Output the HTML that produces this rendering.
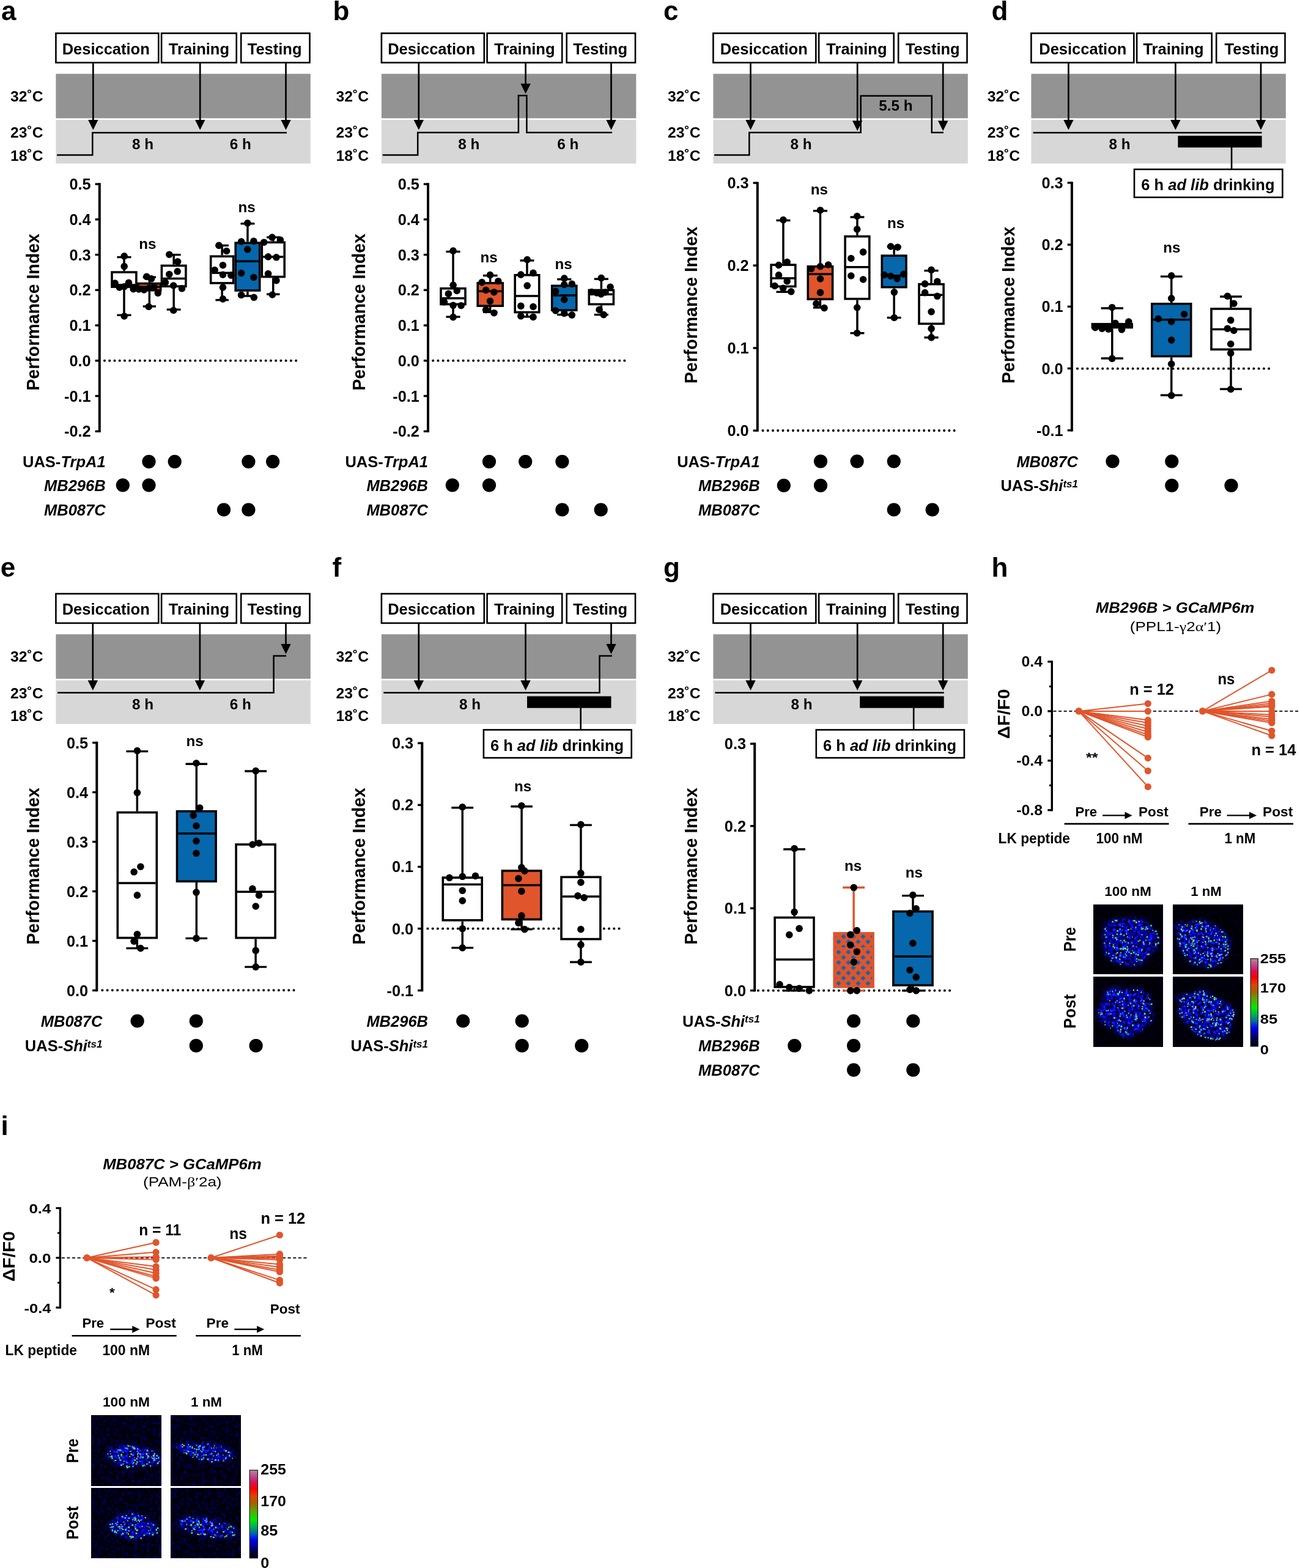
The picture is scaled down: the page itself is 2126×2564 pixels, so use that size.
<!DOCTYPE html>
<html><head><meta charset="utf-8"><title>Figure</title>
<style>
html,body{margin:0;padding:0;background:#fff;width:2126px;height:2564px;overflow:hidden;}
svg{display:block;}
</style></head>
<body>
<svg width="2126" height="2564" viewBox="0 0 2126 2564">
<defs>
<pattern id="hatch" patternUnits="userSpaceOnUse" x="1363.5" y="1527.25" width="16" height="17">
<rect width="16" height="17" fill="#e0552c"/>
<polygon points="0,0.15 4.1,4.25 0,8.35 -4.1,4.25" fill="#1463ad"/><polygon points="16,0.15 20.1,4.25 16,8.35 11.9,4.25" fill="#1463ad"/>
<polygon points="8,8.65 12.1,12.75 8,16.85 3.9,12.75" fill="#1463ad"/>
</pattern>
<linearGradient id="cbar" x1="0" y1="0" x2="0" y2="1">
<stop offset="0" stop-color="#b58aa3"/><stop offset="0.07" stop-color="#c04a86"/><stop offset="0.14" stop-color="#d4105c"/>
<stop offset="0.21" stop-color="#ff0000"/><stop offset="0.30" stop-color="#e04400"/><stop offset="0.38" stop-color="#a06400"/>
<stop offset="0.46" stop-color="#5ea400"/><stop offset="0.56" stop-color="#00ea00"/><stop offset="0.64" stop-color="#00b050"/>
<stop offset="0.71" stop-color="#0070a0"/><stop offset="0.79" stop-color="#0000ff"/><stop offset="0.89" stop-color="#000070"/>
<stop offset="1" stop-color="#000000"/>
</linearGradient>
<filter id="soft" x="-20%" y="-20%" width="140%" height="140%"><feGaussianBlur stdDeviation="2.2"/></filter>
<filter id="spk" x="-5%" y="-5%" width="110%" height="110%"><feGaussianBlur stdDeviation="0.45"/></filter>
<filter id="hm1" filterUnits="userSpaceOnUse" x="1788.2" y="1479.2" width="113.8" height="113.8" color-interpolation-filters="sRGB"><feGaussianBlur in="SourceAlpha" stdDeviation="3.4" result="a"/><feTurbulence type="fractalNoise" baseFrequency="0.2" numOctaves="2" seed="21" result="t"/><feColorMatrix in="t" type="matrix" values="0 0 0 0 0.03  1.5 0 0 0 -0.92  2.9 0 0 0 -0.88  0 0 0 0 1" result="c"/><feComposite in="c" in2="a" operator="in" result="blob"/><feColorMatrix in="t" type="matrix" values="0 0 0 0 0  0 0 0 0 0  0 0.4 0 0 -0.17  0 0 0 0 1" result="bg"/><feMerge result="m"><feMergeNode in="bg"/><feMergeNode in="blob"/></feMerge><feGaussianBlur in="m" stdDeviation="0.6"/></filter>
<filter id="hm2" filterUnits="userSpaceOnUse" x="1788.2" y="1597.2" width="113.8" height="114" color-interpolation-filters="sRGB"><feGaussianBlur in="SourceAlpha" stdDeviation="3.4" result="a"/><feTurbulence type="fractalNoise" baseFrequency="0.2" numOctaves="2" seed="22" result="t"/><feColorMatrix in="t" type="matrix" values="0 0 0 0 0.03  1.5 0 0 0 -0.92  2.9 0 0 0 -0.88  0 0 0 0 1" result="c"/><feComposite in="c" in2="a" operator="in" result="blob"/><feColorMatrix in="t" type="matrix" values="0 0 0 0 0  0 0 0 0 0  0 0.4 0 0 -0.17  0 0 0 0 1" result="bg"/><feMerge result="m"><feMergeNode in="bg"/><feMergeNode in="blob"/></feMerge><feGaussianBlur in="m" stdDeviation="0.6"/></filter>
<filter id="hm3" filterUnits="userSpaceOnUse" x="1918" y="1479.2" width="114.1" height="113.8" color-interpolation-filters="sRGB"><feGaussianBlur in="SourceAlpha" stdDeviation="3.4" result="a"/><feTurbulence type="fractalNoise" baseFrequency="0.2" numOctaves="2" seed="23" result="t"/><feColorMatrix in="t" type="matrix" values="0 0 0 0 0.03  1.5 0 0 0 -0.92  2.9 0 0 0 -0.88  0 0 0 0 1" result="c"/><feComposite in="c" in2="a" operator="in" result="blob"/><feColorMatrix in="t" type="matrix" values="0 0 0 0 0  0 0 0 0 0  0 0.4 0 0 -0.17  0 0 0 0 1" result="bg"/><feMerge result="m"><feMergeNode in="bg"/><feMergeNode in="blob"/></feMerge><feGaussianBlur in="m" stdDeviation="0.6"/></filter>
<filter id="hm4" filterUnits="userSpaceOnUse" x="1918" y="1597.2" width="114.1" height="114" color-interpolation-filters="sRGB"><feGaussianBlur in="SourceAlpha" stdDeviation="3.4" result="a"/><feTurbulence type="fractalNoise" baseFrequency="0.2" numOctaves="2" seed="24" result="t"/><feColorMatrix in="t" type="matrix" values="0 0 0 0 0.03  1.5 0 0 0 -0.92  2.9 0 0 0 -0.88  0 0 0 0 1" result="c"/><feComposite in="c" in2="a" operator="in" result="blob"/><feColorMatrix in="t" type="matrix" values="0 0 0 0 0  0 0 0 0 0  0 0.4 0 0 -0.17  0 0 0 0 1" result="bg"/><feMerge result="m"><feMergeNode in="bg"/><feMergeNode in="blob"/></feMerge><feGaussianBlur in="m" stdDeviation="0.6"/></filter>
<filter id="hm5" filterUnits="userSpaceOnUse" x="149.3" y="2314.9" width="114.3" height="114.3" color-interpolation-filters="sRGB"><feGaussianBlur in="SourceAlpha" stdDeviation="3.4" result="a"/><feTurbulence type="fractalNoise" baseFrequency="0.2" numOctaves="2" seed="51" result="t"/><feColorMatrix in="t" type="matrix" values="0 0 0 0 0.03  1.5 0 0 0 -0.92  3.2 0 0 0 -1  0 0 0 0 1" result="c"/><feComposite in="c" in2="a" operator="in" result="blob"/><feColorMatrix in="t" type="matrix" values="0 0 0 0 0  0 0 0 0 0  0 1.1 0 0 -0.47  0 0 0 0 1" result="bg"/><feMerge result="m"><feMergeNode in="bg"/><feMergeNode in="blob"/></feMerge><feGaussianBlur in="m" stdDeviation="0.6"/></filter>
<filter id="hm6" filterUnits="userSpaceOnUse" x="149.3" y="2433.3" width="114.3" height="114.4" color-interpolation-filters="sRGB"><feGaussianBlur in="SourceAlpha" stdDeviation="3.4" result="a"/><feTurbulence type="fractalNoise" baseFrequency="0.2" numOctaves="2" seed="52" result="t"/><feColorMatrix in="t" type="matrix" values="0 0 0 0 0.03  1.5 0 0 0 -0.92  3.2 0 0 0 -1  0 0 0 0 1" result="c"/><feComposite in="c" in2="a" operator="in" result="blob"/><feColorMatrix in="t" type="matrix" values="0 0 0 0 0  0 0 0 0 0  0 1.1 0 0 -0.47  0 0 0 0 1" result="bg"/><feMerge result="m"><feMergeNode in="bg"/><feMergeNode in="blob"/></feMerge><feGaussianBlur in="m" stdDeviation="0.6"/></filter>
<filter id="hm7" filterUnits="userSpaceOnUse" x="279.5" y="2314.9" width="114.2" height="114.3" color-interpolation-filters="sRGB"><feGaussianBlur in="SourceAlpha" stdDeviation="3.4" result="a"/><feTurbulence type="fractalNoise" baseFrequency="0.2" numOctaves="2" seed="53" result="t"/><feColorMatrix in="t" type="matrix" values="0 0 0 0 0.03  1.5 0 0 0 -0.92  3.1 0 0 0 -1  0 0 0 0 1" result="c"/><feComposite in="c" in2="a" operator="in" result="blob"/><feColorMatrix in="t" type="matrix" values="0 0 0 0 0  0 0 0 0 0  0 1.1 0 0 -0.47  0 0 0 0 1" result="bg"/><feMerge result="m"><feMergeNode in="bg"/><feMergeNode in="blob"/></feMerge><feGaussianBlur in="m" stdDeviation="0.6"/></filter>
<filter id="hm8" filterUnits="userSpaceOnUse" x="279.5" y="2433.3" width="114.2" height="114.4" color-interpolation-filters="sRGB"><feGaussianBlur in="SourceAlpha" stdDeviation="3.4" result="a"/><feTurbulence type="fractalNoise" baseFrequency="0.2" numOctaves="2" seed="54" result="t"/><feColorMatrix in="t" type="matrix" values="0 0 0 0 0.03  1.5 0 0 0 -0.92  3.1 0 0 0 -1  0 0 0 0 1" result="c"/><feComposite in="c" in2="a" operator="in" result="blob"/><feColorMatrix in="t" type="matrix" values="0 0 0 0 0  0 0 0 0 0  0 1.1 0 0 -0.47  0 0 0 0 1" result="bg"/><feMerge result="m"><feMergeNode in="bg"/><feMergeNode in="blob"/></feMerge><feGaussianBlur in="m" stdDeviation="0.6"/></filter>
</defs>
<rect width="2126" height="2564" fill="#fff"/>
<g font-family="'Liberation Sans', Arial, sans-serif" font-weight="bold" fill="#000">
<text x="2" y="32.6" font-size="44">a</text>
<text x="544.5" y="33" font-size="44">b</text>
<text x="1085" y="32.6" font-size="44">c</text>
<text x="1621.5" y="33" font-size="44">d</text>
<text x="0.8" y="942.6" font-size="44">e</text>
<text x="543.5" y="942.6" font-size="44">f</text>
<text x="1085" y="942.6" font-size="44">g</text>
<text x="1621.5" y="942.6" font-size="44">h</text>
<text x="1.5" y="1856" font-size="44">i</text>
<rect x="91.4" y="120.7" width="416.4" height="72.7" fill="#939393"/>
<rect x="91.4" y="196" width="416.4" height="71.4" fill="#d7d7d7"/>
<rect x="91.4" y="54.4" width="167.9" height="48" fill="#fff" stroke="#000" stroke-width="2.6"/>
<text x="173.2" y="88.8" font-size="25.5" text-anchor="middle">Desiccation</text>
<rect x="264.1" y="54.4" width="122.6" height="48" fill="#fff" stroke="#000" stroke-width="2.6"/>
<text x="325.4" y="88.8" font-size="25.5" text-anchor="middle">Training</text>
<rect x="394.2" y="54.4" width="112.3" height="48" fill="#fff" stroke="#000" stroke-width="2.6"/>
<text x="449.1" y="88.8" font-size="25.5" text-anchor="middle">Testing</text>
<text x="70.6" y="165.8" font-size="24.7" text-anchor="end">32˚C</text>
<text x="70.6" y="225.4" font-size="24.7" text-anchor="end">23˚C</text>
<text x="70.6" y="262.5" font-size="24.7" text-anchor="end">18˚C</text>
<line x1="152.3" y1="103.2" x2="152.3" y2="198.4" stroke="#000" stroke-width="2.7"/>
<polygon points="144.1,195.9 160.5,195.9 152.3,212.4" fill="#000"/>
<line x1="327.2" y1="103.2" x2="327.2" y2="198.4" stroke="#000" stroke-width="2.7"/>
<polygon points="319,195.9 335.4,195.9 327.2,212.4" fill="#000"/>
<line x1="467.5" y1="103.2" x2="467.5" y2="198.4" stroke="#000" stroke-width="2.7"/>
<polygon points="459.3,195.9 475.7,195.9 467.5,212.4" fill="#000"/>
<path d="M93.2 253.6 H151.3 V217 H469" stroke="#000" stroke-width="2.5" fill="none"/>
<text x="233.5" y="243.7" font-size="24.3" text-anchor="middle">8 h</text>
<text x="393.3" y="243.7" font-size="24.3" text-anchor="middle">6 h</text>
<rect x="623.9" y="120.7" width="416.4" height="72.7" fill="#939393"/>
<rect x="623.9" y="196" width="416.4" height="71.4" fill="#d7d7d7"/>
<rect x="623.9" y="54.4" width="167.9" height="48" fill="#fff" stroke="#000" stroke-width="2.6"/>
<text x="705.7" y="88.8" font-size="25.5" text-anchor="middle">Desiccation</text>
<rect x="796.6" y="54.4" width="122.6" height="48" fill="#fff" stroke="#000" stroke-width="2.6"/>
<text x="857.9" y="88.8" font-size="25.5" text-anchor="middle">Training</text>
<rect x="926.7" y="54.4" width="112.3" height="48" fill="#fff" stroke="#000" stroke-width="2.6"/>
<text x="981.6" y="88.8" font-size="25.5" text-anchor="middle">Testing</text>
<text x="603.1" y="165.8" font-size="24.7" text-anchor="end">32˚C</text>
<text x="603.1" y="225.4" font-size="24.7" text-anchor="end">23˚C</text>
<text x="603.1" y="262.5" font-size="24.7" text-anchor="end">18˚C</text>
<line x1="684.8" y1="103.2" x2="684.8" y2="198.4" stroke="#000" stroke-width="2.7"/>
<polygon points="676.6,195.9 693,195.9 684.8,212.4" fill="#000"/>
<line x1="859.6" y1="103.2" x2="859.6" y2="139.3" stroke="#000" stroke-width="2.7"/>
<polygon points="851.4,136.8 867.8,136.8 859.6,153.3" fill="#000"/>
<line x1="999.5" y1="103.2" x2="999.5" y2="198.4" stroke="#000" stroke-width="2.7"/>
<polygon points="991.3,195.9 1007.7,195.9 999.5,212.4" fill="#000"/>
<path d="M625.7 253.6 H683.2 V216.8 H847.9 V156.3 H861.4 V216.8 H1001" stroke="#000" stroke-width="2.5" fill="none"/>
<text x="766.8" y="243.7" font-size="24.3" text-anchor="middle">8 h</text>
<text x="928.8" y="243.7" font-size="24.3" text-anchor="middle">6 h</text>
<rect x="1166.4" y="120.7" width="416.4" height="72.7" fill="#939393"/>
<rect x="1166.4" y="196" width="416.4" height="71.4" fill="#d7d7d7"/>
<rect x="1166.4" y="54.4" width="167.9" height="48" fill="#fff" stroke="#000" stroke-width="2.6"/>
<text x="1249.2" y="88.8" font-size="25.5" text-anchor="middle">Desiccation</text>
<rect x="1339.1" y="54.4" width="122.6" height="48" fill="#fff" stroke="#000" stroke-width="2.6"/>
<text x="1400.9" y="88.8" font-size="25.5" text-anchor="middle">Training</text>
<rect x="1469.2" y="54.4" width="112.3" height="48" fill="#fff" stroke="#000" stroke-width="2.6"/>
<text x="1525.3" y="88.8" font-size="25.5" text-anchor="middle">Testing</text>
<text x="1145.6" y="165.8" font-size="24.7" text-anchor="end">32˚C</text>
<text x="1145.6" y="225.4" font-size="24.7" text-anchor="end">23˚C</text>
<text x="1145.6" y="262.5" font-size="24.7" text-anchor="end">18˚C</text>
<line x1="1227.5" y1="103.2" x2="1227.5" y2="198.4" stroke="#000" stroke-width="2.7"/>
<polygon points="1219.3,195.9 1235.7,195.9 1227.5,212.4" fill="#000"/>
<line x1="1402.2" y1="103.2" x2="1402.2" y2="199.9" stroke="#000" stroke-width="2.7"/>
<polygon points="1394,197.4 1410.4,197.4 1402.2,213.9" fill="#000"/>
<line x1="1542.2" y1="103.2" x2="1542.2" y2="199.9" stroke="#000" stroke-width="2.7"/>
<polygon points="1534,197.4 1550.4,197.4 1542.2,213.9" fill="#000"/>
<path d="M1168.2 253.6 H1225.3 V216.8 H1407.7 V156.7 H1523.8 V216.8 H1543" stroke="#000" stroke-width="2.5" fill="none"/>
<text x="1310" y="243.7" font-size="24.3" text-anchor="middle">8 h</text>
<text x="1465" y="180.9" font-size="24.3" text-anchor="middle">5.5 h</text>
<rect x="1686.4" y="120.7" width="416.4" height="72.7" fill="#939393"/>
<rect x="1686.4" y="196" width="416.4" height="71.4" fill="#d7d7d7"/>
<rect x="1686.4" y="54.4" width="167.9" height="48" fill="#fff" stroke="#000" stroke-width="2.6"/>
<text x="1770.8" y="88.8" font-size="25.5" text-anchor="middle">Desiccation</text>
<rect x="1859.1" y="54.4" width="122.6" height="48" fill="#fff" stroke="#000" stroke-width="2.6"/>
<text x="1919" y="88.8" font-size="25.5" text-anchor="middle">Training</text>
<rect x="1989.2" y="54.4" width="112.3" height="48" fill="#fff" stroke="#000" stroke-width="2.6"/>
<text x="2047" y="88.8" font-size="25.5" text-anchor="middle">Testing</text>
<text x="1668.2" y="165.8" font-size="24.7" text-anchor="end">32˚C</text>
<text x="1668.2" y="225.4" font-size="24.7" text-anchor="end">23˚C</text>
<text x="1668.2" y="262.5" font-size="24.7" text-anchor="end">18˚C</text>
<line x1="1747.4" y1="103.2" x2="1747.4" y2="198.4" stroke="#000" stroke-width="2.7"/>
<polygon points="1739.2,195.9 1755.6,195.9 1747.4,212.4" fill="#000"/>
<line x1="1922.4" y1="103.2" x2="1922.4" y2="198.4" stroke="#000" stroke-width="2.7"/>
<polygon points="1914.2,195.9 1930.6,195.9 1922.4,212.4" fill="#000"/>
<line x1="2062" y1="103.2" x2="2062" y2="198.4" stroke="#000" stroke-width="2.7"/>
<polygon points="2053.8,195.9 2070.2,195.9 2062,212.4" fill="#000"/>
<path d="M1689.6 216.9 H2063.6" stroke="#000" stroke-width="2.5" fill="none"/>
<rect x="1926.4" y="222" width="137.2" height="19.2" fill="#000"/>
<line x1="2014.1" y1="241" x2="2014.1" y2="276" stroke="#000" stroke-width="2.6"/>
<rect x="1855" y="276.9" width="242.4" height="45.8" fill="#fff" stroke="#000" stroke-width="2.6"/>
<text x="1975.4" y="311" font-size="25.5" text-anchor="middle">6 h <tspan font-style="italic">ad lib</tspan> drinking</text>
<text x="1831" y="243.7" font-size="24.3" text-anchor="middle">8 h</text>
<rect x="91.4" y="1037.2" width="416.4" height="72.7" fill="#939393"/>
<rect x="91.4" y="1112.5" width="416.4" height="71.4" fill="#d7d7d7"/>
<rect x="91.4" y="970.9" width="167.9" height="48" fill="#fff" stroke="#000" stroke-width="2.6"/>
<text x="173.2" y="1005.3" font-size="25.5" text-anchor="middle">Desiccation</text>
<rect x="264.1" y="970.9" width="122.6" height="48" fill="#fff" stroke="#000" stroke-width="2.6"/>
<text x="325.4" y="1005.3" font-size="25.5" text-anchor="middle">Training</text>
<rect x="394.2" y="970.9" width="112.3" height="48" fill="#fff" stroke="#000" stroke-width="2.6"/>
<text x="449.1" y="1005.3" font-size="25.5" text-anchor="middle">Testing</text>
<text x="70.6" y="1082.3" font-size="24.7" text-anchor="end">32˚C</text>
<text x="70.6" y="1141.9" font-size="24.7" text-anchor="end">23˚C</text>
<text x="70.6" y="1179" font-size="24.7" text-anchor="end">18˚C</text>
<line x1="151.8" y1="1019.7" x2="151.8" y2="1114.9" stroke="#000" stroke-width="2.7"/>
<polygon points="143.6,1112.4 160,1112.4 151.8,1128.9" fill="#000"/>
<line x1="326.9" y1="1019.7" x2="326.9" y2="1114.9" stroke="#000" stroke-width="2.7"/>
<polygon points="318.7,1112.4 335.1,1112.4 326.9,1128.9" fill="#000"/>
<line x1="467.5" y1="1019.7" x2="467.5" y2="1055.6" stroke="#000" stroke-width="2.7"/>
<polygon points="459.3,1053.1 475.7,1053.1 467.5,1069.6" fill="#000"/>
<path d="M94.1 1132.8 H447.6 V1072.6 H468" stroke="#000" stroke-width="2.5" fill="none"/>
<text x="233.5" y="1160.2" font-size="24.3" text-anchor="middle">8 h</text>
<text x="393.3" y="1160.2" font-size="24.3" text-anchor="middle">6 h</text>
<rect x="623.9" y="1037.2" width="416.4" height="72.7" fill="#939393"/>
<rect x="623.9" y="1112.5" width="416.4" height="71.4" fill="#d7d7d7"/>
<rect x="623.9" y="970.9" width="167.9" height="48" fill="#fff" stroke="#000" stroke-width="2.6"/>
<text x="705.7" y="1005.3" font-size="25.5" text-anchor="middle">Desiccation</text>
<rect x="796.6" y="970.9" width="122.6" height="48" fill="#fff" stroke="#000" stroke-width="2.6"/>
<text x="857.9" y="1005.3" font-size="25.5" text-anchor="middle">Training</text>
<rect x="926.7" y="970.9" width="112.3" height="48" fill="#fff" stroke="#000" stroke-width="2.6"/>
<text x="981.6" y="1005.3" font-size="25.5" text-anchor="middle">Testing</text>
<text x="603.1" y="1082.3" font-size="24.7" text-anchor="end">32˚C</text>
<text x="603.1" y="1141.9" font-size="24.7" text-anchor="end">23˚C</text>
<text x="603.1" y="1179" font-size="24.7" text-anchor="end">18˚C</text>
<line x1="684.8" y1="1019.7" x2="684.8" y2="1114.9" stroke="#000" stroke-width="2.7"/>
<polygon points="676.6,1112.4 693,1112.4 684.8,1128.9" fill="#000"/>
<line x1="859.5" y1="1019.7" x2="859.5" y2="1114.9" stroke="#000" stroke-width="2.7"/>
<polygon points="851.3,1112.4 867.7,1112.4 859.5,1128.9" fill="#000"/>
<line x1="999.5" y1="1019.7" x2="999.5" y2="1055.6" stroke="#000" stroke-width="2.7"/>
<polygon points="991.3,1053.1 1007.7,1053.1 999.5,1069.6" fill="#000"/>
<path d="M627.3 1132.8 H980.5 V1072.6 H1001" stroke="#000" stroke-width="2.5" fill="none"/>
<rect x="862" y="1138.5" width="137.5" height="19.2" fill="#000"/>
<line x1="949.7" y1="1157.5" x2="949.7" y2="1192.5" stroke="#000" stroke-width="2.6"/>
<rect x="790.9" y="1193.4" width="241.8" height="45.8" fill="#fff" stroke="#000" stroke-width="2.6"/>
<text x="911" y="1227.5" font-size="25.5" text-anchor="middle">6 h <tspan font-style="italic">ad lib</tspan> drinking</text>
<text x="768.5" y="1160.2" font-size="24.3" text-anchor="middle">8 h</text>
<rect x="1166.4" y="1037.2" width="416.4" height="72.7" fill="#939393"/>
<rect x="1166.4" y="1112.5" width="416.4" height="71.4" fill="#d7d7d7"/>
<rect x="1166.4" y="970.9" width="167.9" height="48" fill="#fff" stroke="#000" stroke-width="2.6"/>
<text x="1249.2" y="1005.3" font-size="25.5" text-anchor="middle">Desiccation</text>
<rect x="1339.1" y="970.9" width="122.6" height="48" fill="#fff" stroke="#000" stroke-width="2.6"/>
<text x="1400.9" y="1005.3" font-size="25.5" text-anchor="middle">Training</text>
<rect x="1469.2" y="970.9" width="112.3" height="48" fill="#fff" stroke="#000" stroke-width="2.6"/>
<text x="1525.3" y="1005.3" font-size="25.5" text-anchor="middle">Testing</text>
<text x="1145.6" y="1082.3" font-size="24.7" text-anchor="end">32˚C</text>
<text x="1145.6" y="1141.9" font-size="24.7" text-anchor="end">23˚C</text>
<text x="1145.6" y="1179" font-size="24.7" text-anchor="end">18˚C</text>
<line x1="1227.5" y1="1019.7" x2="1227.5" y2="1114.9" stroke="#000" stroke-width="2.7"/>
<polygon points="1219.3,1112.4 1235.7,1112.4 1227.5,1128.9" fill="#000"/>
<line x1="1402.2" y1="1019.7" x2="1402.2" y2="1114.9" stroke="#000" stroke-width="2.7"/>
<polygon points="1394,1112.4 1410.4,1112.4 1402.2,1128.9" fill="#000"/>
<line x1="1542.2" y1="1019.7" x2="1542.2" y2="1114.9" stroke="#000" stroke-width="2.7"/>
<polygon points="1534,1112.4 1550.4,1112.4 1542.2,1128.9" fill="#000"/>
<path d="M1169.4 1132.8 H1543.7" stroke="#000" stroke-width="2.5" fill="none"/>
<rect x="1406.2" y="1138.5" width="137.5" height="19.2" fill="#000"/>
<line x1="1494.2" y1="1157.5" x2="1494.2" y2="1192.5" stroke="#000" stroke-width="2.6"/>
<rect x="1334.8" y="1193.4" width="242.1" height="45.8" fill="#fff" stroke="#000" stroke-width="2.6"/>
<text x="1455.05" y="1227.5" font-size="25.5" text-anchor="middle">6 h <tspan font-style="italic">ad lib</tspan> drinking</text>
<text x="1311" y="1160.2" font-size="24.3" text-anchor="middle">8 h</text>
<line x1="162.8" y1="299.35" x2="162.8" y2="707" stroke="#000" stroke-width="4"/>
<line x1="155.6" y1="301.05" x2="162.8" y2="301.05" stroke="#000" stroke-width="3.4"/>
<text x="148.6" y="310.05" font-size="25.3" text-anchor="end">0.5</text>
<line x1="155.6" y1="358.8" x2="162.8" y2="358.8" stroke="#000" stroke-width="3.4"/>
<text x="148.6" y="367.8" font-size="25.3" text-anchor="end">0.4</text>
<line x1="155.6" y1="416.55" x2="162.8" y2="416.55" stroke="#000" stroke-width="3.4"/>
<text x="148.6" y="425.55" font-size="25.3" text-anchor="end">0.3</text>
<line x1="155.6" y1="474.3" x2="162.8" y2="474.3" stroke="#000" stroke-width="3.4"/>
<text x="148.6" y="483.3" font-size="25.3" text-anchor="end">0.2</text>
<line x1="155.6" y1="532.05" x2="162.8" y2="532.05" stroke="#000" stroke-width="3.4"/>
<text x="148.6" y="541.05" font-size="25.3" text-anchor="end">0.1</text>
<line x1="155.6" y1="589.8" x2="162.8" y2="589.8" stroke="#000" stroke-width="3.4"/>
<text x="148.6" y="598.8" font-size="25.3" text-anchor="end">0.0</text>
<line x1="155.6" y1="647.55" x2="162.8" y2="647.55" stroke="#000" stroke-width="3.4"/>
<text x="148.6" y="656.55" font-size="25.3" text-anchor="end">-0.1</text>
<line x1="155.6" y1="705.3" x2="162.8" y2="705.3" stroke="#000" stroke-width="3.4"/>
<text x="148.6" y="714.3" font-size="25.3" text-anchor="end">-0.2</text>
<text transform="translate(64.3,510.4) rotate(-90)" x="0" y="0" font-size="29.5" text-anchor="middle" textLength="256.5" lengthAdjust="spacingAndGlyphs">Performance Index</text>
<line x1="171" y1="589.8" x2="486" y2="589.8" stroke="#000" stroke-width="4.1" stroke-linecap="round" stroke-dasharray="0 8.24"/>
<line x1="202.95" y1="420.5" x2="202.95" y2="443.3" stroke="#000" stroke-width="3.5"/>
<line x1="202.95" y1="470.9" x2="202.95" y2="515.3" stroke="#000" stroke-width="3.5"/>
<line x1="191.42" y1="420.5" x2="214.48" y2="420.5" stroke="#000" stroke-width="3.4"/>
<line x1="191.42" y1="515.3" x2="214.48" y2="515.3" stroke="#000" stroke-width="3.4"/>
<rect x="183" y="445.1" width="39.9" height="24" fill="#fff" stroke="#000" stroke-width="3.6"/>
<line x1="184.8" y1="466" x2="221.1" y2="466" stroke="#000" stroke-width="3.5"/>
<circle cx="203.2" cy="418.8" r="5.8" fill="#000"/>
<circle cx="203.2" cy="435.6" r="5.8" fill="#000"/>
<circle cx="188.1" cy="463.1" r="5.8" fill="#000"/>
<circle cx="210.5" cy="462.3" r="5.8" fill="#000"/>
<circle cx="195.4" cy="470" r="5.8" fill="#000"/>
<circle cx="203.2" cy="468.7" r="5.8" fill="#000"/>
<circle cx="218.2" cy="472.6" r="5.8" fill="#000"/>
<circle cx="203.2" cy="517" r="5.8" fill="#000"/>
<line x1="244.35" y1="453.2" x2="244.35" y2="461.8" stroke="#000" stroke-width="3.5"/>
<line x1="244.35" y1="476.5" x2="244.35" y2="501" stroke="#000" stroke-width="3.5"/>
<line x1="233.67" y1="453.2" x2="255.03" y2="453.2" stroke="#000" stroke-width="3.4"/>
<line x1="233.67" y1="501" x2="255.03" y2="501" stroke="#000" stroke-width="3.4"/>
<rect x="226" y="463.6" width="36.7" height="11.1" fill="#e0552c" stroke="#000" stroke-width="3.6"/>
<line x1="227.8" y1="469" x2="260.9" y2="469" stroke="#000" stroke-width="3.5"/>
<circle cx="239.8" cy="452.4" r="5.8" fill="#000"/>
<circle cx="247.5" cy="455.8" r="5.8" fill="#000"/>
<circle cx="226.9" cy="473" r="5.8" fill="#000"/>
<circle cx="235.5" cy="473.9" r="5.8" fill="#000"/>
<circle cx="244" cy="471" r="5.8" fill="#000"/>
<circle cx="252" cy="469" r="5.8" fill="#000"/>
<circle cx="258.3" cy="479.1" r="5.8" fill="#000"/>
<circle cx="243.2" cy="501.5" r="5.8" fill="#000"/>
<line x1="284.15" y1="416.6" x2="284.15" y2="432.6" stroke="#000" stroke-width="3.5"/>
<line x1="284.15" y1="470" x2="284.15" y2="506.2" stroke="#000" stroke-width="3.5"/>
<line x1="272.73" y1="416.6" x2="295.57" y2="416.6" stroke="#000" stroke-width="3.4"/>
<line x1="272.73" y1="506.2" x2="295.57" y2="506.2" stroke="#000" stroke-width="3.4"/>
<rect x="264.4" y="434.4" width="39.5" height="33.8" fill="#fff" stroke="#000" stroke-width="3.6"/>
<line x1="266.2" y1="455.4" x2="302.1" y2="455.4" stroke="#000" stroke-width="3.5"/>
<circle cx="276.8" cy="416.2" r="5.8" fill="#000"/>
<circle cx="290.6" cy="427.8" r="5.8" fill="#000"/>
<circle cx="290.2" cy="443.8" r="5.8" fill="#000"/>
<circle cx="276.8" cy="448.5" r="5.8" fill="#000"/>
<circle cx="270.4" cy="461.8" r="5.8" fill="#000"/>
<circle cx="283.7" cy="467" r="5.8" fill="#000"/>
<circle cx="297.5" cy="471.8" r="5.8" fill="#000"/>
<circle cx="283.7" cy="507.5" r="5.8" fill="#000"/>
<line x1="363.15" y1="401.4" x2="363.15" y2="417.4" stroke="#000" stroke-width="3.5"/>
<line x1="363.15" y1="464.7" x2="363.15" y2="490.6" stroke="#000" stroke-width="3.5"/>
<line x1="352.42" y1="401.4" x2="373.88" y2="401.4" stroke="#000" stroke-width="3.4"/>
<line x1="352.42" y1="490.6" x2="373.88" y2="490.6" stroke="#000" stroke-width="3.4"/>
<rect x="344.7" y="419.2" width="36.9" height="43.7" fill="#fff" stroke="#000" stroke-width="3.6"/>
<line x1="346.5" y1="446.2" x2="379.8" y2="446.2" stroke="#000" stroke-width="3.5"/>
<circle cx="358" cy="401.4" r="5.8" fill="#000"/>
<circle cx="370.5" cy="410.5" r="5.8" fill="#000"/>
<circle cx="364.5" cy="433.7" r="5.8" fill="#000"/>
<circle cx="351.1" cy="441.5" r="5.8" fill="#000"/>
<circle cx="364.5" cy="449.2" r="5.8" fill="#000"/>
<circle cx="377.8" cy="450.1" r="5.8" fill="#000"/>
<circle cx="364.5" cy="469.9" r="5.8" fill="#000"/>
<circle cx="364.5" cy="488.9" r="5.8" fill="#000"/>
<line x1="404.95" y1="365.7" x2="404.95" y2="395.4" stroke="#000" stroke-width="3.5"/>
<line x1="404.95" y1="476.8" x2="404.95" y2="484" stroke="#000" stroke-width="3.5"/>
<line x1="393.53" y1="365.7" x2="416.37" y2="365.7" stroke="#000" stroke-width="3.4"/>
<line x1="393.53" y1="484" x2="416.37" y2="484" stroke="#000" stroke-width="3.4"/>
<rect x="385.2" y="397.2" width="39.5" height="77.8" fill="#0667ac" stroke="#000" stroke-width="3.6"/>
<line x1="387" y1="427.3" x2="422.9" y2="427.3" stroke="#000" stroke-width="3.5"/>
<circle cx="404.8" cy="364.8" r="5.8" fill="#000"/>
<circle cx="394.6" cy="395" r="5.8" fill="#000"/>
<circle cx="414.9" cy="394.3" r="5.8" fill="#000"/>
<circle cx="404.8" cy="407.9" r="5.8" fill="#000"/>
<circle cx="394.6" cy="446.6" r="5.8" fill="#000"/>
<circle cx="414.9" cy="453.5" r="5.8" fill="#000"/>
<circle cx="394.6" cy="482.4" r="5.8" fill="#000"/>
<circle cx="415.3" cy="486.3" r="5.8" fill="#000"/>
<line x1="446.75" y1="388" x2="446.75" y2="394.5" stroke="#000" stroke-width="3.5"/>
<line x1="446.75" y1="454.4" x2="446.75" y2="481.1" stroke="#000" stroke-width="3.5"/>
<line x1="436.02" y1="388" x2="457.48" y2="388" stroke="#000" stroke-width="3.4"/>
<line x1="436.02" y1="481.1" x2="457.48" y2="481.1" stroke="#000" stroke-width="3.4"/>
<rect x="428.3" y="396.3" width="36.9" height="56.3" fill="#fff" stroke="#000" stroke-width="3.6"/>
<line x1="430.1" y1="419.9" x2="463.4" y2="419.9" stroke="#000" stroke-width="3.5"/>
<circle cx="431.7" cy="396.2" r="5.8" fill="#000"/>
<circle cx="445" cy="388.1" r="5.8" fill="#000"/>
<circle cx="458.4" cy="392.4" r="5.8" fill="#000"/>
<circle cx="438.6" cy="419.9" r="5.8" fill="#000"/>
<circle cx="451.9" cy="420.8" r="5.8" fill="#000"/>
<circle cx="438.6" cy="447.5" r="5.8" fill="#000"/>
<circle cx="451.9" cy="458.7" r="5.8" fill="#000"/>
<circle cx="445.4" cy="482" r="5.8" fill="#000"/>
<text x="241.4" y="406.9" font-size="24.8" text-anchor="middle" textLength="28.2" lengthAdjust="spacingAndGlyphs">ns</text>
<text x="403.5" y="346.8" font-size="24.8" text-anchor="middle" textLength="28.2" lengthAdjust="spacingAndGlyphs">ns</text>
<text x="172.6" y="764.1" font-size="25.5" text-anchor="end">UAS-<tspan font-style="italic">TrpA1</tspan></text>
<circle cx="243.5" cy="754.8" r="11.1" fill="#000"/>
<circle cx="285.7" cy="754.8" r="11.1" fill="#000"/>
<circle cx="406.4" cy="754.8" r="11.1" fill="#000"/>
<circle cx="446.1" cy="754.8" r="11.1" fill="#000"/>
<text x="172.6" y="802.6" font-size="25.5" text-anchor="end"><tspan font-style="italic">MB296B</tspan></text>
<circle cx="200.8" cy="793.3" r="11.1" fill="#000"/>
<circle cx="243.5" cy="793.3" r="11.1" fill="#000"/>
<text x="172.6" y="842.8" font-size="25.5" text-anchor="end"><tspan font-style="italic">MB087C</tspan></text>
<circle cx="366" cy="833.5" r="11.1" fill="#000"/>
<circle cx="406.4" cy="833.5" r="11.1" fill="#000"/>
<line x1="700" y1="299.35" x2="700" y2="707" stroke="#000" stroke-width="4"/>
<line x1="692.8" y1="301.05" x2="700" y2="301.05" stroke="#000" stroke-width="3.4"/>
<text x="685.8" y="310.05" font-size="25.3" text-anchor="end">0.5</text>
<line x1="692.8" y1="358.8" x2="700" y2="358.8" stroke="#000" stroke-width="3.4"/>
<text x="685.8" y="367.8" font-size="25.3" text-anchor="end">0.4</text>
<line x1="692.8" y1="416.55" x2="700" y2="416.55" stroke="#000" stroke-width="3.4"/>
<text x="685.8" y="425.55" font-size="25.3" text-anchor="end">0.3</text>
<line x1="692.8" y1="474.3" x2="700" y2="474.3" stroke="#000" stroke-width="3.4"/>
<text x="685.8" y="483.3" font-size="25.3" text-anchor="end">0.2</text>
<line x1="692.8" y1="532.05" x2="700" y2="532.05" stroke="#000" stroke-width="3.4"/>
<text x="685.8" y="541.05" font-size="25.3" text-anchor="end">0.1</text>
<line x1="692.8" y1="589.8" x2="700" y2="589.8" stroke="#000" stroke-width="3.4"/>
<text x="685.8" y="598.8" font-size="25.3" text-anchor="end">0.0</text>
<line x1="692.8" y1="647.55" x2="700" y2="647.55" stroke="#000" stroke-width="3.4"/>
<text x="685.8" y="656.55" font-size="25.3" text-anchor="end">-0.1</text>
<line x1="692.8" y1="705.3" x2="700" y2="705.3" stroke="#000" stroke-width="3.4"/>
<text x="685.8" y="714.3" font-size="25.3" text-anchor="end">-0.2</text>
<text transform="translate(596.9,510.4) rotate(-90)" x="0" y="0" font-size="29.5" text-anchor="middle" textLength="256.5" lengthAdjust="spacingAndGlyphs">Performance Index</text>
<line x1="708.2" y1="589.8" x2="1023.5" y2="589.8" stroke="#000" stroke-width="4.1" stroke-linecap="round" stroke-dasharray="0 8.24"/>
<line x1="741" y1="411.5" x2="741" y2="469.9" stroke="#000" stroke-width="3.5"/>
<line x1="741" y1="499.3" x2="741" y2="518.1" stroke="#000" stroke-width="3.5"/>
<line x1="729.45" y1="411.5" x2="752.55" y2="411.5" stroke="#000" stroke-width="3.4"/>
<line x1="729.45" y1="518.1" x2="752.55" y2="518.1" stroke="#000" stroke-width="3.4"/>
<rect x="721" y="471.7" width="40" height="25.8" fill="#fff" stroke="#000" stroke-width="3.6"/>
<line x1="722.8" y1="487.8" x2="759.2" y2="487.8" stroke="#000" stroke-width="3.5"/>
<circle cx="741.1" cy="410.1" r="5.8" fill="#000"/>
<circle cx="741.1" cy="466.2" r="5.8" fill="#000"/>
<circle cx="747.2" cy="475.4" r="5.8" fill="#000"/>
<circle cx="733.4" cy="480.4" r="5.8" fill="#000"/>
<circle cx="726.5" cy="493.8" r="5.8" fill="#000"/>
<circle cx="741.1" cy="499.3" r="5.8" fill="#000"/>
<circle cx="754.1" cy="499.7" r="5.8" fill="#000"/>
<circle cx="741.1" cy="518.6" r="5.8" fill="#000"/>
<line x1="801.7" y1="450.6" x2="801.7" y2="461.1" stroke="#000" stroke-width="3.5"/>
<line x1="801.7" y1="502" x2="801.7" y2="510.3" stroke="#000" stroke-width="3.5"/>
<line x1="789.88" y1="450.6" x2="813.52" y2="450.6" stroke="#000" stroke-width="3.4"/>
<line x1="789.88" y1="510.3" x2="813.52" y2="510.3" stroke="#000" stroke-width="3.4"/>
<rect x="781.2" y="462.9" width="41" height="37.3" fill="#e0552c" stroke="#000" stroke-width="3.6"/>
<line x1="783" y1="476.3" x2="820.4" y2="476.3" stroke="#000" stroke-width="3.5"/>
<circle cx="801.5" cy="449.6" r="5.8" fill="#000"/>
<circle cx="788.1" cy="461.6" r="5.8" fill="#000"/>
<circle cx="814.8" cy="459.7" r="5.8" fill="#000"/>
<circle cx="794.6" cy="474.4" r="5.8" fill="#000"/>
<circle cx="807.9" cy="477.7" r="5.8" fill="#000"/>
<circle cx="801.5" cy="492.4" r="5.8" fill="#000"/>
<circle cx="794.6" cy="506.6" r="5.8" fill="#000"/>
<circle cx="807.9" cy="511.7" r="5.8" fill="#000"/>
<line x1="861.95" y1="426" x2="861.95" y2="448" stroke="#000" stroke-width="3.5"/>
<line x1="861.95" y1="512.4" x2="861.95" y2="517.9" stroke="#000" stroke-width="3.5"/>
<line x1="850.53" y1="426" x2="873.37" y2="426" stroke="#000" stroke-width="3.4"/>
<line x1="850.53" y1="517.9" x2="873.37" y2="517.9" stroke="#000" stroke-width="3.4"/>
<rect x="842.2" y="449.8" width="39.5" height="60.8" fill="#fff" stroke="#000" stroke-width="3.6"/>
<line x1="844" y1="484" x2="879.9" y2="484" stroke="#000" stroke-width="3.5"/>
<circle cx="862.2" cy="424.6" r="5.8" fill="#000"/>
<circle cx="851.8" cy="449.1" r="5.8" fill="#000"/>
<circle cx="872" cy="446.4" r="5.8" fill="#000"/>
<circle cx="862.2" cy="467.1" r="5.8" fill="#000"/>
<circle cx="851.8" cy="500.4" r="5.8" fill="#000"/>
<circle cx="872" cy="501.5" r="5.8" fill="#000"/>
<circle cx="851.8" cy="516.8" r="5.8" fill="#000"/>
<circle cx="872" cy="518.4" r="5.8" fill="#000"/>
<line x1="922.75" y1="456.7" x2="922.75" y2="465.5" stroke="#000" stroke-width="3.5"/>
<line x1="922.75" y1="509.1" x2="922.75" y2="514.6" stroke="#000" stroke-width="3.5"/>
<line x1="911.17" y1="456.7" x2="934.33" y2="456.7" stroke="#000" stroke-width="3.4"/>
<line x1="911.17" y1="514.6" x2="934.33" y2="514.6" stroke="#000" stroke-width="3.4"/>
<rect x="902.7" y="467.3" width="40.1" height="40" fill="#0667ac" stroke="#000" stroke-width="3.6"/>
<line x1="904.5" y1="482.9" x2="941" y2="482.9" stroke="#000" stroke-width="3.5"/>
<circle cx="922.8" cy="455.1" r="5.8" fill="#000"/>
<circle cx="935.3" cy="464.4" r="5.8" fill="#000"/>
<circle cx="922.8" cy="465.5" r="5.8" fill="#000"/>
<circle cx="908.6" cy="476.4" r="5.8" fill="#000"/>
<circle cx="922.8" cy="490" r="5.8" fill="#000"/>
<circle cx="908.6" cy="508" r="5.8" fill="#000"/>
<circle cx="922.8" cy="512.4" r="5.8" fill="#000"/>
<circle cx="935.3" cy="515.1" r="5.8" fill="#000"/>
<line x1="983.35" y1="456.2" x2="983.35" y2="472.6" stroke="#000" stroke-width="3.5"/>
<line x1="983.35" y1="499.3" x2="983.35" y2="514.6" stroke="#000" stroke-width="3.5"/>
<line x1="971.77" y1="456.2" x2="994.93" y2="456.2" stroke="#000" stroke-width="3.4"/>
<line x1="971.77" y1="514.6" x2="994.93" y2="514.6" stroke="#000" stroke-width="3.4"/>
<rect x="963.3" y="474.4" width="40.1" height="23.1" fill="#fff" stroke="#000" stroke-width="3.6"/>
<line x1="965.1" y1="481.3" x2="1001.6" y2="481.3" stroke="#000" stroke-width="3.5"/>
<circle cx="983.3" cy="454.6" r="5.8" fill="#000"/>
<circle cx="998.1" cy="469.3" r="5.8" fill="#000"/>
<circle cx="967.5" cy="477.5" r="5.8" fill="#000"/>
<circle cx="976" cy="479" r="5.8" fill="#000"/>
<circle cx="990" cy="478" r="5.8" fill="#000"/>
<circle cx="983" cy="481" r="5.8" fill="#000"/>
<circle cx="980.1" cy="506.4" r="5.8" fill="#000"/>
<circle cx="987.2" cy="514.6" r="5.8" fill="#000"/>
<text x="799.6" y="428.7" font-size="24.8" text-anchor="middle" textLength="28.2" lengthAdjust="spacingAndGlyphs">ns</text>
<text x="921.7" y="440.4" font-size="24.8" text-anchor="middle" textLength="28.2" lengthAdjust="spacingAndGlyphs">ns</text>
<text x="700" y="764.1" font-size="25.5" text-anchor="end">UAS-<tspan font-style="italic">TrpA1</tspan></text>
<circle cx="800" cy="754.8" r="11.1" fill="#000"/>
<circle cx="859.2" cy="754.8" r="11.1" fill="#000"/>
<circle cx="919.4" cy="754.8" r="11.1" fill="#000"/>
<text x="700" y="802.6" font-size="25.5" text-anchor="end"><tspan font-style="italic">MB296B</tspan></text>
<circle cx="739.8" cy="793.3" r="11.1" fill="#000"/>
<circle cx="800" cy="793.3" r="11.1" fill="#000"/>
<text x="700" y="842.8" font-size="25.5" text-anchor="end"><tspan font-style="italic">MB087C</tspan></text>
<circle cx="919.4" cy="833.5" r="11.1" fill="#000"/>
<circle cx="982.7" cy="833.5" r="11.1" fill="#000"/>
<line x1="1238.8" y1="297.4" x2="1238.8" y2="705.8" stroke="#000" stroke-width="4"/>
<line x1="1231.6" y1="299.1" x2="1238.8" y2="299.1" stroke="#000" stroke-width="3.4"/>
<text x="1224.6" y="308.1" font-size="25.3" text-anchor="end">0.3</text>
<line x1="1231.6" y1="434.1" x2="1238.8" y2="434.1" stroke="#000" stroke-width="3.4"/>
<text x="1224.6" y="443.1" font-size="25.3" text-anchor="end">0.2</text>
<line x1="1231.6" y1="569.1" x2="1238.8" y2="569.1" stroke="#000" stroke-width="3.4"/>
<text x="1224.6" y="578.1" font-size="25.3" text-anchor="end">0.1</text>
<line x1="1231.6" y1="704.1" x2="1238.8" y2="704.1" stroke="#000" stroke-width="3.4"/>
<text x="1224.6" y="713.1" font-size="25.3" text-anchor="end">0.0</text>
<text transform="translate(1140,498.9) rotate(-90)" x="0" y="0" font-size="29.5" text-anchor="middle" textLength="256.5" lengthAdjust="spacingAndGlyphs">Performance Index</text>
<line x1="1247.5" y1="704.1" x2="1563.5" y2="704.1" stroke="#000" stroke-width="4.1" stroke-linecap="round" stroke-dasharray="0 8.24"/>
<line x1="1280.95" y1="360.4" x2="1280.95" y2="431.3" stroke="#000" stroke-width="3.5"/>
<line x1="1280.95" y1="470.2" x2="1280.95" y2="477.3" stroke="#000" stroke-width="3.5"/>
<line x1="1269.48" y1="360.4" x2="1292.42" y2="360.4" stroke="#000" stroke-width="3.4"/>
<line x1="1269.48" y1="477.3" x2="1292.42" y2="477.3" stroke="#000" stroke-width="3.4"/>
<rect x="1261.1" y="433.1" width="39.7" height="35.3" fill="#fff" stroke="#000" stroke-width="3.6"/>
<line x1="1262.9" y1="454.9" x2="1299" y2="454.9" stroke="#000" stroke-width="3.5"/>
<circle cx="1281" cy="359.6" r="5.8" fill="#000"/>
<circle cx="1287.2" cy="428.6" r="5.8" fill="#000"/>
<circle cx="1273.5" cy="433.5" r="5.8" fill="#000"/>
<circle cx="1273.5" cy="449.9" r="5.8" fill="#000"/>
<circle cx="1287.2" cy="459.8" r="5.8" fill="#000"/>
<circle cx="1267" cy="467.5" r="5.8" fill="#000"/>
<circle cx="1280.7" cy="471.3" r="5.8" fill="#000"/>
<circle cx="1293.8" cy="476.8" r="5.8" fill="#000"/>
<line x1="1341.45" y1="344.8" x2="1341.45" y2="434" stroke="#000" stroke-width="3.5"/>
<line x1="1341.45" y1="491" x2="1341.45" y2="503" stroke="#000" stroke-width="3.5"/>
<line x1="1329.82" y1="344.8" x2="1353.08" y2="344.8" stroke="#000" stroke-width="3.4"/>
<line x1="1329.82" y1="503" x2="1353.08" y2="503" stroke="#000" stroke-width="3.4"/>
<rect x="1321.3" y="435.8" width="40.3" height="53.4" fill="#e0552c" stroke="#000" stroke-width="3.6"/>
<line x1="1323.1" y1="448.3" x2="1359.8" y2="448.3" stroke="#000" stroke-width="3.5"/>
<circle cx="1341.5" cy="343.7" r="5.8" fill="#000"/>
<circle cx="1341.5" cy="435.7" r="5.8" fill="#000"/>
<circle cx="1354.6" cy="433" r="5.8" fill="#000"/>
<circle cx="1326.7" cy="439.5" r="5.8" fill="#000"/>
<circle cx="1341.5" cy="456" r="5.8" fill="#000"/>
<circle cx="1341.5" cy="478.4" r="5.8" fill="#000"/>
<circle cx="1334.9" cy="496.5" r="5.8" fill="#000"/>
<circle cx="1348" cy="503.6" r="5.8" fill="#000"/>
<line x1="1401.95" y1="355" x2="1401.95" y2="384.8" stroke="#000" stroke-width="3.5"/>
<line x1="1401.95" y1="490.5" x2="1401.95" y2="544.7" stroke="#000" stroke-width="3.5"/>
<line x1="1390.48" y1="355" x2="1413.42" y2="355" stroke="#000" stroke-width="3.4"/>
<line x1="1390.48" y1="544.7" x2="1413.42" y2="544.7" stroke="#000" stroke-width="3.4"/>
<rect x="1382.1" y="386.6" width="39.7" height="102.1" fill="#fff" stroke="#000" stroke-width="3.6"/>
<line x1="1383.9" y1="436.8" x2="1420" y2="436.8" stroke="#000" stroke-width="3.5"/>
<circle cx="1401.7" cy="353.5" r="5.8" fill="#000"/>
<circle cx="1401.7" cy="374.9" r="5.8" fill="#000"/>
<circle cx="1411.6" cy="412.1" r="5.8" fill="#000"/>
<circle cx="1391.8" cy="422.5" r="5.8" fill="#000"/>
<circle cx="1391.8" cy="451" r="5.8" fill="#000"/>
<circle cx="1411.6" cy="457" r="5.8" fill="#000"/>
<circle cx="1401.7" cy="503" r="5.8" fill="#000"/>
<circle cx="1401.7" cy="544.7" r="5.8" fill="#000"/>
<line x1="1462.15" y1="403.4" x2="1462.15" y2="416.3" stroke="#000" stroke-width="3.5"/>
<line x1="1462.15" y1="471.4" x2="1462.15" y2="519.5" stroke="#000" stroke-width="3.5"/>
<line x1="1450.68" y1="403.4" x2="1473.62" y2="403.4" stroke="#000" stroke-width="3.4"/>
<line x1="1450.68" y1="519.5" x2="1473.62" y2="519.5" stroke="#000" stroke-width="3.4"/>
<rect x="1442.3" y="418.1" width="39.7" height="51.5" fill="#0667ac" stroke="#000" stroke-width="3.6"/>
<line x1="1444.1" y1="450.7" x2="1480.2" y2="450.7" stroke="#000" stroke-width="3.5"/>
<circle cx="1456.7" cy="403" r="5.8" fill="#000"/>
<circle cx="1468" cy="404.2" r="5.8" fill="#000"/>
<circle cx="1446.2" cy="449.5" r="5.8" fill="#000"/>
<circle cx="1456.7" cy="451.5" r="5.8" fill="#000"/>
<circle cx="1467.2" cy="455.6" r="5.8" fill="#000"/>
<circle cx="1477.8" cy="448.3" r="5.8" fill="#000"/>
<circle cx="1462.4" cy="477.8" r="5.8" fill="#000"/>
<circle cx="1462.4" cy="519.5" r="5.8" fill="#000"/>
<line x1="1523.05" y1="442.6" x2="1523.05" y2="462.9" stroke="#000" stroke-width="3.5"/>
<line x1="1523.05" y1="531.2" x2="1523.05" y2="551.9" stroke="#000" stroke-width="3.5"/>
<line x1="1511.47" y1="442.6" x2="1534.63" y2="442.6" stroke="#000" stroke-width="3.4"/>
<line x1="1511.47" y1="551.9" x2="1534.63" y2="551.9" stroke="#000" stroke-width="3.4"/>
<rect x="1503" y="464.7" width="40.1" height="64.7" fill="#fff" stroke="#000" stroke-width="3.6"/>
<line x1="1504.8" y1="482.3" x2="1541.3" y2="482.3" stroke="#000" stroke-width="3.5"/>
<circle cx="1523.1" cy="441.4" r="5.8" fill="#000"/>
<circle cx="1512.6" cy="464.1" r="5.8" fill="#000"/>
<circle cx="1532.8" cy="460.4" r="5.8" fill="#000"/>
<circle cx="1512.6" cy="478.6" r="5.8" fill="#000"/>
<circle cx="1532.8" cy="484.3" r="5.8" fill="#000"/>
<circle cx="1523.1" cy="509.8" r="5.8" fill="#000"/>
<circle cx="1523.1" cy="537.3" r="5.8" fill="#000"/>
<circle cx="1523.1" cy="551.9" r="5.8" fill="#000"/>
<text x="1339.8" y="318.2" font-size="24.8" text-anchor="middle" textLength="28.2" lengthAdjust="spacingAndGlyphs">ns</text>
<text x="1465.1" y="373.2" font-size="24.8" text-anchor="middle" textLength="28.2" lengthAdjust="spacingAndGlyphs">ns</text>
<text x="1242.7" y="763.6" font-size="25.5" text-anchor="end">UAS-<tspan font-style="italic">TrpA1</tspan></text>
<circle cx="1342" cy="754.3" r="11.1" fill="#000"/>
<circle cx="1401.6" cy="754.3" r="11.1" fill="#000"/>
<circle cx="1461.8" cy="754.3" r="11.1" fill="#000"/>
<text x="1242.7" y="803.1" font-size="25.5" text-anchor="end"><tspan font-style="italic">MB296B</tspan></text>
<circle cx="1281.8" cy="793.8" r="11.1" fill="#000"/>
<circle cx="1342" cy="793.8" r="11.1" fill="#000"/>
<text x="1242.7" y="842.8" font-size="25.5" text-anchor="end"><tspan font-style="italic">MB087C</tspan></text>
<circle cx="1461.8" cy="833.5" r="11.1" fill="#000"/>
<circle cx="1524.7" cy="833.5" r="11.1" fill="#000"/>
<line x1="1752.9" y1="297.2" x2="1752.9" y2="705.4" stroke="#000" stroke-width="4"/>
<line x1="1745.7" y1="298.9" x2="1752.9" y2="298.9" stroke="#000" stroke-width="3.4"/>
<text x="1738.7" y="307.9" font-size="25.3" text-anchor="end">0.3</text>
<line x1="1745.7" y1="400.1" x2="1752.9" y2="400.1" stroke="#000" stroke-width="3.4"/>
<text x="1738.7" y="409.1" font-size="25.3" text-anchor="end">0.2</text>
<line x1="1745.7" y1="501.3" x2="1752.9" y2="501.3" stroke="#000" stroke-width="3.4"/>
<text x="1738.7" y="510.3" font-size="25.3" text-anchor="end">0.1</text>
<line x1="1745.7" y1="602.5" x2="1752.9" y2="602.5" stroke="#000" stroke-width="3.4"/>
<text x="1738.7" y="611.5" font-size="25.3" text-anchor="end">0.0</text>
<line x1="1745.7" y1="703.7" x2="1752.9" y2="703.7" stroke="#000" stroke-width="3.4"/>
<text x="1738.7" y="712.7" font-size="25.3" text-anchor="end">-0.1</text>
<text transform="translate(1658.6,498.9) rotate(-90)" x="0" y="0" font-size="29.5" text-anchor="middle" textLength="256.5" lengthAdjust="spacingAndGlyphs">Performance Index</text>
<line x1="1762" y1="602.8" x2="2078" y2="602.8" stroke="#000" stroke-width="4.1" stroke-linecap="round" stroke-dasharray="0 8.24"/>
<line x1="1818.8" y1="504" x2="1818.8" y2="528.1" stroke="#000" stroke-width="3.5"/>
<line x1="1818.8" y1="537.3" x2="1818.8" y2="586" stroke="#000" stroke-width="3.5"/>
<line x1="1800.67" y1="504" x2="1836.93" y2="504" stroke="#000" stroke-width="3.4"/>
<line x1="1800.67" y1="586" x2="1836.93" y2="586" stroke="#000" stroke-width="3.4"/>
<rect x="1786.4" y="529.9" width="64.8" height="5.6" fill="#fff" stroke="#000" stroke-width="3.6"/>
<line x1="1788.2" y1="532.5" x2="1849.4" y2="532.5" stroke="#000" stroke-width="3.5"/>
<circle cx="1818.7" cy="502.7" r="5.8" fill="#000"/>
<circle cx="1791.1" cy="535.7" r="5.8" fill="#000"/>
<circle cx="1802.3" cy="537.3" r="5.8" fill="#000"/>
<circle cx="1812.8" cy="538.1" r="5.8" fill="#000"/>
<circle cx="1824" cy="528.5" r="5.8" fill="#000"/>
<circle cx="1834.5" cy="538.9" r="5.8" fill="#000"/>
<circle cx="1845.8" cy="526" r="5.8" fill="#000"/>
<circle cx="1818.7" cy="586.4" r="5.8" fill="#000"/>
<line x1="1915.75" y1="452.1" x2="1915.75" y2="495" stroke="#000" stroke-width="3.5"/>
<line x1="1915.75" y1="584.4" x2="1915.75" y2="646.2" stroke="#000" stroke-width="3.5"/>
<line x1="1897.86" y1="452.1" x2="1933.64" y2="452.1" stroke="#000" stroke-width="3.4"/>
<line x1="1897.86" y1="646.2" x2="1933.64" y2="646.2" stroke="#000" stroke-width="3.4"/>
<rect x="1883.8" y="496.8" width="63.9" height="85.8" fill="#0667ac" stroke="#000" stroke-width="3.6"/>
<line x1="1885.6" y1="522.8" x2="1945.9" y2="522.8" stroke="#000" stroke-width="3.5"/>
<circle cx="1915.7" cy="450.9" r="5.8" fill="#000"/>
<circle cx="1915.7" cy="487.9" r="5.8" fill="#000"/>
<circle cx="1936.6" cy="513.7" r="5.8" fill="#000"/>
<circle cx="1894.3" cy="521.2" r="5.8" fill="#000"/>
<circle cx="1915.7" cy="526" r="5.8" fill="#000"/>
<circle cx="1915.7" cy="556.1" r="5.8" fill="#000"/>
<circle cx="1915.7" cy="595.2" r="5.8" fill="#000"/>
<circle cx="1915.7" cy="646.7" r="5.8" fill="#000"/>
<line x1="2013" y1="485" x2="2013" y2="503.2" stroke="#000" stroke-width="3.5"/>
<line x1="2013" y1="573.2" x2="2013" y2="636.2" stroke="#000" stroke-width="3.5"/>
<line x1="1995.09" y1="485" x2="2030.91" y2="485" stroke="#000" stroke-width="3.4"/>
<line x1="1995.09" y1="636.2" x2="2030.91" y2="636.2" stroke="#000" stroke-width="3.4"/>
<rect x="1981" y="505" width="64" height="66.4" fill="#fff" stroke="#000" stroke-width="3.6"/>
<line x1="1982.8" y1="538.4" x2="2043.2" y2="538.4" stroke="#000" stroke-width="3.5"/>
<circle cx="2007.4" cy="484.2" r="5.8" fill="#000"/>
<circle cx="2017.8" cy="496.3" r="5.8" fill="#000"/>
<circle cx="2012.7" cy="523.6" r="5.8" fill="#000"/>
<circle cx="2007.4" cy="537.3" r="5.8" fill="#000"/>
<circle cx="2017.8" cy="540.5" r="5.8" fill="#000"/>
<circle cx="2012.7" cy="562.5" r="5.8" fill="#000"/>
<circle cx="2012.7" cy="577.5" r="5.8" fill="#000"/>
<circle cx="2012.7" cy="636.5" r="5.8" fill="#000"/>
<text x="1916.4" y="413" font-size="24.8" text-anchor="middle" textLength="28.2" lengthAdjust="spacingAndGlyphs">ns</text>
<text x="1763" y="763.6" font-size="25.5" text-anchor="end"><tspan font-style="italic">MB087C</tspan></text>
<circle cx="1819.5" cy="754.3" r="11.1" fill="#000"/>
<circle cx="1916.3" cy="754.3" r="11.1" fill="#000"/>
<text x="1763" y="803.1" font-size="25.5" text-anchor="end">UAS-<tspan font-style="italic">Shi<tspan font-size="17" dy="-6.5">ts1</tspan></tspan></text>
<circle cx="1916.3" cy="793.8" r="11.1" fill="#000"/>
<circle cx="2013.5" cy="793.8" r="11.1" fill="#000"/>
<line x1="158.3" y1="1212.8" x2="158.3" y2="1621.2" stroke="#000" stroke-width="4"/>
<line x1="151.1" y1="1214.5" x2="158.3" y2="1214.5" stroke="#000" stroke-width="3.4"/>
<text x="144.1" y="1223.5" font-size="25.3" text-anchor="end">0.5</text>
<line x1="151.1" y1="1295.5" x2="158.3" y2="1295.5" stroke="#000" stroke-width="3.4"/>
<text x="144.1" y="1304.5" font-size="25.3" text-anchor="end">0.4</text>
<line x1="151.1" y1="1376.5" x2="158.3" y2="1376.5" stroke="#000" stroke-width="3.4"/>
<text x="144.1" y="1385.5" font-size="25.3" text-anchor="end">0.3</text>
<line x1="151.1" y1="1457.5" x2="158.3" y2="1457.5" stroke="#000" stroke-width="3.4"/>
<text x="144.1" y="1466.5" font-size="25.3" text-anchor="end">0.2</text>
<line x1="151.1" y1="1538.5" x2="158.3" y2="1538.5" stroke="#000" stroke-width="3.4"/>
<text x="144.1" y="1547.5" font-size="25.3" text-anchor="end">0.1</text>
<line x1="151.1" y1="1619.5" x2="158.3" y2="1619.5" stroke="#000" stroke-width="3.4"/>
<text x="144.1" y="1628.5" font-size="25.3" text-anchor="end">0.0</text>
<text transform="translate(64.3,1416.4) rotate(-90)" x="0" y="0" font-size="29.5" text-anchor="middle" textLength="256.5" lengthAdjust="spacingAndGlyphs">Performance Index</text>
<line x1="167.4" y1="1619.3" x2="483" y2="1619.3" stroke="#000" stroke-width="4.1" stroke-linecap="round" stroke-dasharray="0 8.24"/>
<line x1="224.3" y1="1228.6" x2="224.3" y2="1326.7" stroke="#000" stroke-width="3.5"/>
<line x1="224.3" y1="1535.4" x2="224.3" y2="1550.6" stroke="#000" stroke-width="3.5"/>
<line x1="206.39" y1="1228.6" x2="242.21" y2="1228.6" stroke="#000" stroke-width="3.4"/>
<line x1="206.39" y1="1550.6" x2="242.21" y2="1550.6" stroke="#000" stroke-width="3.4"/>
<rect x="192.3" y="1328.5" width="64" height="205.1" fill="#fff" stroke="#000" stroke-width="3.6"/>
<line x1="194.1" y1="1443.9" x2="254.5" y2="1443.9" stroke="#000" stroke-width="3.5"/>
<circle cx="224.4" cy="1227.6" r="5.8" fill="#000"/>
<circle cx="224.4" cy="1296.2" r="5.8" fill="#000"/>
<circle cx="229.9" cy="1417.2" r="5.8" fill="#000"/>
<circle cx="219.1" cy="1425.8" r="5.8" fill="#000"/>
<circle cx="224.4" cy="1463.9" r="5.8" fill="#000"/>
<circle cx="224.4" cy="1527.7" r="5.8" fill="#000"/>
<circle cx="219.1" cy="1539.2" r="5.8" fill="#000"/>
<circle cx="229.9" cy="1550.6" r="5.8" fill="#000"/>
<line x1="321.3" y1="1249.2" x2="321.3" y2="1324.8" stroke="#000" stroke-width="3.5"/>
<line x1="321.3" y1="1443" x2="321.3" y2="1534.4" stroke="#000" stroke-width="3.5"/>
<line x1="303.49" y1="1249.2" x2="339.11" y2="1249.2" stroke="#000" stroke-width="3.4"/>
<line x1="303.49" y1="1534.4" x2="339.11" y2="1534.4" stroke="#000" stroke-width="3.4"/>
<rect x="289.5" y="1326.6" width="63.6" height="114.6" fill="#0667ac" stroke="#000" stroke-width="3.6"/>
<line x1="291.3" y1="1362.9" x2="351.3" y2="1362.9" stroke="#000" stroke-width="3.5"/>
<circle cx="321" cy="1248" r="5.8" fill="#000"/>
<circle cx="326.7" cy="1321" r="5.8" fill="#000"/>
<circle cx="316.2" cy="1333.4" r="5.8" fill="#000"/>
<circle cx="321" cy="1350.5" r="5.8" fill="#000"/>
<circle cx="321" cy="1375.3" r="5.8" fill="#000"/>
<circle cx="321" cy="1395.3" r="5.8" fill="#000"/>
<circle cx="321" cy="1459.1" r="5.8" fill="#000"/>
<circle cx="321" cy="1534.4" r="5.8" fill="#000"/>
<line x1="418.1" y1="1261" x2="418.1" y2="1379.1" stroke="#000" stroke-width="3.5"/>
<line x1="418.1" y1="1535.4" x2="418.1" y2="1581.1" stroke="#000" stroke-width="3.5"/>
<line x1="400.19" y1="1261" x2="436.01" y2="1261" stroke="#000" stroke-width="3.4"/>
<line x1="400.19" y1="1581.1" x2="436.01" y2="1581.1" stroke="#000" stroke-width="3.4"/>
<rect x="386.1" y="1380.9" width="64" height="152.7" fill="#fff" stroke="#000" stroke-width="3.6"/>
<line x1="387.9" y1="1458.2" x2="448.3" y2="1458.2" stroke="#000" stroke-width="3.5"/>
<circle cx="418.2" cy="1260.6" r="5.8" fill="#000"/>
<circle cx="412.9" cy="1381" r="5.8" fill="#000"/>
<circle cx="423.5" cy="1378.7" r="5.8" fill="#000"/>
<circle cx="412.9" cy="1453.4" r="5.8" fill="#000"/>
<circle cx="423.5" cy="1463.9" r="5.8" fill="#000"/>
<circle cx="418.2" cy="1482" r="5.8" fill="#000"/>
<circle cx="418.2" cy="1554.4" r="5.8" fill="#000"/>
<circle cx="418.2" cy="1581.1" r="5.8" fill="#000"/>
<text x="318.6" y="1220.2" font-size="24.8" text-anchor="middle" textLength="28.2" lengthAdjust="spacingAndGlyphs">ns</text>
<text x="167.4" y="1678.8" font-size="25.5" text-anchor="end"><tspan font-style="italic">MB087C</tspan></text>
<circle cx="224.6" cy="1669.5" r="11.1" fill="#000"/>
<circle cx="320.8" cy="1669.5" r="11.1" fill="#000"/>
<text x="167.4" y="1719.2" font-size="25.5" text-anchor="end">UAS-<tspan font-style="italic">Shi<tspan font-size="17" dy="-6.5">ts1</tspan></tspan></text>
<circle cx="320.8" cy="1709.9" r="11.1" fill="#000"/>
<circle cx="418.6" cy="1709.9" r="11.1" fill="#000"/>
<line x1="690.3" y1="1213.5" x2="690.3" y2="1621.3" stroke="#000" stroke-width="4"/>
<line x1="683.1" y1="1215.2" x2="690.3" y2="1215.2" stroke="#000" stroke-width="3.4"/>
<text x="676.1" y="1224.2" font-size="25.3" text-anchor="end">0.3</text>
<line x1="683.1" y1="1316.3" x2="690.3" y2="1316.3" stroke="#000" stroke-width="3.4"/>
<text x="676.1" y="1325.3" font-size="25.3" text-anchor="end">0.2</text>
<line x1="683.1" y1="1417.4" x2="690.3" y2="1417.4" stroke="#000" stroke-width="3.4"/>
<text x="676.1" y="1426.4" font-size="25.3" text-anchor="end">0.1</text>
<line x1="683.1" y1="1518.5" x2="690.3" y2="1518.5" stroke="#000" stroke-width="3.4"/>
<text x="676.1" y="1527.5" font-size="25.3" text-anchor="end">0.0</text>
<line x1="683.1" y1="1619.6" x2="690.3" y2="1619.6" stroke="#000" stroke-width="3.4"/>
<text x="676.1" y="1628.6" font-size="25.3" text-anchor="end">-0.1</text>
<text transform="translate(597,1416.4) rotate(-90)" x="0" y="0" font-size="29.5" text-anchor="middle" textLength="256.5" lengthAdjust="spacingAndGlyphs">Performance Index</text>
<line x1="699.4" y1="1518.5" x2="1015" y2="1518.5" stroke="#000" stroke-width="4.1" stroke-linecap="round" stroke-dasharray="0 8.24"/>
<line x1="756.25" y1="1320.8" x2="756.25" y2="1433.3" stroke="#000" stroke-width="3.5"/>
<line x1="756.25" y1="1506.6" x2="756.25" y2="1549.9" stroke="#000" stroke-width="3.5"/>
<line x1="738.36" y1="1320.8" x2="774.14" y2="1320.8" stroke="#000" stroke-width="3.4"/>
<line x1="738.36" y1="1549.9" x2="774.14" y2="1549.9" stroke="#000" stroke-width="3.4"/>
<rect x="724.3" y="1435.1" width="63.9" height="69.7" fill="#fff" stroke="#000" stroke-width="3.6"/>
<line x1="726.1" y1="1446.3" x2="786.4" y2="1446.3" stroke="#000" stroke-width="3.5"/>
<circle cx="756.3" cy="1319.7" r="5.8" fill="#000"/>
<circle cx="735" cy="1435.3" r="5.8" fill="#000"/>
<circle cx="756.3" cy="1433.3" r="5.8" fill="#000"/>
<circle cx="777.5" cy="1432.4" r="5.8" fill="#000"/>
<circle cx="756.3" cy="1456.3" r="5.8" fill="#000"/>
<circle cx="756.3" cy="1472.9" r="5.8" fill="#000"/>
<circle cx="756.3" cy="1518.6" r="5.8" fill="#000"/>
<circle cx="756.3" cy="1549.9" r="5.8" fill="#000"/>
<line x1="853.1" y1="1318.7" x2="853.1" y2="1422.1" stroke="#000" stroke-width="3.5"/>
<line x1="853.1" y1="1505.2" x2="853.1" y2="1519.6" stroke="#000" stroke-width="3.5"/>
<line x1="835.35" y1="1318.7" x2="870.86" y2="1318.7" stroke="#000" stroke-width="3.4"/>
<line x1="835.35" y1="1519.6" x2="870.86" y2="1519.6" stroke="#000" stroke-width="3.4"/>
<rect x="821.4" y="1423.9" width="63.4" height="79.5" fill="#e0552c" stroke="#000" stroke-width="3.6"/>
<line x1="823.2" y1="1447.4" x2="883" y2="1447.4" stroke="#000" stroke-width="3.5"/>
<circle cx="852.9" cy="1317.5" r="5.8" fill="#000"/>
<circle cx="852.9" cy="1418.6" r="5.8" fill="#000"/>
<circle cx="857.9" cy="1424.1" r="5.8" fill="#000"/>
<circle cx="847.9" cy="1436.6" r="5.8" fill="#000"/>
<circle cx="852.9" cy="1457.4" r="5.8" fill="#000"/>
<circle cx="852.9" cy="1497.4" r="5.8" fill="#000"/>
<circle cx="847.9" cy="1509.1" r="5.8" fill="#000"/>
<circle cx="857.9" cy="1519.6" r="5.8" fill="#000"/>
<line x1="949.95" y1="1349.1" x2="949.95" y2="1432.4" stroke="#000" stroke-width="3.5"/>
<line x1="949.95" y1="1537.4" x2="949.95" y2="1573.2" stroke="#000" stroke-width="3.5"/>
<line x1="932.06" y1="1349.1" x2="967.84" y2="1349.1" stroke="#000" stroke-width="3.4"/>
<line x1="932.06" y1="1573.2" x2="967.84" y2="1573.2" stroke="#000" stroke-width="3.4"/>
<rect x="918" y="1434.2" width="63.9" height="101.4" fill="#fff" stroke="#000" stroke-width="3.6"/>
<line x1="919.8" y1="1466.1" x2="980.1" y2="1466.1" stroke="#000" stroke-width="3.5"/>
<circle cx="949.9" cy="1348.3" r="5.8" fill="#000"/>
<circle cx="949.9" cy="1427.9" r="5.8" fill="#000"/>
<circle cx="949.9" cy="1442.9" r="5.8" fill="#000"/>
<circle cx="944.9" cy="1464.9" r="5.8" fill="#000"/>
<circle cx="955.2" cy="1467.9" r="5.8" fill="#000"/>
<circle cx="949.9" cy="1519.6" r="5.8" fill="#000"/>
<circle cx="949.9" cy="1544.9" r="5.8" fill="#000"/>
<circle cx="949.9" cy="1573.2" r="5.8" fill="#000"/>
<text x="855.1" y="1294.1" font-size="24.8" text-anchor="middle" textLength="28.2" lengthAdjust="spacingAndGlyphs">ns</text>
<text x="700" y="1678.8" font-size="25.5" text-anchor="end"><tspan font-style="italic">MB296B</tspan></text>
<circle cx="757.2" cy="1669.5" r="11.1" fill="#000"/>
<circle cx="853.7" cy="1669.5" r="11.1" fill="#000"/>
<text x="700" y="1719.2" font-size="25.5" text-anchor="end">UAS-<tspan font-style="italic">Shi<tspan font-size="17" dy="-6.5">ts1</tspan></tspan></text>
<circle cx="853.7" cy="1709.9" r="11.1" fill="#000"/>
<circle cx="951.2" cy="1709.9" r="11.1" fill="#000"/>
<line x1="1234.2" y1="1214.5" x2="1234.2" y2="1621.4" stroke="#000" stroke-width="4"/>
<line x1="1227" y1="1216.2" x2="1234.2" y2="1216.2" stroke="#000" stroke-width="3.4"/>
<text x="1220" y="1225.2" font-size="25.3" text-anchor="end">0.3</text>
<line x1="1227" y1="1350.7" x2="1234.2" y2="1350.7" stroke="#000" stroke-width="3.4"/>
<text x="1220" y="1359.7" font-size="25.3" text-anchor="end">0.2</text>
<line x1="1227" y1="1485.2" x2="1234.2" y2="1485.2" stroke="#000" stroke-width="3.4"/>
<text x="1220" y="1494.2" font-size="25.3" text-anchor="end">0.1</text>
<line x1="1227" y1="1619.7" x2="1234.2" y2="1619.7" stroke="#000" stroke-width="3.4"/>
<text x="1220" y="1628.7" font-size="25.3" text-anchor="end">0.0</text>
<text transform="translate(1140,1416.4) rotate(-90)" x="0" y="0" font-size="29.5" text-anchor="middle" textLength="256.5" lengthAdjust="spacingAndGlyphs">Performance Index</text>
<line x1="1240" y1="1619.7" x2="1557" y2="1619.7" stroke="#000" stroke-width="4.1" stroke-linecap="round" stroke-dasharray="0 8.24"/>
<line x1="1299.05" y1="1388.7" x2="1299.05" y2="1498.6" stroke="#000" stroke-width="3.5"/>
<line x1="1299.05" y1="1615.7" x2="1299.05" y2="1619.9" stroke="#000" stroke-width="3.5"/>
<line x1="1281.16" y1="1388.7" x2="1316.94" y2="1388.7" stroke="#000" stroke-width="3.4"/>
<line x1="1281.16" y1="1619.9" x2="1316.94" y2="1619.9" stroke="#000" stroke-width="3.4"/>
<rect x="1267.1" y="1500.4" width="63.9" height="113.5" fill="#fff" stroke="#000" stroke-width="3.6"/>
<line x1="1268.9" y1="1569.1" x2="1329.2" y2="1569.1" stroke="#000" stroke-width="3.5"/>
<circle cx="1299.1" cy="1387.5" r="5.8" fill="#000"/>
<circle cx="1299.1" cy="1491.3" r="5.8" fill="#000"/>
<circle cx="1307.1" cy="1518.3" r="5.8" fill="#000"/>
<circle cx="1290.8" cy="1528.6" r="5.8" fill="#000"/>
<circle cx="1275" cy="1609.9" r="5.8" fill="#000"/>
<circle cx="1290.8" cy="1614.5" r="5.8" fill="#000"/>
<circle cx="1307.1" cy="1616.2" r="5.8" fill="#000"/>
<circle cx="1323.3" cy="1619.9" r="5.8" fill="#000"/>
<line x1="1396.15" y1="1451.3" x2="1396.15" y2="1524.1" stroke="#e0552c" stroke-width="3.5"/>
<line x1="1396.15" y1="1615.7" x2="1396.15" y2="1619.9" stroke="#e0552c" stroke-width="3.5"/>
<line x1="1378.26" y1="1451.3" x2="1414.04" y2="1451.3" stroke="#e0552c" stroke-width="3.4"/>
<line x1="1378.26" y1="1619.9" x2="1414.04" y2="1619.9" stroke="#e0552c" stroke-width="3.4"/>
<rect x="1364.2" y="1525.9" width="63.9" height="88" fill="url(#hatch)" stroke="#e0552c" stroke-width="3.6"/>
<line x1="1366" y1="1549.9" x2="1426.3" y2="1549.9" stroke="#e0552c" stroke-width="2"/>
<circle cx="1396.3" cy="1451.3" r="5.8" fill="#000"/>
<circle cx="1401.3" cy="1521.6" r="5.8" fill="#000"/>
<circle cx="1390.8" cy="1528.3" r="5.8" fill="#000"/>
<circle cx="1390.8" cy="1545.2" r="5.8" fill="#000"/>
<circle cx="1401.3" cy="1556.2" r="5.8" fill="#000"/>
<circle cx="1396.3" cy="1573.2" r="5.8" fill="#000"/>
<circle cx="1390.8" cy="1619.9" r="5.8" fill="#000"/>
<circle cx="1401.3" cy="1619.9" r="5.8" fill="#000"/>
<line x1="1493" y1="1464.6" x2="1493" y2="1488.6" stroke="#000" stroke-width="3.5"/>
<line x1="1493" y1="1612.9" x2="1493" y2="1619.9" stroke="#000" stroke-width="3.5"/>
<line x1="1475.03" y1="1464.6" x2="1510.97" y2="1464.6" stroke="#000" stroke-width="3.4"/>
<line x1="1475.03" y1="1619.9" x2="1510.97" y2="1619.9" stroke="#000" stroke-width="3.4"/>
<rect x="1460.9" y="1490.4" width="64.2" height="120.7" fill="#0667ac" stroke="#000" stroke-width="3.6"/>
<line x1="1462.7" y1="1564.1" x2="1523.3" y2="1564.1" stroke="#000" stroke-width="3.5"/>
<circle cx="1492.9" cy="1463.6" r="5.8" fill="#000"/>
<circle cx="1498.2" cy="1485.8" r="5.8" fill="#000"/>
<circle cx="1487.9" cy="1493.3" r="5.8" fill="#000"/>
<circle cx="1492.9" cy="1542.4" r="5.8" fill="#000"/>
<circle cx="1487.9" cy="1586.2" r="5.8" fill="#000"/>
<circle cx="1498.2" cy="1597.9" r="5.8" fill="#000"/>
<circle cx="1487.9" cy="1618.2" r="5.8" fill="#000"/>
<circle cx="1498.2" cy="1619.9" r="5.8" fill="#000"/>
<text x="1395.1" y="1424.4" font-size="24.8" text-anchor="middle" textLength="28.2" lengthAdjust="spacingAndGlyphs">ns</text>
<text x="1494.8" y="1435.1" font-size="24.8" text-anchor="middle" textLength="28.2" lengthAdjust="spacingAndGlyphs">ns</text>
<text x="1242.7" y="1678.8" font-size="25.5" text-anchor="end">UAS-<tspan font-style="italic">Shi<tspan font-size="17" dy="-6.5">ts1</tspan></tspan></text>
<circle cx="1396.1" cy="1669.5" r="11.1" fill="#000"/>
<circle cx="1493.3" cy="1669.5" r="11.1" fill="#000"/>
<text x="1242.7" y="1719.2" font-size="25.5" text-anchor="end"><tspan font-style="italic">MB296B</tspan></text>
<circle cx="1299.3" cy="1709.9" r="11.1" fill="#000"/>
<circle cx="1396.1" cy="1709.9" r="11.1" fill="#000"/>
<text x="1242.7" y="1758.9" font-size="25.5" text-anchor="end"><tspan font-style="italic">MB087C</tspan></text>
<circle cx="1396.1" cy="1749.6" r="11.1" fill="#000"/>
<circle cx="1493.3" cy="1749.6" r="11.1" fill="#000"/>
<text x="1921.6" y="1001.7" font-size="23" text-anchor="middle" font-style="italic" textLength="259.5" lengthAdjust="spacingAndGlyphs">MB296B &gt; GCaMP6m</text>
<text x="1922.5" y="1031.6" font-size="21.5" text-anchor="middle" font-weight="normal" textLength="149.5" lengthAdjust="spacingAndGlyphs">(PPL1-<tspan font-family="Liberation Serif, serif">γ</tspan>2<tspan font-family="Liberation Serif, serif">α′</tspan>1)</text>
<line x1="1720.3" y1="1080.38" x2="1720.3" y2="1326.34" stroke="#000" stroke-width="3.4"/>
<line x1="1713.3" y1="1081.98" x2="1720.3" y2="1081.98" stroke="#000" stroke-width="3.2"/>
<text x="1705" y="1089.88" font-size="23.6" text-anchor="end" textLength="34.5" lengthAdjust="spacingAndGlyphs">0.4</text>
<line x1="1713.3" y1="1162.9" x2="1720.3" y2="1162.9" stroke="#000" stroke-width="3.2"/>
<text x="1705" y="1170.8" font-size="23.6" text-anchor="end" textLength="34.5" lengthAdjust="spacingAndGlyphs">0.0</text>
<line x1="1713.3" y1="1243.82" x2="1720.3" y2="1243.82" stroke="#000" stroke-width="3.2"/>
<text x="1705" y="1251.72" font-size="23.6" text-anchor="end" textLength="42.8" lengthAdjust="spacingAndGlyphs">-0.4</text>
<line x1="1713.3" y1="1324.74" x2="1720.3" y2="1324.74" stroke="#000" stroke-width="3.2"/>
<text x="1705" y="1332.64" font-size="23.6" text-anchor="end" textLength="42.8" lengthAdjust="spacingAndGlyphs">-0.8</text>
<line x1="1716" y1="1122.44" x2="1720.3" y2="1122.44" stroke="#000" stroke-width="3"/>
<line x1="1716" y1="1203.36" x2="1720.3" y2="1203.36" stroke="#000" stroke-width="3"/>
<line x1="1716" y1="1284.28" x2="1720.3" y2="1284.28" stroke="#000" stroke-width="3"/>
<line x1="1722.5" y1="1162.9" x2="2126" y2="1162.9" stroke="#000" stroke-width="1.8" stroke-dasharray="5 3.6"/>
<line x1="1764.3" y1="1162.9" x2="1877.3" y2="1150.5" stroke="#e0552c" stroke-width="2"/>
<line x1="1764.3" y1="1162.9" x2="1877.3" y2="1163.1" stroke="#e0552c" stroke-width="2"/>
<line x1="1764.3" y1="1162.9" x2="1877.3" y2="1177.6" stroke="#e0552c" stroke-width="2"/>
<line x1="1764.3" y1="1162.9" x2="1877.3" y2="1182" stroke="#e0552c" stroke-width="2"/>
<line x1="1764.3" y1="1162.9" x2="1877.3" y2="1187" stroke="#e0552c" stroke-width="2"/>
<line x1="1764.3" y1="1162.9" x2="1877.3" y2="1192" stroke="#e0552c" stroke-width="2"/>
<line x1="1764.3" y1="1162.9" x2="1877.3" y2="1197" stroke="#e0552c" stroke-width="2"/>
<line x1="1764.3" y1="1162.9" x2="1877.3" y2="1201.5" stroke="#e0552c" stroke-width="2"/>
<line x1="1764.3" y1="1162.9" x2="1877.3" y2="1205.3" stroke="#e0552c" stroke-width="2"/>
<line x1="1764.3" y1="1162.9" x2="1877.3" y2="1239.6" stroke="#e0552c" stroke-width="2"/>
<line x1="1764.3" y1="1162.9" x2="1877.3" y2="1260.5" stroke="#e0552c" stroke-width="2"/>
<line x1="1764.3" y1="1162.9" x2="1877.3" y2="1286.5" stroke="#e0552c" stroke-width="2"/>
<circle cx="1877.3" cy="1150.5" r="5.6" fill="#e0552c"/>
<circle cx="1877.3" cy="1163.1" r="5.6" fill="#e0552c"/>
<circle cx="1877.3" cy="1177.6" r="5.6" fill="#e0552c"/>
<circle cx="1877.3" cy="1182" r="5.6" fill="#e0552c"/>
<circle cx="1877.3" cy="1187" r="5.6" fill="#e0552c"/>
<circle cx="1877.3" cy="1192" r="5.6" fill="#e0552c"/>
<circle cx="1877.3" cy="1197" r="5.6" fill="#e0552c"/>
<circle cx="1877.3" cy="1201.5" r="5.6" fill="#e0552c"/>
<circle cx="1877.3" cy="1205.3" r="5.6" fill="#e0552c"/>
<circle cx="1877.3" cy="1239.6" r="5.6" fill="#e0552c"/>
<circle cx="1877.3" cy="1260.5" r="5.6" fill="#e0552c"/>
<circle cx="1877.3" cy="1286.5" r="5.6" fill="#e0552c"/>
<circle cx="1764.3" cy="1162.9" r="5.9" fill="#e0552c"/>
<line x1="1966.7" y1="1162.9" x2="2079.8" y2="1096" stroke="#e0552c" stroke-width="2"/>
<line x1="1966.7" y1="1162.9" x2="2079.8" y2="1135.4" stroke="#e0552c" stroke-width="2"/>
<line x1="1966.7" y1="1162.9" x2="2079.8" y2="1146.5" stroke="#e0552c" stroke-width="2"/>
<line x1="1966.7" y1="1162.9" x2="2079.8" y2="1150" stroke="#e0552c" stroke-width="2"/>
<line x1="1966.7" y1="1162.9" x2="2079.8" y2="1153" stroke="#e0552c" stroke-width="2"/>
<line x1="1966.7" y1="1162.9" x2="2079.8" y2="1155.4" stroke="#e0552c" stroke-width="2"/>
<line x1="1966.7" y1="1162.9" x2="2079.8" y2="1163.1" stroke="#e0552c" stroke-width="2"/>
<line x1="1966.7" y1="1162.9" x2="2079.8" y2="1168.7" stroke="#e0552c" stroke-width="2"/>
<line x1="1966.7" y1="1162.9" x2="2079.8" y2="1172" stroke="#e0552c" stroke-width="2"/>
<line x1="1966.7" y1="1162.9" x2="2079.8" y2="1176" stroke="#e0552c" stroke-width="2"/>
<line x1="1966.7" y1="1162.9" x2="2079.8" y2="1179" stroke="#e0552c" stroke-width="2"/>
<line x1="1966.7" y1="1162.9" x2="2079.8" y2="1182" stroke="#e0552c" stroke-width="2"/>
<line x1="1966.7" y1="1162.9" x2="2079.8" y2="1195.3" stroke="#e0552c" stroke-width="2"/>
<line x1="1966.7" y1="1162.9" x2="2079.8" y2="1203" stroke="#e0552c" stroke-width="2"/>
<circle cx="2079.8" cy="1096" r="5.6" fill="#e0552c"/>
<circle cx="2079.8" cy="1135.4" r="5.6" fill="#e0552c"/>
<circle cx="2079.8" cy="1146.5" r="5.6" fill="#e0552c"/>
<circle cx="2079.8" cy="1150" r="5.6" fill="#e0552c"/>
<circle cx="2079.8" cy="1153" r="5.6" fill="#e0552c"/>
<circle cx="2079.8" cy="1155.4" r="5.6" fill="#e0552c"/>
<circle cx="2079.8" cy="1163.1" r="5.6" fill="#e0552c"/>
<circle cx="2079.8" cy="1168.7" r="5.6" fill="#e0552c"/>
<circle cx="2079.8" cy="1172" r="5.6" fill="#e0552c"/>
<circle cx="2079.8" cy="1176" r="5.6" fill="#e0552c"/>
<circle cx="2079.8" cy="1179" r="5.6" fill="#e0552c"/>
<circle cx="2079.8" cy="1182" r="5.6" fill="#e0552c"/>
<circle cx="2079.8" cy="1195.3" r="5.6" fill="#e0552c"/>
<circle cx="2079.8" cy="1203" r="5.6" fill="#e0552c"/>
<circle cx="1966.7" cy="1162.9" r="5.9" fill="#e0552c"/>
<text transform="translate(1650.7,1167.4) rotate(-90)" x="0" y="0" font-size="28.5" text-anchor="middle" textLength="81.5" lengthAdjust="spacingAndGlyphs">ΔF/F0</text>
<text x="1847.2" y="1135.6" font-size="25.5" textLength="72.8" lengthAdjust="spacingAndGlyphs">n = 12</text>
<text x="1991.4" y="1119.4" font-size="25" textLength="27.9" lengthAdjust="spacingAndGlyphs">ns</text>
<text x="2046.4" y="1234.6" font-size="25.5" textLength="73.1" lengthAdjust="spacingAndGlyphs">n = 14</text>
<text x="1776.1" y="1246.4" font-size="22" textLength="19.5" lengthAdjust="spacingAndGlyphs">**</text>
<text x="1758.4" y="1334.9" font-size="22.2" textLength="35.7" lengthAdjust="spacingAndGlyphs">Pre</text>
<text x="1862.1" y="1334.9" font-size="22.2" textLength="48.6" lengthAdjust="spacingAndGlyphs">Post</text>
<text x="1961.8" y="1334.9" font-size="22.2" textLength="36.1" lengthAdjust="spacingAndGlyphs">Pre</text>
<text x="2065" y="1334.9" font-size="22.2" textLength="49.2" lengthAdjust="spacingAndGlyphs">Post</text>
<line x1="1803.1" y1="1333.4" x2="1841.7" y2="1333.4" stroke="#000" stroke-width="2.4"/>
<polygon points="1839.5,1327.6 1851.7,1333.4 1839.5,1339.2" fill="#000"/>
<line x1="2006.6" y1="1333.4" x2="2045.2" y2="1333.4" stroke="#000" stroke-width="2.4"/>
<polygon points="2043,1327.6 2055.2,1333.4 2043,1339.2" fill="#000"/>
<line x1="1740.6" y1="1347.1" x2="1911.6" y2="1347.1" stroke="#000" stroke-width="2.6"/>
<line x1="1943.5" y1="1347.1" x2="2115" y2="1347.1" stroke="#000" stroke-width="2.6"/>
<text x="1632.5" y="1379.1" font-size="23" textLength="117.5" lengthAdjust="spacingAndGlyphs">LK peptide</text>
<text x="1792.4" y="1379.1" font-size="23" textLength="76.2" lengthAdjust="spacingAndGlyphs">100 nM</text>
<text x="2002.5" y="1379.1" font-size="23" textLength="50.7" lengthAdjust="spacingAndGlyphs">1 nM</text>
<text x="1806.2" y="1465.1" font-size="22.5" textLength="76.7" lengthAdjust="spacingAndGlyphs">100 nM</text>
<text x="1947.3" y="1465.1" font-size="22.5" textLength="50.4" lengthAdjust="spacingAndGlyphs">1 nM</text>
<text transform="translate(1758.6,1535.9) rotate(-90)" x="0" y="0" font-size="27" text-anchor="middle" textLength="40.5" lengthAdjust="spacingAndGlyphs">Pre</text>
<text transform="translate(1758.6,1654) rotate(-90)" x="0" y="0" font-size="27" text-anchor="middle" textLength="56" lengthAdjust="spacingAndGlyphs">Post</text>
<rect x="1788.2" y="1479.2" width="113.8" height="113.8" fill="#000"/>
<g filter="url(#hm1)">
<rect x="1788.2" y="1479.2" width="113.8" height="113.8" fill="#000" fill-opacity="0.004"/>
<path d="M1889.86,1552.26 L1885.31,1557.19 L1880.87,1561.57 L1876.85,1565.96 L1872.86,1570.58 L1868.2,1575.03 L1862.47,1578.5 L1855.8,1580.33 L1848.76,1580.42 L1841.82,1579.28 L1835.07,1577.58 L1828.32,1575.58 L1821.54,1573.02 L1815.15,1569.33 L1809.95,1564.22 L1806.59,1557.97 L1805.08,1551.27 L1804.7,1544.73 L1804.48,1538.48 L1803.92,1532.19 L1803.43,1525.52 L1804.05,1518.6 L1806.78,1512.2 L1811.88,1507.27 L1818.65,1504.37 L1825.94,1503.21 L1832.86,1502.88 L1839.21,1502.45 L1845.41,1501.59 L1851.92,1500.74 L1858.84,1500.72 L1865.81,1502.17 L1872.31,1505.18 L1878.13,1509.36 L1883.34,1514.26 L1888.08,1519.72 L1892.11,1525.8 L1894.78,1532.53 L1895.35,1539.59 L1893.54,1546.35Z" fill="#fff"/>
</g>
<g filter="url(#spk)">
<rect x="1866.83" y="1551.33" width="1.75" height="2.67" fill="#45e08a"/>
<rect x="1850.53" y="1540.97" width="1.41" height="1.99" fill="#4fb0ff"/>
<rect x="1824.82" y="1504.09" width="2.58" height="2.8" fill="#8aa8ff"/>
<rect x="1806.56" y="1526.93" width="1.59" height="2.92" fill="#45e08a"/>
<rect x="1817.66" y="1565.87" width="2.88" height="2.13" fill="#4fb0ff"/>
<rect x="1834.95" y="1539.35" width="1.46" height="2.79" fill="#4fb0ff"/>
<rect x="1875.15" y="1517.34" width="2.83" height="2.61" fill="#8aa8ff"/>
<rect x="1856.81" y="1558.88" width="2.16" height="2.72" fill="#4fb0ff"/>
<rect x="1837" y="1536.69" width="2.99" height="2.02" fill="#45d0d0"/>
<rect x="1812" y="1557.95" width="2.19" height="2.19" fill="#8aa8ff"/>
<rect x="1872.2" y="1518.41" width="2.29" height="2.4" fill="#45e08a"/>
<rect x="1819.06" y="1528.47" width="1.95" height="2.36" fill="#d0c870"/>
<rect x="1874.85" y="1530.59" width="2.48" height="2.84" fill="#4cf04c"/>
<rect x="1857.71" y="1571.1" width="2" height="1.8" fill="#45e08a"/>
<rect x="1818.35" y="1506.24" width="2.64" height="2.17" fill="#4cf04c"/>
<rect x="1808.22" y="1521.28" width="2.07" height="1.67" fill="#45d0d0"/>
<rect x="1834.5" y="1572.38" width="2.59" height="2.17" fill="#8aa8ff"/>
<rect x="1891.57" y="1542.61" width="1.45" height="1.74" fill="#4cf04c"/>
<rect x="1842.59" y="1547.03" width="1.89" height="2.25" fill="#a0e070"/>
<rect x="1862.61" y="1568.59" width="1.81" height="2.05" fill="#45e08a"/>
<rect x="1816.37" y="1569.84" width="1.6" height="2.26" fill="#4cf04c"/>
<rect x="1848.82" y="1518.22" width="1.69" height="2" fill="#4fb0ff"/>
<rect x="1853.99" y="1504.4" width="2.8" height="2.64" fill="#4cf04c"/>
<rect x="1873.65" y="1514.69" width="1.8" height="2.51" fill="#4cf04c"/>
<rect x="1807.28" y="1531.71" width="2.84" height="1.87" fill="#45d0d0"/>
<rect x="1853.92" y="1576.29" width="2.36" height="2.21" fill="#5a8cff"/>
<rect x="1851.76" y="1545.4" width="2.7" height="2.96" fill="#5a8cff"/>
<rect x="1873.28" y="1536.43" width="1.43" height="2.43" fill="#4cf04c"/>
<rect x="1850.99" y="1531.75" width="1.76" height="1.48" fill="#45d0d0"/>
<rect x="1826.14" y="1556.84" width="2.56" height="2.13" fill="#a0e070"/>
<rect x="1838.85" y="1539.51" width="2.94" height="1.54" fill="#4cf04c"/>
<rect x="1848.64" y="1557.87" width="2.65" height="2.4" fill="#a0e070"/>
<rect x="1864.83" y="1569.17" width="2.49" height="1.79" fill="#4cf04c"/>
<rect x="1838.9" y="1549.71" width="2.94" height="2.98" fill="#a0e070"/>
<rect x="1832.16" y="1525.56" width="1.63" height="2.29" fill="#45d0d0"/>
<rect x="1831.24" y="1575.91" width="2.14" height="1.57" fill="#4cf04c"/>
<rect x="1868.13" y="1517.12" width="2.43" height="2.49" fill="#45d0d0"/>
<rect x="1890.86" y="1526.39" width="2.75" height="1.65" fill="#45d0d0"/>
<rect x="1821.8" y="1548.37" width="2.01" height="2.91" fill="#45d0d0"/>
<rect x="1843.59" y="1549.9" width="1.68" height="2.02" fill="#45d0d0"/>
<rect x="1805.17" y="1540.66" width="2.37" height="2.52" fill="#5a8cff"/>
<rect x="1831.83" y="1536.91" width="1.99" height="1.62" fill="#a0e070"/>
<rect x="1879.02" y="1542.91" width="1.7" height="2.04" fill="#5a8cff"/>
<rect x="1824.12" y="1564.66" width="2.88" height="2.81" fill="#a0e070"/>
<rect x="1856.93" y="1507.13" width="2.6" height="2.61" fill="#d0c870"/>
<rect x="1860.44" y="1538.26" width="1.94" height="1.83" fill="#4cf04c"/>
<rect x="1830.82" y="1550.7" width="1.51" height="1.51" fill="#a0e070"/>
<rect x="1865.75" y="1515.84" width="1.49" height="1.46" fill="#45d0d0"/>
<rect x="1866" y="1552.77" width="1.57" height="2.89" fill="#4fb0ff"/>
<rect x="1840.97" y="1555.78" width="2.24" height="1.53" fill="#4cf04c"/>
<rect x="1823.07" y="1503.94" width="2.25" height="2.41" fill="#45d0d0"/>
<rect x="1868.66" y="1540.07" width="2.76" height="2.69" fill="#4fb0ff"/>
<rect x="1865.88" y="1518.04" width="2.84" height="2.25" fill="#4cf04c"/>
<rect x="1892.61" y="1531.81" width="2.9" height="2.67" fill="#8aa8ff"/>
<rect x="1835.78" y="1549.62" width="2.61" height="2.43" fill="#45e08a"/>
<rect x="1888.99" y="1543.45" width="1.73" height="3" fill="#a0e070"/>
<rect x="1874.72" y="1559.69" width="1.98" height="1.53" fill="#a0e070"/>
<rect x="1819.81" y="1543.74" width="1.98" height="1.61" fill="#4cf04c"/>
<rect x="1842.3" y="1546.98" width="2.46" height="1.74" fill="#5a8cff"/>
<rect x="1888.7" y="1542.4" width="2.22" height="1.6" fill="#a0e070"/>
<rect x="1842.42" y="1551.79" width="2.6" height="2.44" fill="#4cf04c"/>
<rect x="1842.96" y="1530.85" width="1.82" height="2.26" fill="#45e08a"/>
<rect x="1877.22" y="1559.42" width="2.99" height="2" fill="#4cf04c"/>
<rect x="1824.32" y="1559.23" width="2.17" height="1.49" fill="#4cf04c"/>
<rect x="1879.39" y="1540.55" width="2.02" height="2.41" fill="#45e08a"/>
<rect x="1867.13" y="1569.68" width="2" height="1.8" fill="#4cf04c"/>
<rect x="1831.74" y="1551.22" width="2.73" height="1.82" fill="#4fb0ff"/>
<rect x="1830.62" y="1518.11" width="2.2" height="2.54" fill="#4fb0ff"/>
<rect x="1866.52" y="1527.42" width="1.99" height="1.71" fill="#4cf04c"/>
<rect x="1808.74" y="1556.21" width="1.6" height="2.81" fill="#45e08a"/>
<rect x="1844.22" y="1540.62" width="2" height="2.42" fill="#8aa8ff"/>
<rect x="1837.04" y="1528.32" width="2.42" height="2.13" fill="#4cf04c"/>
<rect x="1823.97" y="1563.63" width="2.43" height="2.13" fill="#5a8cff"/>
<rect x="1857.37" y="1547.18" width="2.18" height="1.66" fill="#5a8cff"/>
<rect x="1833.48" y="1526.89" width="1.48" height="1.7" fill="#4fb0ff"/>
<rect x="1860.8" y="1568.25" width="1.58" height="2.26" fill="#4fb0ff"/>
<rect x="1840.68" y="1561.36" width="2.52" height="2.26" fill="#4fb0ff"/>
<rect x="1825.72" y="1548.49" width="1.73" height="2.32" fill="#5a8cff"/>
<rect x="1851.26" y="1553.6" width="1.88" height="1.91" fill="#5a8cff"/>
<rect x="1836.29" y="1563.26" width="2.2" height="2.83" fill="#5a8cff"/>
<rect x="1856.71" y="1515.23" width="1.53" height="2.94" fill="#d0c870"/>
<rect x="1869.58" y="1543.01" width="1.95" height="2.46" fill="#4fb0ff"/>
<rect x="1839.21" y="1564.57" width="1.86" height="1.54" fill="#5a8cff"/>
<rect x="1876.31" y="1560.77" width="1.89" height="1.58" fill="#4fb0ff"/>
<rect x="1844.11" y="1519.17" width="2.78" height="2.08" fill="#45d0d0"/>
<rect x="1861.13" y="1538.46" width="1.98" height="1.72" fill="#45e08a"/>
<rect x="1831.42" y="1527.02" width="2.86" height="2.08" fill="#4fb0ff"/>
<rect x="1806.34" y="1517.79" width="1.94" height="2.47" fill="#a0e070"/>
<rect x="1863.23" y="1536.6" width="2.25" height="2" fill="#4cf04c"/>
<rect x="1858.05" y="1567.02" width="2.17" height="1.93" fill="#4cf04c"/>
<rect x="1881.21" y="1512.34" width="2.64" height="2.48" fill="#4cf04c"/>
<rect x="1884.22" y="1520.33" width="1.92" height="2.01" fill="#8aa8ff"/>
<rect x="1818.8" y="1532.23" width="1.84" height="1.83" fill="#4cf04c"/>
<rect x="1859.73" y="1560" width="2.8" height="2.83" fill="#4cf04c"/>
<rect x="1893.37" y="1540.51" width="2.22" height="2.95" fill="#4cf04c"/>
<rect x="1843.01" y="1553.64" width="1.61" height="2.02" fill="#45d0d0"/>
<rect x="1813.66" y="1541.39" width="2.11" height="2.54" fill="#45d0d0"/>
<rect x="1839.44" y="1558.78" width="1.96" height="2.52" fill="#5a8cff"/>
<rect x="1832.16" y="1556.65" width="1.62" height="1.95" fill="#a0e070"/>
<rect x="1835.82" y="1551.1" width="1.85" height="2.65" fill="#a0e070"/>
<rect x="1834.72" y="1514.02" width="1.74" height="1.44" fill="#45d0d0"/>
<rect x="1819.38" y="1546.4" width="2.76" height="2.76" fill="#45e08a"/>
<rect x="1818.95" y="1561.35" width="2.89" height="1.89" fill="#5a8cff"/>
<rect x="1823.34" y="1532.29" width="2.77" height="2.59" fill="#4cf04c"/>
<rect x="1825.86" y="1526.32" width="2.09" height="2.8" fill="#45d0d0"/>
<rect x="1845.79" y="1555.93" width="1.7" height="2.39" fill="#4cf04c"/>
<rect x="1869.12" y="1539.49" width="1.67" height="2.28" fill="#d0c870"/>
<rect x="1877.36" y="1558.3" width="1.9" height="1.63" fill="#5a8cff"/>
<rect x="1861.33" y="1505.71" width="2.94" height="2.11" fill="#8aa8ff"/>
<rect x="1836.84" y="1549.03" width="2.11" height="2.6" fill="#45d0d0"/>
<rect x="1830.85" y="1561.58" width="1.51" height="2.86" fill="#4fb0ff"/>
<rect x="1841.21" y="1525.7" width="1.96" height="2.26" fill="#45d0d0"/>
<rect x="1852.44" y="1504.79" width="1.72" height="1.78" fill="#5a8cff"/>
<rect x="1830.2" y="1567.41" width="2.16" height="2.63" fill="#4cf04c"/>
<rect x="1832.42" y="1549.8" width="2.25" height="2.6" fill="#4cf04c"/>
<rect x="1888.72" y="1521.77" width="2.96" height="2.24" fill="#4cf04c"/>
<rect x="1812.13" y="1558.38" width="2.6" height="2.08" fill="#45d0d0"/>
<rect x="1826.27" y="1521.2" width="2.43" height="2.41" fill="#a0e070"/>
<rect x="1852.86" y="1556.23" width="2.29" height="2.95" fill="#45e08a"/>
<rect x="1825.21" y="1535" width="2.49" height="2.48" fill="#45e08a"/>
</g>
<rect x="1788.2" y="1597.2" width="113.8" height="114" fill="#000"/>
<g filter="url(#hm2)">
<rect x="1788.2" y="1597.2" width="113.8" height="114" fill="#000" fill-opacity="0.004"/>
<path d="M1885.4,1662 L1883.85,1668.15 L1880.32,1673.53 L1875.52,1677.92 L1870.44,1681.75 L1865.54,1685.67 L1860.48,1689.94 L1854.59,1693.94 L1847.58,1696.43 L1839.97,1696.38 L1832.75,1693.69 L1826.63,1689.37 L1821.45,1684.86 L1816.35,1681.07 L1810.58,1677.88 L1804.29,1674.35 L1798.64,1669.6 L1795.13,1663.51 L1794.51,1656.78 L1796.23,1650.3 L1798.85,1644.46 L1801.08,1638.88 L1802.66,1632.99 L1804.52,1626.67 L1807.92,1620.71 L1813.48,1616.35 L1820.67,1614.45 L1828.3,1614.75 L1835.39,1616.02 L1841.85,1616.88 L1848.34,1616.78 L1855.48,1616.35 L1863.14,1616.92 L1870.34,1619.58 L1875.91,1624.45 L1879.35,1630.7 L1881.17,1637.26 L1882.41,1643.51 L1883.77,1649.52 L1885.08,1655.65Z" fill="#fff"/>
</g>
<g filter="url(#spk)">
<rect x="1811.26" y="1624.33" width="1.95" height="2.82" fill="#4cf04c"/>
<rect x="1881.72" y="1640.64" width="2.89" height="2.5" fill="#45e08a"/>
<rect x="1858.87" y="1618.42" width="2.34" height="1.9" fill="#a0e070"/>
<rect x="1871.75" y="1662.23" width="2.64" height="2.94" fill="#d0c870"/>
<rect x="1857.99" y="1664.65" width="2.93" height="1.9" fill="#45d0d0"/>
<rect x="1881.28" y="1667.81" width="2.72" height="2.47" fill="#4fb0ff"/>
<rect x="1798.97" y="1658.05" width="2.88" height="2.21" fill="#5a8cff"/>
<rect x="1831.72" y="1668.64" width="1.89" height="2" fill="#d0c870"/>
<rect x="1821.53" y="1663.28" width="2.09" height="2.48" fill="#45e08a"/>
<rect x="1833.75" y="1647.47" width="2.92" height="2.22" fill="#d0c870"/>
<rect x="1844.19" y="1643.07" width="1.97" height="1.71" fill="#45d0d0"/>
<rect x="1843.18" y="1679.7" width="1.72" height="2.51" fill="#4cf04c"/>
<rect x="1831.84" y="1682.34" width="2.14" height="2.75" fill="#d0c870"/>
<rect x="1842.13" y="1662.37" width="2.59" height="2.16" fill="#8aa8ff"/>
<rect x="1852.98" y="1643.45" width="2.71" height="2.37" fill="#4cf04c"/>
<rect x="1796.16" y="1655.44" width="1.94" height="1.67" fill="#4cf04c"/>
<rect x="1833.99" y="1636.5" width="2.95" height="1.96" fill="#5a8cff"/>
<rect x="1814.17" y="1635.35" width="1.69" height="1.84" fill="#a0e070"/>
<rect x="1837.22" y="1631.48" width="2.58" height="2.88" fill="#45d0d0"/>
<rect x="1829.27" y="1675.96" width="2.14" height="1.8" fill="#4cf04c"/>
<rect x="1818.71" y="1619.79" width="1.65" height="2.82" fill="#4cf04c"/>
<rect x="1799.67" y="1655.34" width="1.47" height="2.18" fill="#45e08a"/>
<rect x="1843.09" y="1625.91" width="2.78" height="2.71" fill="#45d0d0"/>
<rect x="1829.04" y="1666.94" width="2.68" height="2.83" fill="#4fb0ff"/>
<rect x="1827.42" y="1684.01" width="1.7" height="1.84" fill="#45e08a"/>
<rect x="1870.74" y="1656.25" width="2.71" height="2.96" fill="#4cf04c"/>
<rect x="1831.39" y="1686.12" width="2.02" height="2.45" fill="#4cf04c"/>
<rect x="1815.95" y="1656.89" width="1.64" height="2.29" fill="#8aa8ff"/>
<rect x="1848.9" y="1657.67" width="1.43" height="2.92" fill="#4cf04c"/>
<rect x="1867.83" y="1682.1" width="1.51" height="1.69" fill="#5a8cff"/>
<rect x="1851.08" y="1675.1" width="2.95" height="2.91" fill="#45d0d0"/>
<rect x="1823.72" y="1637.52" width="1.49" height="2.88" fill="#4fb0ff"/>
<rect x="1834.97" y="1641.69" width="2.16" height="2.06" fill="#4fb0ff"/>
<rect x="1868.43" y="1639.6" width="2.8" height="2.93" fill="#45e08a"/>
<rect x="1814.29" y="1624.96" width="1.9" height="1.62" fill="#4fb0ff"/>
<rect x="1838.2" y="1680.15" width="1.51" height="1.94" fill="#45e08a"/>
<rect x="1877.63" y="1662.24" width="2.41" height="1.48" fill="#45e08a"/>
<rect x="1867.95" y="1669.44" width="1.86" height="1.42" fill="#45d0d0"/>
<rect x="1808.56" y="1651.61" width="1.75" height="2.16" fill="#4cf04c"/>
<rect x="1847.71" y="1639.31" width="2.5" height="2.89" fill="#4fb0ff"/>
<rect x="1830.69" y="1660.12" width="2.05" height="2.87" fill="#4fb0ff"/>
<rect x="1869.32" y="1635.92" width="2.65" height="1.76" fill="#a0e070"/>
<rect x="1856.49" y="1661.41" width="1.78" height="2.29" fill="#45e08a"/>
<rect x="1867.04" y="1645" width="2.33" height="1.76" fill="#8aa8ff"/>
<rect x="1806.15" y="1674.82" width="2.37" height="1.89" fill="#5a8cff"/>
<rect x="1806.03" y="1670.23" width="1.77" height="1.61" fill="#4cf04c"/>
<rect x="1853.5" y="1635.84" width="2.11" height="2.69" fill="#5a8cff"/>
<rect x="1880.01" y="1656.12" width="1.56" height="1.99" fill="#4fb0ff"/>
<rect x="1810.48" y="1621.34" width="1.81" height="2.11" fill="#45e08a"/>
<rect x="1857.89" y="1661.8" width="1.69" height="2.77" fill="#4fb0ff"/>
<rect x="1843.68" y="1690.18" width="1.94" height="2.09" fill="#4cf04c"/>
<rect x="1815.52" y="1680.29" width="1.47" height="1.95" fill="#45d0d0"/>
<rect x="1840.98" y="1688.61" width="2.26" height="1.65" fill="#4cf04c"/>
<rect x="1878.09" y="1651.5" width="1.52" height="2.39" fill="#45d0d0"/>
<rect x="1829.85" y="1638.12" width="2.67" height="1.67" fill="#4cf04c"/>
<rect x="1852.89" y="1617.84" width="1.9" height="2.73" fill="#a0e070"/>
<rect x="1818.17" y="1676.56" width="2.41" height="1.89" fill="#4cf04c"/>
<rect x="1861.09" y="1644.57" width="2.15" height="1.76" fill="#5a8cff"/>
<rect x="1830.01" y="1620.57" width="1.85" height="2.84" fill="#a0e070"/>
<rect x="1842.26" y="1686.95" width="1.44" height="1.64" fill="#45e08a"/>
<rect x="1826.31" y="1623.59" width="1.96" height="2.06" fill="#4fb0ff"/>
<rect x="1854.28" y="1634.3" width="2.17" height="2.09" fill="#a0e070"/>
<rect x="1825.86" y="1635.5" width="1.87" height="1.78" fill="#4fb0ff"/>
<rect x="1826.77" y="1672.4" width="1.51" height="1.89" fill="#45d0d0"/>
<rect x="1877.23" y="1630.79" width="1.65" height="1.81" fill="#4fb0ff"/>
<rect x="1879.21" y="1633.11" width="2.18" height="2.34" fill="#5a8cff"/>
<rect x="1832.51" y="1677.47" width="2.55" height="2.5" fill="#5a8cff"/>
<rect x="1838.76" y="1652.49" width="1.62" height="2.22" fill="#45e08a"/>
<rect x="1823.68" y="1618.12" width="1.49" height="2.27" fill="#4fb0ff"/>
<rect x="1845.01" y="1655.73" width="1.6" height="2.35" fill="#4fb0ff"/>
<rect x="1857.26" y="1656.07" width="1.44" height="1.89" fill="#45e08a"/>
<rect x="1828.79" y="1622.98" width="2.73" height="1.56" fill="#45e08a"/>
<rect x="1839.8" y="1685.98" width="1.8" height="2.63" fill="#45d0d0"/>
<rect x="1821.36" y="1663.51" width="2.78" height="1.92" fill="#a0e070"/>
<rect x="1827.54" y="1624.41" width="2.63" height="2.97" fill="#45d0d0"/>
<rect x="1866.69" y="1648.28" width="2.62" height="2.59" fill="#4cf04c"/>
<rect x="1833.66" y="1621.76" width="2.71" height="2.18" fill="#45d0d0"/>
<rect x="1865.32" y="1621.6" width="2.17" height="2.19" fill="#45d0d0"/>
<rect x="1856.67" y="1658.6" width="2.35" height="2.35" fill="#8aa8ff"/>
<rect x="1832.62" y="1677.09" width="2.85" height="2.56" fill="#45d0d0"/>
<rect x="1858.74" y="1661.18" width="1.43" height="2.46" fill="#45d0d0"/>
<rect x="1860.24" y="1676.68" width="2.49" height="1.85" fill="#5a8cff"/>
<rect x="1873.45" y="1647.65" width="1.48" height="1.69" fill="#45e08a"/>
<rect x="1814.06" y="1657.29" width="1.54" height="1.54" fill="#5a8cff"/>
<rect x="1801.49" y="1656.38" width="1.9" height="2.78" fill="#a0e070"/>
<rect x="1841.41" y="1659.11" width="1.77" height="2.32" fill="#4cf04c"/>
<rect x="1811.25" y="1651.31" width="2.29" height="1.97" fill="#4cf04c"/>
<rect x="1827.13" y="1647.16" width="1.9" height="1.76" fill="#45d0d0"/>
<rect x="1855.71" y="1665.7" width="2.88" height="2.47" fill="#4cf04c"/>
<rect x="1831.2" y="1657.43" width="2.25" height="1.55" fill="#4cf04c"/>
</g>
<rect x="1918" y="1479.2" width="114.1" height="113.8" fill="#000"/>
<g filter="url(#hm3)">
<rect x="1918" y="1479.2" width="114.1" height="113.8" fill="#000" fill-opacity="0.004"/>
<path d="M2005.55,1563.51 L2002.69,1568.42 L1999.19,1573.04 L1994.74,1577.03 L1989.28,1579.97 L1983.05,1581.62 L1976.42,1582.03 L1969.72,1581.45 L1963.1,1580.1 L1956.62,1578.05 L1950.4,1575.22 L1944.65,1571.52 L1939.6,1567.02 L1935.39,1561.93 L1931.94,1556.5 L1929.08,1550.86 L1926.75,1545 L1925.13,1538.91 L1924.6,1532.69 L1925.53,1526.65 L1928.01,1521.15 L1931.8,1516.47 L1936.47,1512.63 L1941.68,1509.5 L1947.25,1506.96 L1953.24,1505.12 L1959.63,1504.22 L1966.28,1504.55 L1972.87,1506.15 L1979.12,1508.75 L1984.97,1511.94 L1990.57,1515.44 L1996.09,1519.24 L2001.45,1523.58 L2006.19,1528.7 L2009.7,1534.58 L2011.49,1540.89 L2011.51,1547.15 L2010.17,1553.02 L2008.05,1558.42Z" fill="#fff"/>
<path d="M1939.26,1516 L1939.07,1516.91 L1939.02,1517.86 L1938.94,1518.9 L1938.62,1519.99 L1937.91,1521.03 L1936.76,1521.92 L1935.24,1522.54 L1933.51,1522.88 L1931.74,1523.01 L1930,1523.01 L1928.27,1522.97 L1926.5,1522.86 L1924.71,1522.6 L1923.05,1522.09 L1921.69,1521.29 L1920.8,1520.25 L1920.36,1519.13 L1920.19,1518.03 L1920.02,1517.01 L1919.7,1516 L1919.3,1514.92 L1919.09,1513.74 L1919.4,1512.56 L1920.39,1511.56 L1921.98,1510.9 L1923.85,1510.61 L1925.66,1510.58 L1927.21,1510.54 L1928.58,1510.3 L1930,1509.79 L1931.7,1509.15 L1933.75,1508.66 L1935.95,1508.57 L1937.96,1509.03 L1939.46,1509.98 L1940.25,1511.26 L1940.39,1512.63 L1940.09,1513.91 L1939.64,1515.03Z" fill="#fff"/>
</g>
<g filter="url(#spk)">
<rect x="1976.06" y="1537.2" width="1.61" height="1.71" fill="#45e08a"/>
<rect x="1943.81" y="1539.63" width="1.54" height="2.54" fill="#5a8cff"/>
<rect x="1969.16" y="1561.35" width="1.49" height="2.65" fill="#45d0d0"/>
<rect x="1981.78" y="1552.54" width="1.98" height="2.62" fill="#8aa8ff"/>
<rect x="1974.32" y="1555.62" width="1.54" height="2.16" fill="#45d0d0"/>
<rect x="1975.93" y="1539.04" width="1.69" height="1.69" fill="#4cf04c"/>
<rect x="1995.51" y="1519.44" width="1.56" height="1.46" fill="#5a8cff"/>
<rect x="1974.39" y="1568.08" width="1.99" height="1.86" fill="#45d0d0"/>
<rect x="1992.18" y="1546.94" width="1.57" height="2.65" fill="#45d0d0"/>
<rect x="1996.61" y="1522.74" width="2.87" height="2.35" fill="#45e08a"/>
<rect x="1960.78" y="1506.04" width="2.5" height="2.96" fill="#4cf04c"/>
<rect x="2007.06" y="1546.13" width="2.6" height="1.95" fill="#8aa8ff"/>
<rect x="1927.12" y="1511.36" width="2.15" height="1.71" fill="#5a8cff"/>
<rect x="1970.58" y="1517.43" width="2.7" height="1.8" fill="#45e08a"/>
<rect x="2002.9" y="1538.83" width="2.83" height="2.7" fill="#45d0d0"/>
<rect x="1984.37" y="1536.33" width="2.73" height="2.42" fill="#4cf04c"/>
<rect x="1950.26" y="1536.1" width="2.29" height="2.28" fill="#4cf04c"/>
<rect x="1934.03" y="1553.34" width="2.29" height="2.74" fill="#45d0d0"/>
<rect x="1971.69" y="1522.52" width="2.15" height="2.12" fill="#45e08a"/>
<rect x="1924.95" y="1533.57" width="1.63" height="2.79" fill="#4cf04c"/>
<rect x="1983.8" y="1517.7" width="2.08" height="1.53" fill="#45e08a"/>
<rect x="1966.33" y="1557.84" width="2.29" height="2.24" fill="#45e08a"/>
<rect x="1999.64" y="1542.96" width="2.48" height="2.37" fill="#4cf04c"/>
<rect x="1952.38" y="1531.41" width="2.94" height="1.95" fill="#45d0d0"/>
<rect x="1961.07" y="1567.76" width="2.29" height="1.81" fill="#45e08a"/>
<rect x="1932.35" y="1521.13" width="2.76" height="2.2" fill="#45d0d0"/>
<rect x="1964.82" y="1513.63" width="2.11" height="2.77" fill="#45e08a"/>
<rect x="1998.55" y="1523.49" width="2.41" height="1.47" fill="#8aa8ff"/>
<rect x="1948.56" y="1532.41" width="2.74" height="1.54" fill="#4fb0ff"/>
<rect x="1959" y="1557.09" width="1.53" height="2.86" fill="#45d0d0"/>
<rect x="1936.7" y="1561.17" width="2.53" height="2.31" fill="#45e08a"/>
<rect x="1996.01" y="1551.14" width="1.92" height="1.61" fill="#45e08a"/>
<rect x="1952.13" y="1552.44" width="2.77" height="2.1" fill="#45e08a"/>
<rect x="1981.2" y="1562.18" width="1.9" height="2.82" fill="#d0c870"/>
<rect x="1991.87" y="1568.89" width="2.03" height="2.56" fill="#5a8cff"/>
<rect x="1971.11" y="1520.61" width="1.49" height="1.91" fill="#45d0d0"/>
<rect x="1996.12" y="1550.08" width="1.79" height="1.9" fill="#45e08a"/>
<rect x="1963.32" y="1517.69" width="2.32" height="2.95" fill="#a0e070"/>
<rect x="1978.75" y="1537.5" width="2.87" height="2.97" fill="#45e08a"/>
<rect x="1962" y="1509.1" width="2.03" height="2.01" fill="#a0e070"/>
<rect x="1927.57" y="1534.61" width="2.58" height="2.53" fill="#8aa8ff"/>
<rect x="1948.32" y="1517.35" width="1.5" height="2.34" fill="#45e08a"/>
<rect x="1971.75" y="1513.66" width="2.16" height="1.63" fill="#5a8cff"/>
<rect x="1951.51" y="1552.52" width="2.37" height="2.25" fill="#4cf04c"/>
<rect x="1949.31" y="1542.61" width="2.67" height="1.87" fill="#45e08a"/>
<rect x="2006.92" y="1556.13" width="2.87" height="2.95" fill="#5a8cff"/>
<rect x="1993.73" y="1560.24" width="2.41" height="2.22" fill="#8aa8ff"/>
<rect x="1974.39" y="1581.45" width="2.8" height="1.72" fill="#4cf04c"/>
<rect x="1939.91" y="1521.14" width="2.46" height="1.63" fill="#5a8cff"/>
<rect x="1974.08" y="1548.73" width="2.42" height="1.62" fill="#4cf04c"/>
<rect x="1955.36" y="1549.65" width="2.85" height="2.06" fill="#45e08a"/>
<rect x="1931.71" y="1529.6" width="2.38" height="2.73" fill="#4cf04c"/>
<rect x="1994.49" y="1566.13" width="1.62" height="2.33" fill="#4fb0ff"/>
<rect x="1932.16" y="1514.75" width="2.7" height="2.24" fill="#45e08a"/>
<rect x="1976.16" y="1576.75" width="2.74" height="1.83" fill="#4cf04c"/>
<rect x="1996.14" y="1560.1" width="2.86" height="1.6" fill="#8aa8ff"/>
<rect x="1955.7" y="1520.19" width="2.97" height="2.63" fill="#45e08a"/>
<rect x="1946.13" y="1532.99" width="2.14" height="1.66" fill="#a0e070"/>
<rect x="1937.87" y="1547.93" width="2.61" height="2.11" fill="#4cf04c"/>
<rect x="1964.95" y="1564.85" width="1.55" height="2.08" fill="#45d0d0"/>
<rect x="1993.48" y="1535.64" width="2" height="2.57" fill="#4cf04c"/>
<rect x="1999.2" y="1564.77" width="1.57" height="2.57" fill="#4cf04c"/>
<rect x="1979.03" y="1579.21" width="2.41" height="2.88" fill="#8aa8ff"/>
<rect x="1950.53" y="1545.45" width="2.92" height="2.42" fill="#45e08a"/>
<rect x="1978.6" y="1577.8" width="2.58" height="2.36" fill="#45d0d0"/>
<rect x="1954.07" y="1516.18" width="1.94" height="1.88" fill="#5a8cff"/>
<rect x="1966.8" y="1531.53" width="2.65" height="2.46" fill="#d0c870"/>
<rect x="1948.48" y="1513.27" width="1.76" height="2.98" fill="#45e08a"/>
<rect x="1979.09" y="1558.14" width="2.88" height="2.96" fill="#45d0d0"/>
<rect x="1988.08" y="1562.27" width="1.94" height="2.27" fill="#4cf04c"/>
<rect x="1951.97" y="1565.82" width="1.5" height="1.58" fill="#5a8cff"/>
<rect x="1962.43" y="1571.58" width="1.56" height="2.47" fill="#45d0d0"/>
<rect x="1974.24" y="1562.4" width="2.57" height="2.39" fill="#45e08a"/>
<rect x="1990.86" y="1574.35" width="1.85" height="2.21" fill="#4cf04c"/>
<rect x="1992.8" y="1561.05" width="2.72" height="2.27" fill="#a0e070"/>
<rect x="1928.41" y="1541.37" width="2.86" height="2.76" fill="#4cf04c"/>
<rect x="1974.72" y="1512.74" width="2.34" height="2.61" fill="#8aa8ff"/>
<rect x="1946.84" y="1544.87" width="2.38" height="2.1" fill="#4fb0ff"/>
<rect x="1934.67" y="1520.22" width="1.4" height="2.05" fill="#45d0d0"/>
<rect x="1937.53" y="1511.17" width="1.76" height="1.78" fill="#a0e070"/>
<rect x="1950.16" y="1519.88" width="1.68" height="1.71" fill="#5a8cff"/>
<rect x="1928.25" y="1546.25" width="2.55" height="1.4" fill="#4fb0ff"/>
<rect x="1952.93" y="1541.9" width="1.53" height="2.79" fill="#4cf04c"/>
<rect x="1941.44" y="1510.75" width="1.62" height="1.54" fill="#45d0d0"/>
<rect x="1970.53" y="1542.86" width="2.7" height="1.47" fill="#45e08a"/>
<rect x="1978.91" y="1570.32" width="2.04" height="1.9" fill="#5a8cff"/>
<rect x="1930.78" y="1518.19" width="2.75" height="2.71" fill="#a0e070"/>
<rect x="1985.52" y="1528.71" width="2.4" height="1.9" fill="#8aa8ff"/>
<rect x="1944.08" y="1522.95" width="1.49" height="2.79" fill="#d0c870"/>
<rect x="1974.32" y="1557.99" width="1.75" height="1.55" fill="#d0c870"/>
<rect x="1944.08" y="1537.23" width="1.54" height="2.31" fill="#5a8cff"/>
<rect x="1947.77" y="1534.43" width="2.69" height="2.84" fill="#5a8cff"/>
<rect x="1947.12" y="1517.07" width="2.78" height="2.65" fill="#45d0d0"/>
<rect x="2002.98" y="1561.74" width="2.96" height="1.65" fill="#8aa8ff"/>
<rect x="1944.87" y="1521.21" width="2.14" height="2.87" fill="#45d0d0"/>
<rect x="1972.93" y="1560.19" width="2.69" height="2.62" fill="#4fb0ff"/>
<rect x="1963.73" y="1546.38" width="2.13" height="2.43" fill="#5a8cff"/>
<rect x="2002.48" y="1530.62" width="2.77" height="2.94" fill="#4cf04c"/>
<rect x="1953.25" y="1572.2" width="2.31" height="2.13" fill="#5a8cff"/>
<rect x="1978.59" y="1519.83" width="1.46" height="2.6" fill="#4fb0ff"/>
<rect x="1957.05" y="1521.63" width="1.71" height="2.24" fill="#45e08a"/>
<rect x="1952.34" y="1558" width="1.93" height="2.3" fill="#45d0d0"/>
<rect x="1937.65" y="1528.07" width="1.9" height="2.18" fill="#45d0d0"/>
<rect x="1940.36" y="1560.15" width="2.32" height="2.2" fill="#45e08a"/>
<rect x="1940.2" y="1552.16" width="2.65" height="2.35" fill="#45d0d0"/>
<rect x="1935.31" y="1557.9" width="2.58" height="1.54" fill="#5a8cff"/>
<rect x="2003.55" y="1548.51" width="1.95" height="2.01" fill="#4cf04c"/>
<rect x="1990.73" y="1558.12" width="2.07" height="1.91" fill="#4fb0ff"/>
<rect x="1955.35" y="1505.68" width="2.4" height="1.52" fill="#4cf04c"/>
<rect x="1975.98" y="1532.4" width="1.77" height="1.85" fill="#4cf04c"/>
<rect x="1945.05" y="1570.42" width="2.58" height="2.79" fill="#45e08a"/>
<rect x="1960.51" y="1573.09" width="1.97" height="2.72" fill="#4cf04c"/>
<rect x="1987.47" y="1524.96" width="2.45" height="2.74" fill="#4cf04c"/>
<rect x="2005.37" y="1560.26" width="2.33" height="1.71" fill="#4fb0ff"/>
<rect x="1993.24" y="1569.27" width="2.34" height="1.77" fill="#45d0d0"/>
<rect x="1962.77" y="1559.59" width="1.66" height="2.44" fill="#45e08a"/>
<rect x="1970.24" y="1538.89" width="2.45" height="2.46" fill="#a0e070"/>
<rect x="1959.52" y="1537.45" width="2.1" height="1.51" fill="#4cf04c"/>
<rect x="1957.44" y="1539.74" width="1.77" height="2.12" fill="#4fb0ff"/>
<rect x="1947.28" y="1542.48" width="1.5" height="1.42" fill="#4cf04c"/>
<rect x="2002.32" y="1553.4" width="2.96" height="2.49" fill="#45d0d0"/>
<rect x="1993.34" y="1534.66" width="1.51" height="2.9" fill="#d0c870"/>
<rect x="1960.36" y="1568.78" width="2.14" height="1.69" fill="#45e08a"/>
<rect x="1937.31" y="1527.58" width="1.43" height="1.88" fill="#5a8cff"/>
<rect x="1965.38" y="1531.22" width="2.14" height="1.86" fill="#5a8cff"/>
<rect x="1971.63" y="1530.1" width="2.89" height="2.95" fill="#5a8cff"/>
<rect x="1981.9" y="1549.75" width="2.26" height="1.82" fill="#45d0d0"/>
<rect x="1964.01" y="1507.73" width="2.97" height="2.63" fill="#4fb0ff"/>
<rect x="1952.63" y="1573.8" width="2.79" height="1.62" fill="#45e08a"/>
<rect x="1954.55" y="1565.05" width="1.62" height="2.06" fill="#a0e070"/>
<rect x="1950.83" y="1537.74" width="2.44" height="2.62" fill="#d0c870"/>
<rect x="1952.56" y="1536.28" width="1.43" height="1.84" fill="#4fb0ff"/>
<rect x="1929.04" y="1543.44" width="2.62" height="1.46" fill="#4fb0ff"/>
<rect x="1987.61" y="1540.2" width="2.82" height="1.43" fill="#4fb0ff"/>
<rect x="1995.71" y="1573" width="1.99" height="2.4" fill="#a0e070"/>
<rect x="1975.44" y="1533.78" width="1.89" height="2.3" fill="#a0e070"/>
<rect x="1938.11" y="1546.47" width="2.37" height="1.84" fill="#45e08a"/>
<rect x="2006.7" y="1550.6" width="2.51" height="2.6" fill="#45e08a"/>
<rect x="1992.64" y="1541.79" width="1.91" height="2.99" fill="#4fb0ff"/>
<rect x="2003.11" y="1543.17" width="2.03" height="2.58" fill="#4cf04c"/>
<rect x="1948.93" y="1539.48" width="2.12" height="2.1" fill="#4fb0ff"/>
<rect x="1981.28" y="1557.56" width="1.78" height="1.59" fill="#5a8cff"/>
<rect x="1964.31" y="1570.5" width="2.7" height="1.65" fill="#5a8cff"/>
<rect x="1929.42" y="1526.59" width="2.48" height="2.95" fill="#45e08a"/>
<rect x="1942.61" y="1549.63" width="2.27" height="1.96" fill="#45e08a"/>
<rect x="1950.11" y="1532.31" width="1.86" height="1.61" fill="#4fb0ff"/>
<rect x="1998.65" y="1530.65" width="2.7" height="2.44" fill="#4cf04c"/>
<rect x="1990.12" y="1529.09" width="1.81" height="1.77" fill="#45d0d0"/>
<rect x="1971.47" y="1519.07" width="1.44" height="1.74" fill="#5a8cff"/>
<rect x="1978.58" y="1567.38" width="2.43" height="2.07" fill="#45e08a"/>
<rect x="1989.54" y="1563.81" width="1.9" height="2.49" fill="#4fb0ff"/>
<rect x="1938.85" y="1534.34" width="2.27" height="2.71" fill="#45d0d0"/>
<rect x="1957.28" y="1576.02" width="1.68" height="2.66" fill="#4fb0ff"/>
<rect x="1965.97" y="1539.9" width="2.43" height="1.82" fill="#5a8cff"/>
<rect x="2005.32" y="1542.81" width="1.96" height="1.86" fill="#45d0d0"/>
<rect x="1986.86" y="1513.2" width="2.03" height="1.66" fill="#5a8cff"/>
<rect x="1938.59" y="1543.46" width="2.96" height="1.91" fill="#45e08a"/>
<rect x="1953.94" y="1555.52" width="1.79" height="2.54" fill="#4fb0ff"/>
<rect x="1950.36" y="1546.72" width="2.63" height="1.64" fill="#45e08a"/>
<rect x="1940.17" y="1513.27" width="2.64" height="1.57" fill="#4cf04c"/>
</g>
<rect x="1918" y="1597.2" width="114.1" height="114" fill="#000"/>
<g filter="url(#hm4)">
<rect x="1918" y="1597.2" width="114.1" height="114" fill="#000" fill-opacity="0.004"/>
<path d="M2012.38,1678.54 L2010.93,1683.84 L2008.77,1689.23 L2005.09,1693.96 L1999.73,1697.31 L1993.19,1699.05 L1986.13,1699.45 L1978.97,1698.91 L1971.87,1697.63 L1964.93,1695.46 L1958.44,1692.21 L1952.75,1687.96 L1947.99,1683.15 L1943.81,1678.25 L1939.61,1673.44 L1935.07,1668.46 L1930.62,1662.91 L1927.38,1656.7 L1926.49,1650.32 L1928.39,1644.55 L1932.39,1639.9 L1937.13,1636.19 L1941.48,1632.66 L1945.25,1628.6 L1949.22,1624.08 L1954.4,1620.11 L1961.12,1618.1 L1968.75,1618.96 L1976.13,1622.37 L1982.43,1627.01 L1987.84,1631.36 L1993.28,1634.63 L1999.61,1637.21 L2006.76,1640.2 L2013.53,1644.55 L2018.29,1650.37 L2020.04,1656.91 L2019.04,1663.18 L2016.59,1668.68 L2014.14,1673.6Z" fill="#fff"/>
<path d="M1942.61,1632 L1942.89,1632.99 L1943.12,1634.07 L1942.93,1635.19 L1942.16,1636.15 L1940.91,1636.84 L1939.46,1637.26 L1938.06,1637.58 L1936.77,1637.96 L1935.46,1638.47 L1934,1639.01 L1932.33,1639.4 L1930.55,1639.44 L1928.85,1639.07 L1927.41,1638.35 L1926.3,1637.39 L1925.5,1636.32 L1924.97,1635.22 L1924.64,1634.13 L1924.5,1633.05 L1924.51,1632 L1924.62,1630.96 L1924.83,1629.92 L1925.21,1628.86 L1925.86,1627.86 L1926.88,1627.01 L1928.23,1626.44 L1929.77,1626.18 L1931.28,1626.15 L1932.67,1626.12 L1934,1625.9 L1935.48,1625.45 L1937.28,1624.94 L1939.33,1624.68 L1941.31,1624.96 L1942.79,1625.85 L1943.48,1627.18 L1943.42,1628.64 L1942.98,1629.96 L1942.62,1631.04Z" fill="#fff"/>
</g>
<g filter="url(#spk)">
<rect x="1928.19" y="1634.58" width="2.61" height="1.64" fill="#5a8cff"/>
<rect x="1994.27" y="1680.41" width="2.79" height="2.98" fill="#45e08a"/>
<rect x="1974.85" y="1696.04" width="2.11" height="1.89" fill="#4cf04c"/>
<rect x="1941.25" y="1644.69" width="2.27" height="1.99" fill="#45d0d0"/>
<rect x="2001.25" y="1684.74" width="2.78" height="1.83" fill="#8aa8ff"/>
<rect x="1989.21" y="1697.31" width="2.21" height="3" fill="#4fb0ff"/>
<rect x="1976.27" y="1637.84" width="1.82" height="2.43" fill="#4cf04c"/>
<rect x="1963.1" y="1682.75" width="2.15" height="2.73" fill="#45d0d0"/>
<rect x="1943.85" y="1664.82" width="2.8" height="1.8" fill="#45e08a"/>
<rect x="1931.9" y="1654.78" width="2.12" height="2.62" fill="#45d0d0"/>
<rect x="1976.9" y="1664.99" width="2.03" height="1.75" fill="#45e08a"/>
<rect x="1953.98" y="1645.45" width="2.68" height="2.43" fill="#d0c870"/>
<rect x="1951.03" y="1662.29" width="2.07" height="2.41" fill="#4cf04c"/>
<rect x="1951.52" y="1649.18" width="1.91" height="2.55" fill="#4cf04c"/>
<rect x="1928.31" y="1655.73" width="2.66" height="2.75" fill="#5a8cff"/>
<rect x="1939.67" y="1659.11" width="2.68" height="2.19" fill="#5a8cff"/>
<rect x="1950.31" y="1671.31" width="2.44" height="2.06" fill="#45e08a"/>
<rect x="1944.37" y="1630.58" width="2.95" height="1.85" fill="#4fb0ff"/>
<rect x="1948.22" y="1668.51" width="1.89" height="2.6" fill="#45d0d0"/>
<rect x="1935.2" y="1631.7" width="2.62" height="2.5" fill="#45d0d0"/>
<rect x="1995.06" y="1636.52" width="1.89" height="2.49" fill="#4fb0ff"/>
<rect x="1948.79" y="1644.86" width="2.91" height="2.28" fill="#4fb0ff"/>
<rect x="1949.15" y="1669.56" width="2.89" height="1.98" fill="#45e08a"/>
<rect x="1957.62" y="1625.04" width="2.88" height="1.97" fill="#45e08a"/>
<rect x="1979.29" y="1637.45" width="2.23" height="2.95" fill="#5a8cff"/>
<rect x="1954.75" y="1681.9" width="2.33" height="1.98" fill="#a0e070"/>
<rect x="1992.32" y="1673.94" width="1.63" height="1.58" fill="#4fb0ff"/>
<rect x="2009.33" y="1660.15" width="2.53" height="1.65" fill="#45e08a"/>
<rect x="1968.42" y="1688.83" width="2.76" height="1.63" fill="#4fb0ff"/>
<rect x="2016.28" y="1657.64" width="2.57" height="2.75" fill="#d0c870"/>
<rect x="1985.08" y="1632.69" width="2.63" height="2.94" fill="#45e08a"/>
<rect x="1942.85" y="1652.34" width="1.81" height="2.16" fill="#8aa8ff"/>
<rect x="1932.29" y="1661.98" width="2.15" height="2.58" fill="#45d0d0"/>
<rect x="1949.4" y="1670.78" width="2.62" height="1.41" fill="#45e08a"/>
<rect x="1989.45" y="1663.44" width="2.25" height="2.39" fill="#45e08a"/>
<rect x="2004.59" y="1681.42" width="2.32" height="1.67" fill="#d0c870"/>
<rect x="2007.12" y="1680.91" width="1.6" height="1.66" fill="#4cf04c"/>
<rect x="1965.99" y="1633.38" width="1.77" height="2.88" fill="#8aa8ff"/>
<rect x="1973.6" y="1678.9" width="2.55" height="2.23" fill="#45e08a"/>
<rect x="1953.62" y="1629.25" width="1.52" height="2.75" fill="#45d0d0"/>
<rect x="1973.04" y="1627.43" width="2.39" height="2.94" fill="#5a8cff"/>
<rect x="1932.43" y="1632.38" width="1.85" height="2.57" fill="#a0e070"/>
<rect x="1967.08" y="1649.8" width="1.63" height="1.88" fill="#4fb0ff"/>
<rect x="1940.04" y="1624.81" width="1.63" height="2.32" fill="#4cf04c"/>
<rect x="1989.09" y="1666.56" width="1.67" height="2.82" fill="#d0c870"/>
<rect x="1981.95" y="1627.95" width="2.22" height="2.61" fill="#45d0d0"/>
<rect x="1986.48" y="1675.9" width="1.94" height="2.96" fill="#45d0d0"/>
<rect x="1978.87" y="1696.68" width="2.55" height="2.97" fill="#a0e070"/>
<rect x="2013.07" y="1665.02" width="2.04" height="1.48" fill="#45e08a"/>
<rect x="1938.71" y="1655.65" width="2.41" height="1.65" fill="#8aa8ff"/>
<rect x="1986.78" y="1673.03" width="2.81" height="2.62" fill="#5a8cff"/>
<rect x="1948.09" y="1636.63" width="2.88" height="2.31" fill="#4cf04c"/>
<rect x="1967.79" y="1637.68" width="2.93" height="2.49" fill="#45e08a"/>
<rect x="1941.87" y="1641.18" width="1.96" height="2.16" fill="#8aa8ff"/>
<rect x="1969.12" y="1653.18" width="2.73" height="2.8" fill="#4cf04c"/>
<rect x="1978.7" y="1629.73" width="2.02" height="2.03" fill="#45d0d0"/>
<rect x="1966.23" y="1631.12" width="1.82" height="2.85" fill="#45e08a"/>
<rect x="1994.16" y="1696.45" width="2.41" height="2.08" fill="#a0e070"/>
<rect x="1953" y="1630.84" width="1.63" height="2.42" fill="#45e08a"/>
<rect x="1961.34" y="1620.79" width="1.9" height="2.82" fill="#4fb0ff"/>
<rect x="1983.19" y="1650.38" width="2.74" height="1.44" fill="#5a8cff"/>
<rect x="1995.07" y="1674.47" width="2.98" height="2.45" fill="#4fb0ff"/>
<rect x="1948.32" y="1682.88" width="2.36" height="1.43" fill="#5a8cff"/>
<rect x="1981.69" y="1664.35" width="2.65" height="1.45" fill="#45d0d0"/>
<rect x="1960.53" y="1685.66" width="2.75" height="2.98" fill="#45d0d0"/>
<rect x="1981.96" y="1697.91" width="2.55" height="1.63" fill="#4cf04c"/>
<rect x="1967.02" y="1681.27" width="2.96" height="2.02" fill="#4fb0ff"/>
<rect x="2007.19" y="1672.28" width="2.12" height="2.58" fill="#45d0d0"/>
<rect x="1975.88" y="1658.56" width="1.96" height="1.81" fill="#45d0d0"/>
<rect x="1988.05" y="1632.2" width="2.03" height="2.35" fill="#4fb0ff"/>
<rect x="1987" y="1675.13" width="1.51" height="2.45" fill="#45d0d0"/>
<rect x="1957.91" y="1690.21" width="1.59" height="2.41" fill="#4fb0ff"/>
<rect x="1984" y="1653.4" width="1.53" height="1.9" fill="#4fb0ff"/>
<rect x="2015.76" y="1660.32" width="2.38" height="2.88" fill="#4fb0ff"/>
<rect x="1959.47" y="1667.64" width="1.66" height="1.47" fill="#8aa8ff"/>
<rect x="1986.91" y="1673.66" width="2.55" height="2.17" fill="#45e08a"/>
<rect x="1942.42" y="1639.15" width="1.88" height="1.68" fill="#4cf04c"/>
<rect x="1988.07" y="1671.56" width="2.85" height="2.43" fill="#45d0d0"/>
<rect x="1980.57" y="1665.16" width="1.55" height="2.61" fill="#45e08a"/>
<rect x="1931.34" y="1636.92" width="1.58" height="2.35" fill="#4fb0ff"/>
<rect x="1979.39" y="1637" width="2.86" height="2.53" fill="#4fb0ff"/>
<rect x="1929.52" y="1635.89" width="1.6" height="2.04" fill="#4fb0ff"/>
<rect x="1997.97" y="1652.82" width="2.82" height="2.78" fill="#45d0d0"/>
<rect x="2008.55" y="1658.68" width="1.75" height="2.82" fill="#5a8cff"/>
<rect x="2006.67" y="1646.99" width="1.49" height="2.18" fill="#4cf04c"/>
<rect x="2015.78" y="1654.04" width="2.63" height="2.34" fill="#4fb0ff"/>
<rect x="1972.68" y="1668.18" width="2.4" height="1.9" fill="#4cf04c"/>
<rect x="1962.87" y="1692.65" width="2.72" height="2.49" fill="#45e08a"/>
<rect x="2005.35" y="1687.97" width="2.19" height="2.76" fill="#4cf04c"/>
<rect x="1950.73" y="1628.26" width="1.58" height="1.7" fill="#4fb0ff"/>
<rect x="1992.31" y="1698.33" width="2.53" height="2.26" fill="#4cf04c"/>
<rect x="1994.48" y="1665.76" width="2.75" height="2.92" fill="#45e08a"/>
<rect x="1928.19" y="1648.6" width="2.2" height="1.87" fill="#45e08a"/>
<rect x="1968.01" y="1625.4" width="2.83" height="2.81" fill="#45e08a"/>
<rect x="1943.51" y="1650.07" width="1.72" height="1.46" fill="#5a8cff"/>
<rect x="1994.14" y="1640" width="2.19" height="1.81" fill="#4cf04c"/>
<rect x="1972.37" y="1633.81" width="2.2" height="1.78" fill="#45d0d0"/>
<rect x="2004.55" y="1680.07" width="2.84" height="1.87" fill="#45d0d0"/>
<rect x="2006.25" y="1683.5" width="1.94" height="2.57" fill="#8aa8ff"/>
<rect x="1993.02" y="1645.98" width="2.69" height="1.47" fill="#d0c870"/>
<rect x="1946.8" y="1678.11" width="3" height="2.74" fill="#45e08a"/>
<rect x="1952.29" y="1648.27" width="2.56" height="2.7" fill="#5a8cff"/>
<rect x="1972.83" y="1665.93" width="2.62" height="1.71" fill="#8aa8ff"/>
<rect x="1969.91" y="1695.33" width="2.72" height="1.97" fill="#4cf04c"/>
<rect x="2011.72" y="1655.93" width="1.83" height="1.95" fill="#45d0d0"/>
<rect x="1970.26" y="1645.04" width="2.66" height="1.49" fill="#8aa8ff"/>
<rect x="2014.49" y="1650.38" width="2.31" height="2.58" fill="#5a8cff"/>
<rect x="1987.14" y="1651.74" width="1.58" height="2.89" fill="#45e08a"/>
<rect x="1960.81" y="1679.38" width="1.81" height="2.13" fill="#45d0d0"/>
<rect x="1979.7" y="1659.06" width="2.11" height="2.44" fill="#45e08a"/>
<rect x="1987.28" y="1699.3" width="1.87" height="2.28" fill="#5a8cff"/>
<rect x="1967.8" y="1634.47" width="2.98" height="1.42" fill="#45e08a"/>
<rect x="1984.66" y="1631.85" width="1.44" height="2.54" fill="#d0c870"/>
<rect x="1982.31" y="1672.29" width="1.96" height="2.93" fill="#45e08a"/>
<rect x="1946.91" y="1662.01" width="1.58" height="2.17" fill="#4fb0ff"/>
<rect x="1988.05" y="1674.62" width="2.09" height="2.9" fill="#a0e070"/>
<rect x="1967.97" y="1622.53" width="2.38" height="2.61" fill="#45e08a"/>
<rect x="1992.05" y="1653.53" width="1.77" height="2.19" fill="#8aa8ff"/>
<rect x="2006.74" y="1649.11" width="2.57" height="2.47" fill="#5a8cff"/>
<rect x="2009.16" y="1687.12" width="1.87" height="1.49" fill="#45e08a"/>
<rect x="1970.15" y="1682.27" width="1.54" height="1.9" fill="#4fb0ff"/>
<rect x="1953.8" y="1648" width="2.74" height="2.09" fill="#8aa8ff"/>
<rect x="1963.2" y="1667.14" width="1.84" height="1.49" fill="#4cf04c"/>
<rect x="1992.66" y="1689.22" width="2.22" height="2.22" fill="#5a8cff"/>
<rect x="1966.63" y="1666.4" width="1.57" height="1.67" fill="#d0c870"/>
<rect x="1934.15" y="1631.14" width="2.94" height="1.97" fill="#a0e070"/>
<rect x="1935.37" y="1631.05" width="2.26" height="2.51" fill="#4cf04c"/>
<rect x="1983.81" y="1667.41" width="1.71" height="1.88" fill="#45e08a"/>
<rect x="1966.74" y="1625.35" width="2.21" height="2.32" fill="#45d0d0"/>
<rect x="1935.69" y="1637.71" width="1.62" height="1.45" fill="#a0e070"/>
<rect x="1965.87" y="1670.37" width="1.42" height="2.11" fill="#8aa8ff"/>
<rect x="1960.88" y="1676.63" width="2.76" height="2.43" fill="#45d0d0"/>
<rect x="1983.17" y="1643.45" width="2.89" height="1.63" fill="#4fb0ff"/>
<rect x="1961.02" y="1663.76" width="2.04" height="2.51" fill="#45e08a"/>
<rect x="1980.29" y="1665.96" width="1.54" height="2.59" fill="#45d0d0"/>
<rect x="1955.58" y="1666.38" width="1.85" height="1.8" fill="#4cf04c"/>
<rect x="1973.85" y="1664.68" width="2.9" height="2.83" fill="#5a8cff"/>
<rect x="1953.58" y="1621.41" width="1.43" height="1.71" fill="#5a8cff"/>
<rect x="2013.99" y="1659.93" width="2.75" height="1.62" fill="#4fb0ff"/>
<rect x="1965.89" y="1654.69" width="1.59" height="2.44" fill="#4fb0ff"/>
<rect x="1968.92" y="1646.12" width="2.1" height="2.78" fill="#4cf04c"/>
<rect x="2004.17" y="1662.82" width="2.85" height="1.96" fill="#45e08a"/>
<rect x="1975.51" y="1666.89" width="2.92" height="1.7" fill="#d0c870"/>
<rect x="2013.64" y="1665.36" width="2.09" height="2.6" fill="#45d0d0"/>
<rect x="1968.07" y="1622.99" width="1.76" height="1.89" fill="#4fb0ff"/>
<rect x="1966.62" y="1651.46" width="2.18" height="1.42" fill="#45d0d0"/>
<rect x="1998.51" y="1686.03" width="2.24" height="2.45" fill="#5a8cff"/>
<rect x="1965.65" y="1665.79" width="1.8" height="1.44" fill="#4fb0ff"/>
<rect x="1976.65" y="1636.71" width="2.06" height="1.54" fill="#45e08a"/>
<rect x="2008.7" y="1671.33" width="2.43" height="1.62" fill="#d0c870"/>
<rect x="1949.86" y="1637.1" width="2.31" height="2.06" fill="#4fb0ff"/>
<rect x="1979.74" y="1666.03" width="1.68" height="2.49" fill="#d0c870"/>
<rect x="1959.25" y="1627.42" width="1.5" height="1.73" fill="#5a8cff"/>
<rect x="1985.25" y="1630.21" width="2.57" height="2.31" fill="#4cf04c"/>
<rect x="2009.9" y="1664.16" width="2.93" height="2.65" fill="#45d0d0"/>
<rect x="1952.39" y="1623.79" width="2.73" height="2.02" fill="#4cf04c"/>
<rect x="1967.31" y="1619.33" width="1.53" height="2.93" fill="#a0e070"/>
<rect x="1978.94" y="1656.95" width="3" height="2.59" fill="#45e08a"/>
<rect x="1950.87" y="1639.3" width="2.11" height="1.54" fill="#a0e070"/>
<rect x="1950.74" y="1654.99" width="2.21" height="2.24" fill="#45e08a"/>
</g>
<rect x="2045.2" y="1567.6" width="12.2" height="143.4" fill="url(#cbar)" stroke="#1a1a1a" stroke-width="1.2"/>
<text x="2060.8" y="1575" font-size="22.8" textLength="42.5" lengthAdjust="spacingAndGlyphs">255</text>
<text x="2060.8" y="1622.9" font-size="22.8" textLength="42.5" lengthAdjust="spacingAndGlyphs">170</text>
<text x="2060.8" y="1673.6" font-size="22.8" textLength="28.5" lengthAdjust="spacingAndGlyphs">85</text>
<text x="2060.8" y="1723.6" font-size="22.8" textLength="14.2" lengthAdjust="spacingAndGlyphs">0</text>
<text x="297.9" y="1912" font-size="23" text-anchor="middle" font-style="italic" textLength="259.5" lengthAdjust="spacingAndGlyphs">MB087C &gt; GCaMP6m</text>
<text x="298.3" y="1939.7" font-size="21.5" text-anchor="middle" font-weight="normal" textLength="128.5" lengthAdjust="spacingAndGlyphs">(PAM-<tspan font-family="Liberation Serif, serif">β′</tspan>2a)</text>
<line x1="98.4" y1="1973.88" x2="98.4" y2="2139.72" stroke="#000" stroke-width="3.4"/>
<line x1="91.4" y1="1975.48" x2="98.4" y2="1975.48" stroke="#000" stroke-width="3.2"/>
<text x="83.5" y="1983.88" font-size="21.8" text-anchor="end" textLength="36.1" lengthAdjust="spacingAndGlyphs">0.4</text>
<line x1="91.4" y1="2056.8" x2="98.4" y2="2056.8" stroke="#000" stroke-width="3.2"/>
<text x="83.5" y="2065.2" font-size="21.8" text-anchor="end" textLength="36.1" lengthAdjust="spacingAndGlyphs">0.0</text>
<line x1="91.4" y1="2138.12" x2="98.4" y2="2138.12" stroke="#000" stroke-width="3.2"/>
<text x="83.5" y="2146.52" font-size="21.8" text-anchor="end" textLength="44" lengthAdjust="spacingAndGlyphs">-0.4</text>
<line x1="94.1" y1="2016.14" x2="98.4" y2="2016.14" stroke="#000" stroke-width="3"/>
<line x1="94.1" y1="2097.46" x2="98.4" y2="2097.46" stroke="#000" stroke-width="3"/>
<line x1="100.8" y1="2056.8" x2="503" y2="2056.8" stroke="#000" stroke-width="1.8" stroke-dasharray="5 3.6"/>
<line x1="142.1" y1="2056.8" x2="255.1" y2="2031.7" stroke="#e0552c" stroke-width="2"/>
<line x1="142.1" y1="2056.8" x2="255.1" y2="2047.6" stroke="#e0552c" stroke-width="2"/>
<line x1="142.1" y1="2056.8" x2="255.1" y2="2055.3" stroke="#e0552c" stroke-width="2"/>
<line x1="142.1" y1="2056.8" x2="255.1" y2="2059.8" stroke="#e0552c" stroke-width="2"/>
<line x1="142.1" y1="2056.8" x2="255.1" y2="2071.1" stroke="#e0552c" stroke-width="2"/>
<line x1="142.1" y1="2056.8" x2="255.1" y2="2076.6" stroke="#e0552c" stroke-width="2"/>
<line x1="142.1" y1="2056.8" x2="255.1" y2="2082.1" stroke="#e0552c" stroke-width="2"/>
<line x1="142.1" y1="2056.8" x2="255.1" y2="2087.3" stroke="#e0552c" stroke-width="2"/>
<line x1="142.1" y1="2056.8" x2="255.1" y2="2090.4" stroke="#e0552c" stroke-width="2"/>
<line x1="142.1" y1="2056.8" x2="255.1" y2="2108.7" stroke="#e0552c" stroke-width="2"/>
<line x1="142.1" y1="2056.8" x2="255.1" y2="2117.9" stroke="#e0552c" stroke-width="2"/>
<circle cx="255.1" cy="2031.7" r="5.6" fill="#e0552c"/>
<circle cx="255.1" cy="2047.6" r="5.6" fill="#e0552c"/>
<circle cx="255.1" cy="2055.3" r="5.6" fill="#e0552c"/>
<circle cx="255.1" cy="2059.8" r="5.6" fill="#e0552c"/>
<circle cx="255.1" cy="2071.1" r="5.6" fill="#e0552c"/>
<circle cx="255.1" cy="2076.6" r="5.6" fill="#e0552c"/>
<circle cx="255.1" cy="2082.1" r="5.6" fill="#e0552c"/>
<circle cx="255.1" cy="2087.3" r="5.6" fill="#e0552c"/>
<circle cx="255.1" cy="2090.4" r="5.6" fill="#e0552c"/>
<circle cx="255.1" cy="2108.7" r="5.6" fill="#e0552c"/>
<circle cx="255.1" cy="2117.9" r="5.6" fill="#e0552c"/>
<circle cx="142.1" cy="2056.8" r="5.9" fill="#e0552c"/>
<line x1="345.2" y1="2056.8" x2="457.4" y2="2019.5" stroke="#e0552c" stroke-width="2"/>
<line x1="345.2" y1="2056.8" x2="457.4" y2="2050.7" stroke="#e0552c" stroke-width="2"/>
<line x1="345.2" y1="2056.8" x2="457.4" y2="2053.7" stroke="#e0552c" stroke-width="2"/>
<line x1="345.2" y1="2056.8" x2="457.4" y2="2055" stroke="#e0552c" stroke-width="2"/>
<line x1="345.2" y1="2056.8" x2="457.4" y2="2057.5" stroke="#e0552c" stroke-width="2"/>
<line x1="345.2" y1="2056.8" x2="457.4" y2="2060" stroke="#e0552c" stroke-width="2"/>
<line x1="345.2" y1="2056.8" x2="457.4" y2="2067.5" stroke="#e0552c" stroke-width="2"/>
<line x1="345.2" y1="2056.8" x2="457.4" y2="2072.1" stroke="#e0552c" stroke-width="2"/>
<line x1="345.2" y1="2056.8" x2="457.4" y2="2076.6" stroke="#e0552c" stroke-width="2"/>
<line x1="345.2" y1="2056.8" x2="457.4" y2="2079.7" stroke="#e0552c" stroke-width="2"/>
<line x1="345.2" y1="2056.8" x2="457.4" y2="2093.4" stroke="#e0552c" stroke-width="2"/>
<line x1="345.2" y1="2056.8" x2="457.4" y2="2098" stroke="#e0552c" stroke-width="2"/>
<circle cx="457.4" cy="2019.5" r="5.6" fill="#e0552c"/>
<circle cx="457.4" cy="2050.7" r="5.6" fill="#e0552c"/>
<circle cx="457.4" cy="2053.7" r="5.6" fill="#e0552c"/>
<circle cx="457.4" cy="2055" r="5.6" fill="#e0552c"/>
<circle cx="457.4" cy="2057.5" r="5.6" fill="#e0552c"/>
<circle cx="457.4" cy="2060" r="5.6" fill="#e0552c"/>
<circle cx="457.4" cy="2067.5" r="5.6" fill="#e0552c"/>
<circle cx="457.4" cy="2072.1" r="5.6" fill="#e0552c"/>
<circle cx="457.4" cy="2076.6" r="5.6" fill="#e0552c"/>
<circle cx="457.4" cy="2079.7" r="5.6" fill="#e0552c"/>
<circle cx="457.4" cy="2093.4" r="5.6" fill="#e0552c"/>
<circle cx="457.4" cy="2098" r="5.6" fill="#e0552c"/>
<circle cx="345.2" cy="2056.8" r="5.9" fill="#e0552c"/>
<text transform="translate(23.8,2054.5) rotate(-90)" x="0" y="0" font-size="28.5" text-anchor="middle" textLength="82.5" lengthAdjust="spacingAndGlyphs">ΔF/F0</text>
<text x="227.2" y="2019.7" font-size="25.5" textLength="68.9" lengthAdjust="spacingAndGlyphs">n = 11</text>
<text x="426.5" y="2001.2" font-size="25.5" textLength="72.7" lengthAdjust="spacingAndGlyphs">n = 12</text>
<text x="375.2" y="2026.2" font-size="25" textLength="28.7" lengthAdjust="spacingAndGlyphs">ns</text>
<text x="179" y="2121" font-size="22" textLength="8.6" lengthAdjust="spacingAndGlyphs">*</text>
<text x="441.8" y="2148.4" font-size="22.2" textLength="48.6" lengthAdjust="spacingAndGlyphs">Post</text>
<text x="134.4" y="2171.4" font-size="22.2" textLength="35.8" lengthAdjust="spacingAndGlyphs">Pre</text>
<text x="238.3" y="2171.4" font-size="22.2" textLength="49.5" lengthAdjust="spacingAndGlyphs">Post</text>
<text x="337.6" y="2171.4" font-size="22.2" textLength="36.4" lengthAdjust="spacingAndGlyphs">Pre</text>
<line x1="180.3" y1="2173.8" x2="218.5" y2="2173.8" stroke="#000" stroke-width="2.4"/>
<polygon points="216.3,2168 228.5,2173.8 216.3,2179.6" fill="#000"/>
<line x1="383.4" y1="2173.8" x2="422.3" y2="2173.8" stroke="#000" stroke-width="2.4"/>
<polygon points="420.1,2168 432.3,2173.8 420.1,2179.6" fill="#000"/>
<line x1="117.6" y1="2184.2" x2="288.7" y2="2184.2" stroke="#000" stroke-width="2.6"/>
<line x1="320.2" y1="2184.2" x2="491.9" y2="2184.2" stroke="#000" stroke-width="2.6"/>
<text x="8.6" y="2215.7" font-size="23" textLength="117.3" lengthAdjust="spacingAndGlyphs">LK peptide</text>
<text x="167.4" y="2215.7" font-size="23" textLength="77.6" lengthAdjust="spacingAndGlyphs">100 nM</text>
<text x="379.2" y="2215.7" font-size="23" textLength="50.7" lengthAdjust="spacingAndGlyphs">1 nM</text>
<text x="167.9" y="2300.4" font-size="22.5" textLength="77.1" lengthAdjust="spacingAndGlyphs">100 nM</text>
<text x="312" y="2300.4" font-size="22.5" textLength="50.9" lengthAdjust="spacingAndGlyphs">1 nM</text>
<text transform="translate(128,2372.4) rotate(-90)" x="0" y="0" font-size="27" text-anchor="middle" textLength="40" lengthAdjust="spacingAndGlyphs">Pre</text>
<text transform="translate(128,2490.2) rotate(-90)" x="0" y="0" font-size="27" text-anchor="middle" textLength="54.5" lengthAdjust="spacingAndGlyphs">Post</text>
<rect x="149.3" y="2314.9" width="114.3" height="114.3" fill="#000"/>
<g filter="url(#hm5)">
<rect x="149.3" y="2314.9" width="114.3" height="114.3" fill="#000" fill-opacity="0.004"/>
<path d="M264.55,2386.58 L264.01,2390.26 L260.35,2393.3 L253.89,2395.28 L245.9,2396.11 L237.95,2396.18 L231.09,2396.13 L225.39,2396.47 L220.08,2397.25 L214.31,2398.08 L207.79,2398.34 L200.98,2397.59 L194.71,2395.8 L189.63,2393.33 L185.76,2390.62 L182.69,2388 L179.94,2385.53 L177.4,2383.11 L175.4,2380.64 L174.42,2378.14 L174.76,2375.75 L176.27,2373.59 L178.5,2371.68 L180.98,2369.9 L183.53,2368.12 L186.35,2366.3 L189.84,2364.58 L194.28,2363.18 L199.67,2362.32 L205.72,2362.07 L212.13,2362.36 L218.68,2363.08 L225.31,2364.17 L231.94,2365.65 L238.35,2367.58 L244.32,2369.95 L249.72,2372.7 L254.58,2375.75 L258.95,2379.1 L262.53,2382.75Z" fill="#fff"/>
</g>
<g filter="url(#spk)">
<rect x="219.68" y="2367.94" width="1.77" height="2.28" fill="#a0e070"/>
<rect x="210.23" y="2397.17" width="2.28" height="2.41" fill="#4cf04c"/>
<rect x="206.88" y="2398.22" width="2.97" height="2.76" fill="#45d0d0"/>
<rect x="197.69" y="2379.4" width="1.68" height="2.39" fill="#4cf04c"/>
<rect x="245.23" y="2395.67" width="1.71" height="2.62" fill="#4cf04c"/>
<rect x="249.88" y="2379.12" width="2.98" height="2.72" fill="#d0c870"/>
<rect x="248.24" y="2383.54" width="2.98" height="2.14" fill="#4fb0ff"/>
<rect x="213.58" y="2377.12" width="2.94" height="1.58" fill="#4fb0ff"/>
<rect x="223.97" y="2368.54" width="2.12" height="1.59" fill="#45d0d0"/>
<rect x="232.46" y="2381.63" width="2.7" height="2.88" fill="#45e08a"/>
<rect x="182.28" y="2383.29" width="2.3" height="2.77" fill="#45e08a"/>
<rect x="240.11" y="2383.34" width="2.97" height="1.49" fill="#4fb0ff"/>
<rect x="222.69" y="2383.67" width="2.28" height="2.82" fill="#8aa8ff"/>
<rect x="217.81" y="2367.39" width="2.08" height="2.66" fill="#4cf04c"/>
<rect x="216.27" y="2396.84" width="2.46" height="2.48" fill="#5a8cff"/>
<rect x="224.65" y="2380.23" width="1.85" height="2.53" fill="#8aa8ff"/>
<rect x="240.06" y="2379.4" width="2.64" height="1.85" fill="#5a8cff"/>
<rect x="251.67" y="2376.06" width="2.31" height="2.45" fill="#45d0d0"/>
<rect x="224.23" y="2376.89" width="1.92" height="2.37" fill="#4cf04c"/>
<rect x="211.62" y="2364" width="1.93" height="1.48" fill="#4cf04c"/>
<rect x="258.29" y="2389.48" width="2.93" height="1.52" fill="#5a8cff"/>
<rect x="222.58" y="2390.48" width="2.72" height="1.84" fill="#4fb0ff"/>
<rect x="257.96" y="2383.47" width="2.47" height="2.1" fill="#5a8cff"/>
<rect x="232.41" y="2395.68" width="2.38" height="2.63" fill="#4cf04c"/>
<rect x="251.89" y="2383.14" width="1.65" height="2.24" fill="#4cf04c"/>
<rect x="215.78" y="2364.79" width="1.59" height="2.21" fill="#8aa8ff"/>
<rect x="251.52" y="2385.86" width="2.22" height="2.97" fill="#45e08a"/>
<rect x="206.53" y="2390.9" width="2.18" height="1.54" fill="#8aa8ff"/>
<rect x="191.83" y="2370.2" width="2.7" height="1.55" fill="#4fb0ff"/>
<rect x="247.31" y="2381.18" width="1.43" height="2.73" fill="#5a8cff"/>
<rect x="181.91" y="2381.13" width="1.88" height="1.61" fill="#4cf04c"/>
<rect x="217.16" y="2390.35" width="2.62" height="2.49" fill="#5a8cff"/>
<rect x="208.93" y="2363.22" width="2.06" height="2.49" fill="#45e08a"/>
<rect x="179.77" y="2381.41" width="1.93" height="1.7" fill="#45e08a"/>
<rect x="217.73" y="2365.77" width="2.62" height="2.18" fill="#45e08a"/>
<rect x="249.99" y="2386.75" width="2.04" height="2.22" fill="#5a8cff"/>
<rect x="219.48" y="2386.3" width="2.62" height="2.6" fill="#4cf04c"/>
<rect x="229.58" y="2380.24" width="1.59" height="1.68" fill="#4cf04c"/>
<rect x="239.67" y="2370.39" width="2.64" height="2.43" fill="#4cf04c"/>
<rect x="205.89" y="2396.18" width="2.89" height="2.65" fill="#4fb0ff"/>
<rect x="213.49" y="2376.47" width="1.97" height="2.57" fill="#4cf04c"/>
<rect x="194.48" y="2370.12" width="2.6" height="2.8" fill="#4fb0ff"/>
<rect x="187.45" y="2387.18" width="2.75" height="1.84" fill="#a0e070"/>
<rect x="195.23" y="2386.14" width="2.63" height="2.15" fill="#4fb0ff"/>
<rect x="239.9" y="2371.96" width="2.76" height="1.71" fill="#5a8cff"/>
<rect x="239.14" y="2392.91" width="2.55" height="2.03" fill="#45d0d0"/>
<rect x="224.29" y="2368.33" width="2.05" height="2.43" fill="#4fb0ff"/>
<rect x="194.15" y="2382.76" width="2.3" height="2.48" fill="#45d0d0"/>
<rect x="201.54" y="2388.62" width="2.13" height="1.84" fill="#8aa8ff"/>
<rect x="256.55" y="2391.62" width="3" height="2.12" fill="#a0e070"/>
<rect x="204.73" y="2367.17" width="1.99" height="2.26" fill="#4cf04c"/>
<rect x="243.01" y="2389.81" width="1.94" height="2.4" fill="#45d0d0"/>
<rect x="241.63" y="2380.91" width="2.77" height="1.59" fill="#45e08a"/>
<rect x="221.57" y="2393.01" width="2.8" height="1.72" fill="#d0c870"/>
<rect x="196.68" y="2370.31" width="1.64" height="2.71" fill="#4fb0ff"/>
<rect x="258.48" y="2381.93" width="2.05" height="2.11" fill="#4fb0ff"/>
<rect x="224.21" y="2390.11" width="1.44" height="1.56" fill="#45d0d0"/>
<rect x="192.32" y="2378.99" width="1.77" height="1.96" fill="#8aa8ff"/>
<rect x="175.59" y="2376.32" width="1.43" height="2.29" fill="#4cf04c"/>
<rect x="228.23" y="2388.84" width="1.48" height="2.17" fill="#4fb0ff"/>
<rect x="216.88" y="2378.56" width="1.44" height="2.33" fill="#8aa8ff"/>
<rect x="241.45" y="2379.87" width="2.02" height="2.8" fill="#4cf04c"/>
<rect x="234.79" y="2394.68" width="1.87" height="2.86" fill="#45d0d0"/>
<rect x="200.72" y="2392.75" width="1.42" height="2.9" fill="#4cf04c"/>
<rect x="200.33" y="2373.93" width="1.85" height="1.56" fill="#45e08a"/>
<rect x="180.44" y="2376.61" width="1.54" height="1.55" fill="#45d0d0"/>
<rect x="181.17" y="2380.26" width="2.85" height="2.38" fill="#4cf04c"/>
<rect x="247.54" y="2371.87" width="1.91" height="1.65" fill="#45e08a"/>
<rect x="216.74" y="2391.96" width="1.56" height="2.37" fill="#4fb0ff"/>
<rect x="212.02" y="2372.63" width="2.74" height="1.45" fill="#a0e070"/>
<rect x="227.62" y="2376.58" width="2.06" height="1.59" fill="#45e08a"/>
<rect x="254.5" y="2384.16" width="2.52" height="1.86" fill="#45d0d0"/>
<rect x="228.53" y="2382.92" width="2.06" height="1.6" fill="#a0e070"/>
<rect x="179.41" y="2372.03" width="2" height="1.98" fill="#8aa8ff"/>
<rect x="208.21" y="2362.52" width="1.62" height="1.51" fill="#4fb0ff"/>
<rect x="238.36" y="2376.18" width="2.73" height="2.74" fill="#a0e070"/>
<rect x="206.71" y="2367.55" width="2.98" height="2.3" fill="#5a8cff"/>
<rect x="223.66" y="2372.09" width="1.87" height="2.07" fill="#5a8cff"/>
<rect x="197.5" y="2394.45" width="2.36" height="2.07" fill="#5a8cff"/>
<rect x="228.26" y="2376.78" width="2.65" height="2.09" fill="#8aa8ff"/>
<rect x="192.67" y="2380.12" width="2.11" height="1.56" fill="#4cf04c"/>
<rect x="197.01" y="2395.03" width="2.61" height="1.59" fill="#a0e070"/>
<rect x="219.42" y="2382.58" width="1.4" height="1.68" fill="#45e08a"/>
<rect x="211.41" y="2380.65" width="1.77" height="2.05" fill="#d0c870"/>
<rect x="197.4" y="2377.36" width="2.68" height="2.58" fill="#4cf04c"/>
<rect x="224.78" y="2374.76" width="2.27" height="2.32" fill="#5a8cff"/>
<rect x="190.32" y="2373.42" width="2.26" height="1.74" fill="#5a8cff"/>
<rect x="255.5" y="2379.12" width="2.5" height="2.61" fill="#45d0d0"/>
<rect x="223.1" y="2389.59" width="2.54" height="1.88" fill="#4fb0ff"/>
<rect x="195.84" y="2386.83" width="2.66" height="1.7" fill="#45e08a"/>
</g>
<rect x="149.3" y="2433.3" width="114.3" height="114.4" fill="#000"/>
<g filter="url(#hm6)">
<rect x="149.3" y="2433.3" width="114.3" height="114.4" fill="#000" fill-opacity="0.004"/>
<path d="M260.98,2501.03 L259.5,2504.49 L255.6,2507.32 L250.28,2509.42 L244.58,2511.01 L239.12,2512.39 L233.83,2513.76 L228.3,2515.02 L222.16,2515.85 L215.45,2515.92 L208.58,2515.06 L202.15,2513.36 L196.54,2511.11 L191.81,2508.64 L187.74,2506.17 L184.08,2503.74 L180.79,2501.27 L178.12,2498.69 L176.45,2496.02 L176.15,2493.37 L177.29,2490.94 L179.6,2488.85 L182.55,2487.14 L185.55,2485.65 L188.19,2484.13 L190.47,2482.3 L192.83,2480.07 L195.93,2477.56 L200.4,2475.19 L206.43,2473.5 L213.66,2472.97 L221.21,2473.82 L228.14,2475.9 L233.86,2478.75 L238.44,2481.82 L242.5,2484.77 L246.77,2487.57 L251.5,2490.45 L256.17,2493.67 L259.71,2497.28Z" fill="#fff"/>
</g>
<g filter="url(#spk)">
<rect x="191.69" y="2487.83" width="1.45" height="2.02" fill="#4cf04c"/>
<rect x="199.43" y="2506.39" width="2.77" height="2.84" fill="#45e08a"/>
<rect x="256.55" y="2497.7" width="2.81" height="2.27" fill="#4cf04c"/>
<rect x="220.3" y="2495.74" width="1.55" height="1.7" fill="#4fb0ff"/>
<rect x="245.07" y="2501.17" width="1.45" height="1.41" fill="#45e08a"/>
<rect x="221.08" y="2492.59" width="1.6" height="1.69" fill="#4fb0ff"/>
<rect x="227" y="2486.16" width="2.09" height="2.28" fill="#45e08a"/>
<rect x="248.52" y="2508.19" width="2.92" height="2.7" fill="#45e08a"/>
<rect x="234.42" y="2509.44" width="2.84" height="2.25" fill="#4cf04c"/>
<rect x="182.6" y="2501.49" width="2.56" height="2.84" fill="#4fb0ff"/>
<rect x="189.38" y="2504.72" width="2.2" height="2.47" fill="#45e08a"/>
<rect x="215.03" y="2474.95" width="2.67" height="1.65" fill="#45e08a"/>
<rect x="197.56" y="2508.76" width="2.64" height="1.82" fill="#5a8cff"/>
<rect x="222.64" y="2486.58" width="1.87" height="1.67" fill="#a0e070"/>
<rect x="203.87" y="2480.9" width="1.82" height="2.67" fill="#d0c870"/>
<rect x="223.34" y="2500.83" width="2.75" height="2.51" fill="#45e08a"/>
<rect x="231.77" y="2494.76" width="1.59" height="2.12" fill="#d0c870"/>
<rect x="198.49" y="2495.23" width="1.9" height="1.79" fill="#a0e070"/>
<rect x="205.23" y="2477.35" width="2.73" height="1.49" fill="#4cf04c"/>
<rect x="243.35" y="2506.38" width="2.25" height="2.49" fill="#45d0d0"/>
<rect x="225.25" y="2484.38" width="2.66" height="2.67" fill="#4fb0ff"/>
<rect x="186.57" y="2503.88" width="1.65" height="2.92" fill="#45e08a"/>
<rect x="182.72" y="2490.65" width="2.43" height="2.62" fill="#45d0d0"/>
<rect x="216.16" y="2511.72" width="2.82" height="2.84" fill="#45e08a"/>
<rect x="231.37" y="2477.7" width="1.88" height="1.89" fill="#8aa8ff"/>
<rect x="221.54" y="2506.08" width="2.87" height="2.66" fill="#45e08a"/>
<rect x="199.46" y="2500.31" width="2.61" height="1.84" fill="#45e08a"/>
<rect x="236.64" y="2480.65" width="2.18" height="2.11" fill="#d0c870"/>
<rect x="208.97" y="2507.37" width="2.15" height="2.25" fill="#d0c870"/>
<rect x="209.3" y="2496.1" width="2.94" height="2.91" fill="#45d0d0"/>
<rect x="225.9" y="2477.55" width="1.48" height="2.05" fill="#45e08a"/>
<rect x="209.64" y="2502.4" width="2.53" height="2.01" fill="#8aa8ff"/>
<rect x="203.65" y="2491.55" width="1.48" height="1.75" fill="#a0e070"/>
<rect x="243.18" y="2496.22" width="1.42" height="2.31" fill="#4cf04c"/>
<rect x="182.37" y="2495.7" width="1.95" height="2.67" fill="#45d0d0"/>
<rect x="254.5" y="2500.15" width="2.59" height="2.86" fill="#45d0d0"/>
<rect x="179.24" y="2491.76" width="2.24" height="2.16" fill="#4cf04c"/>
<rect x="198.45" y="2497.91" width="1.91" height="2.62" fill="#45e08a"/>
<rect x="215.34" y="2492.56" width="2.97" height="2.58" fill="#4cf04c"/>
<rect x="239.89" y="2495.46" width="1.45" height="1.42" fill="#4cf04c"/>
<rect x="241" y="2490.51" width="2.1" height="1.58" fill="#4fb0ff"/>
<rect x="213.91" y="2511.43" width="1.58" height="2.68" fill="#4cf04c"/>
<rect x="229.64" y="2514.21" width="2.15" height="2.35" fill="#a0e070"/>
<rect x="188.2" y="2504.14" width="1.58" height="2.05" fill="#4cf04c"/>
<rect x="220.67" y="2483.06" width="2.73" height="1.5" fill="#d0c870"/>
<rect x="198.7" y="2478.9" width="2.55" height="2.19" fill="#45e08a"/>
<rect x="190.54" y="2492.59" width="1.53" height="1.76" fill="#a0e070"/>
<rect x="218.5" y="2481.33" width="2.97" height="2.18" fill="#4cf04c"/>
<rect x="255.79" y="2505.19" width="2.29" height="2.9" fill="#45d0d0"/>
<rect x="216.38" y="2483.53" width="2.03" height="2.67" fill="#45d0d0"/>
<rect x="220.01" y="2481.43" width="1.65" height="1.48" fill="#45e08a"/>
<rect x="222.14" y="2501.01" width="2.03" height="2.48" fill="#4cf04c"/>
<rect x="179.54" y="2496.7" width="2.93" height="1.63" fill="#4fb0ff"/>
<rect x="206.93" y="2505.41" width="1.48" height="2.16" fill="#4cf04c"/>
<rect x="200.55" y="2500.18" width="2" height="1.65" fill="#45e08a"/>
<rect x="208.2" y="2485.47" width="1.55" height="2.18" fill="#45e08a"/>
<rect x="203.97" y="2500.24" width="2.96" height="2.5" fill="#4cf04c"/>
<rect x="229.35" y="2484.71" width="2.46" height="1.94" fill="#4fb0ff"/>
<rect x="220.37" y="2480.01" width="1.48" height="2.89" fill="#4fb0ff"/>
<rect x="215.23" y="2512.29" width="2.56" height="2.45" fill="#4cf04c"/>
<rect x="182.84" y="2500.58" width="2.03" height="1.71" fill="#45e08a"/>
<rect x="242.05" y="2501.6" width="1.48" height="2.45" fill="#5a8cff"/>
<rect x="213.25" y="2512.31" width="1.67" height="2.27" fill="#d0c870"/>
<rect x="192.5" y="2495.34" width="1.47" height="2.7" fill="#4fb0ff"/>
<rect x="226.78" y="2486.31" width="1.95" height="2.43" fill="#45e08a"/>
<rect x="186.59" y="2502.6" width="2.87" height="1.9" fill="#45e08a"/>
<rect x="220.5" y="2498.56" width="2.2" height="2.78" fill="#d0c870"/>
<rect x="211.39" y="2511.04" width="1.75" height="2.05" fill="#4cf04c"/>
<rect x="219.87" y="2483.83" width="2.38" height="2.96" fill="#4cf04c"/>
<rect x="249.56" y="2492.54" width="2.57" height="2.2" fill="#45e08a"/>
<rect x="191.74" y="2501.98" width="1.99" height="1.99" fill="#4cf04c"/>
<rect x="199.21" y="2479.65" width="2.33" height="2.14" fill="#4fb0ff"/>
<rect x="201.64" y="2488.11" width="1.87" height="1.46" fill="#4fb0ff"/>
<rect x="213.05" y="2514.12" width="2.45" height="1.84" fill="#5a8cff"/>
<rect x="195.15" y="2498.78" width="1.88" height="1.63" fill="#45d0d0"/>
<rect x="196.62" y="2492.27" width="2.66" height="1.58" fill="#45d0d0"/>
<rect x="209.88" y="2481.47" width="2.41" height="2.41" fill="#45d0d0"/>
<rect x="194.62" y="2495.07" width="2.16" height="2.74" fill="#a0e070"/>
<rect x="184.1" y="2495.86" width="2.54" height="1.47" fill="#45d0d0"/>
<rect x="188.09" y="2490.26" width="2.53" height="1.58" fill="#45d0d0"/>
</g>
<rect x="279.5" y="2314.9" width="114.2" height="114.3" fill="#000"/>
<g filter="url(#hm7)">
<rect x="279.5" y="2314.9" width="114.2" height="114.3" fill="#000" fill-opacity="0.004"/>
<path d="M383.24,2379.58 L381.95,2381.58 L379.99,2383.46 L377.73,2385.3 L374.97,2387.14 L371.09,2388.8 L365.64,2389.99 L358.68,2390.45 L350.82,2390.12 L342.86,2389.18 L335.33,2387.87 L328.35,2386.41 L321.89,2384.83 L315.96,2383.12 L310.75,2381.24 L306.37,2379.24 L302.57,2377.22 L298.77,2375.17 L294.51,2373 L289.92,2370.56 L286.05,2367.86 L284.38,2365.12 L286.02,2362.79 L291.02,2361.24 L298.22,2360.58 L305.97,2360.53 L313.01,2360.61 L319.12,2360.43 L324.98,2359.98 L331.42,2359.56 L338.73,2359.64 L346.4,2360.51 L353.56,2362.13 L359.63,2364.19 L364.67,2366.37 L369.22,2368.49 L373.7,2370.57 L377.96,2372.75 L381.36,2375.04 L383.18,2377.37Z" fill="#fff"/>
</g>
<g filter="url(#spk)">
<rect x="372.38" y="2373.66" width="2.9" height="2.23" fill="#4cf04c"/>
<rect x="356.35" y="2386.07" width="1.67" height="3" fill="#5a8cff"/>
<rect x="319.99" y="2373.18" width="1.62" height="2.21" fill="#4fb0ff"/>
<rect x="315.84" y="2379.95" width="1.49" height="1.85" fill="#8aa8ff"/>
<rect x="351.33" y="2372.3" width="1.8" height="2.64" fill="#45e08a"/>
<rect x="328.61" y="2385.04" width="1.95" height="2.93" fill="#4fb0ff"/>
<rect x="323.57" y="2369.69" width="2.01" height="1.63" fill="#4fb0ff"/>
<rect x="304.07" y="2376.09" width="2.45" height="2.16" fill="#4cf04c"/>
<rect x="314.25" y="2382.42" width="2.02" height="1.52" fill="#45e08a"/>
<rect x="348.79" y="2366.63" width="1.78" height="1.9" fill="#45e08a"/>
<rect x="374.14" y="2378.83" width="1.77" height="2.74" fill="#45e08a"/>
<rect x="297.61" y="2365.14" width="1.92" height="2.06" fill="#8aa8ff"/>
<rect x="355.88" y="2376.18" width="1.82" height="2.51" fill="#45d0d0"/>
<rect x="345.29" y="2389.13" width="2.47" height="2.35" fill="#d0c870"/>
<rect x="364.77" y="2387.67" width="1.5" height="2.25" fill="#45d0d0"/>
<rect x="368.37" y="2382.83" width="2.25" height="2.17" fill="#45e08a"/>
<rect x="347.61" y="2379.93" width="2.69" height="1.49" fill="#4fb0ff"/>
<rect x="339.33" y="2360.34" width="1.91" height="1.94" fill="#45e08a"/>
<rect x="321.94" y="2377.39" width="2.74" height="2.97" fill="#5a8cff"/>
<rect x="338.95" y="2384.84" width="2.47" height="2.16" fill="#4cf04c"/>
<rect x="320.35" y="2362.8" width="2.47" height="1.41" fill="#4cf04c"/>
<rect x="324.52" y="2368.52" width="2.27" height="1.89" fill="#4fb0ff"/>
<rect x="345.25" y="2366.8" width="1.47" height="2.46" fill="#45d0d0"/>
<rect x="313.46" y="2366.04" width="2.13" height="2.71" fill="#4cf04c"/>
<rect x="329.04" y="2372.76" width="2.36" height="2.16" fill="#45e08a"/>
<rect x="321.05" y="2380.94" width="1.61" height="2.41" fill="#45e08a"/>
<rect x="317.86" y="2377.6" width="2.04" height="2.04" fill="#a0e070"/>
<rect x="368.47" y="2384.29" width="1.5" height="2.25" fill="#8aa8ff"/>
<rect x="320.45" y="2369.16" width="2.61" height="2.45" fill="#45e08a"/>
<rect x="330.49" y="2385.1" width="1.84" height="1.97" fill="#45d0d0"/>
<rect x="314.32" y="2364.94" width="1.61" height="2.49" fill="#5a8cff"/>
<rect x="316.89" y="2368.07" width="2.73" height="1.47" fill="#4cf04c"/>
<rect x="309.52" y="2364.32" width="2.91" height="2.04" fill="#45e08a"/>
<rect x="349.83" y="2363.21" width="1.46" height="2.22" fill="#45d0d0"/>
<rect x="303.42" y="2374.42" width="1.92" height="2.89" fill="#4cf04c"/>
<rect x="333.3" y="2364.98" width="2.05" height="1.97" fill="#45d0d0"/>
<rect x="368.14" y="2371.21" width="2.84" height="2.86" fill="#8aa8ff"/>
<rect x="297.35" y="2360.97" width="2" height="1.75" fill="#d0c870"/>
<rect x="364.31" y="2378.49" width="1.58" height="1.6" fill="#45d0d0"/>
<rect x="374.72" y="2379.33" width="1.66" height="2.74" fill="#45d0d0"/>
<rect x="332.9" y="2377.67" width="1.62" height="2.96" fill="#5a8cff"/>
<rect x="299.47" y="2362.64" width="2.9" height="2.22" fill="#4cf04c"/>
<rect x="351.07" y="2386.12" width="2.81" height="2.48" fill="#45e08a"/>
<rect x="324.57" y="2385.41" width="2.16" height="1.57" fill="#5a8cff"/>
<rect x="338.52" y="2385.1" width="2.1" height="2.27" fill="#45d0d0"/>
<rect x="307.48" y="2361.23" width="1.57" height="2.2" fill="#45e08a"/>
<rect x="344.77" y="2376.14" width="2.69" height="2.16" fill="#4fb0ff"/>
<rect x="314.74" y="2374.93" width="2.53" height="1.95" fill="#45d0d0"/>
<rect x="330.8" y="2365.84" width="1.91" height="2.83" fill="#8aa8ff"/>
<rect x="327.28" y="2371.36" width="1.6" height="1.89" fill="#45d0d0"/>
<rect x="300.24" y="2374.83" width="1.92" height="1.44" fill="#45e08a"/>
<rect x="335.44" y="2378.03" width="2.85" height="2.24" fill="#45e08a"/>
<rect x="306.57" y="2372.13" width="2.88" height="2.63" fill="#4cf04c"/>
<rect x="331.64" y="2383.09" width="2.67" height="1.64" fill="#4cf04c"/>
<rect x="379.47" y="2383.75" width="1.42" height="1.95" fill="#4cf04c"/>
<rect x="353.69" y="2378.45" width="1.55" height="2.24" fill="#d0c870"/>
<rect x="325.97" y="2362.81" width="2.43" height="2.86" fill="#45d0d0"/>
<rect x="324.32" y="2364.59" width="1.93" height="2.72" fill="#45d0d0"/>
<rect x="360.94" y="2364.95" width="1.66" height="1.65" fill="#5a8cff"/>
<rect x="330.89" y="2369.46" width="1.79" height="2.52" fill="#5a8cff"/>
</g>
<rect x="279.5" y="2433.3" width="114.2" height="114.4" fill="#000"/>
<g filter="url(#hm8)">
<rect x="279.5" y="2433.3" width="114.2" height="114.4" fill="#000" fill-opacity="0.004"/>
<path d="M387.14,2506.96 L386.01,2509.13 L383.72,2511 L380.26,2512.51 L375.72,2513.6 L370.22,2514.25 L363.98,2514.46 L357.19,2514.25 L350.03,2513.67 L342.63,2512.75 L335.06,2511.49 L327.45,2509.9 L319.94,2507.96 L312.76,2505.7 L306.19,2503.17 L300.49,2500.44 L295.86,2497.62 L292.4,2494.8 L290.11,2492.06 L288.94,2489.46 L288.87,2487.04 L289.91,2484.85 L292.11,2482.95 L295.52,2481.41 L300.09,2480.31 L305.66,2479.69 L312,2479.53 L318.85,2479.79 L326.03,2480.41 L333.4,2481.35 L340.92,2482.59 L348.52,2484.14 L356.05,2486.04 L363.28,2488.28 L369.91,2490.81 L375.64,2493.55 L380.28,2496.38 L383.73,2499.21 L386,2501.95 L387.13,2504.55Z" fill="#fff"/>
</g>
<g filter="url(#spk)">
<rect x="302.38" y="2498.95" width="2.93" height="2.01" fill="#45e08a"/>
<rect x="345.61" y="2492.87" width="2.81" height="2.56" fill="#d0c870"/>
<rect x="342.14" y="2497.54" width="1.84" height="1.63" fill="#d0c870"/>
<rect x="314.53" y="2489.24" width="2.84" height="2" fill="#45e08a"/>
<rect x="314.99" y="2487.54" width="2.83" height="2.57" fill="#5a8cff"/>
<rect x="332.78" y="2499.76" width="1.78" height="2.41" fill="#8aa8ff"/>
<rect x="336.53" y="2487.74" width="2.03" height="2.08" fill="#45d0d0"/>
<rect x="379.56" y="2508.97" width="1.97" height="2.63" fill="#45d0d0"/>
<rect x="334.37" y="2485.12" width="2.19" height="1.95" fill="#8aa8ff"/>
<rect x="366.53" y="2512.05" width="2.01" height="2.07" fill="#45e08a"/>
<rect x="324.82" y="2496.47" width="2.32" height="1.56" fill="#a0e070"/>
<rect x="322.23" y="2507.68" width="2.35" height="2.45" fill="#a0e070"/>
<rect x="343.59" y="2512.01" width="2.52" height="1.57" fill="#a0e070"/>
<rect x="298.15" y="2486.56" width="1.68" height="2.52" fill="#4fb0ff"/>
<rect x="301.48" y="2486.56" width="1.91" height="1.75" fill="#4cf04c"/>
<rect x="314.4" y="2482.54" width="2.58" height="1.41" fill="#45e08a"/>
<rect x="322.35" y="2491.26" width="1.46" height="2.21" fill="#5a8cff"/>
<rect x="304.43" y="2483.55" width="2.87" height="1.49" fill="#45e08a"/>
<rect x="343" y="2487.68" width="1.64" height="2.83" fill="#5a8cff"/>
<rect x="311.16" y="2492.24" width="3" height="2.97" fill="#4cf04c"/>
<rect x="315.69" y="2498.77" width="2.49" height="2.62" fill="#45d0d0"/>
<rect x="309.34" y="2479.94" width="2.18" height="1.5" fill="#45d0d0"/>
<rect x="364.05" y="2503.9" width="2.95" height="2.12" fill="#45e08a"/>
<rect x="371.43" y="2500.06" width="2.1" height="1.73" fill="#45e08a"/>
<rect x="327.47" y="2507.5" width="1.9" height="1.63" fill="#45e08a"/>
<rect x="322.71" y="2493.13" width="2.54" height="1.97" fill="#5a8cff"/>
<rect x="324.89" y="2488.88" width="1.91" height="1.88" fill="#45d0d0"/>
<rect x="381.62" y="2497.99" width="1.66" height="1.94" fill="#4fb0ff"/>
<rect x="378.79" y="2504.65" width="2.48" height="2.28" fill="#45e08a"/>
<rect x="350.53" y="2508.88" width="1.73" height="1.78" fill="#45e08a"/>
<rect x="331.99" y="2507.61" width="2.46" height="1.75" fill="#8aa8ff"/>
<rect x="351.67" y="2496.57" width="2.02" height="2.72" fill="#a0e070"/>
<rect x="345.3" y="2489.6" width="2.57" height="2.76" fill="#4fb0ff"/>
<rect x="347.89" y="2512.75" width="2.96" height="2.23" fill="#45e08a"/>
<rect x="304.53" y="2491.59" width="1.67" height="2.2" fill="#4fb0ff"/>
<rect x="344.48" y="2494.38" width="2.16" height="1.94" fill="#4fb0ff"/>
<rect x="382.34" y="2508.63" width="2.5" height="2.11" fill="#5a8cff"/>
<rect x="337.23" y="2486.18" width="2.32" height="1.96" fill="#5a8cff"/>
<rect x="373.71" y="2495.81" width="1.57" height="2.96" fill="#4cf04c"/>
<rect x="317.6" y="2500.65" width="2.32" height="1.46" fill="#d0c870"/>
<rect x="324.41" y="2508.6" width="2.34" height="1.55" fill="#45e08a"/>
<rect x="312.55" y="2505.23" width="2.61" height="2.81" fill="#45e08a"/>
<rect x="312.68" y="2501.85" width="2.4" height="1.86" fill="#4fb0ff"/>
<rect x="354.24" y="2504.26" width="2.13" height="2.71" fill="#5a8cff"/>
<rect x="376.44" y="2494.79" width="2.56" height="2.75" fill="#4cf04c"/>
<rect x="333.95" y="2507.67" width="2.68" height="2.7" fill="#a0e070"/>
<rect x="316.66" y="2498.43" width="2.15" height="2.73" fill="#5a8cff"/>
<rect x="368.92" y="2510.34" width="2.54" height="2.73" fill="#45e08a"/>
<rect x="323.46" y="2493.4" width="1.54" height="1.73" fill="#5a8cff"/>
<rect x="324.42" y="2490.94" width="1.94" height="2.75" fill="#5a8cff"/>
<rect x="323.55" y="2486.27" width="2.68" height="2.69" fill="#45d0d0"/>
<rect x="301.97" y="2499.9" width="2.4" height="1.66" fill="#4fb0ff"/>
<rect x="296.52" y="2485.65" width="2.18" height="1.72" fill="#45e08a"/>
<rect x="357.94" y="2490.82" width="1.88" height="2.28" fill="#45d0d0"/>
<rect x="321.38" y="2491.22" width="2.72" height="2.72" fill="#45e08a"/>
<rect x="336.58" y="2482.64" width="2.34" height="2.75" fill="#5a8cff"/>
<rect x="381.46" y="2509.98" width="1.81" height="1.98" fill="#4cf04c"/>
<rect x="327.03" y="2491.87" width="2.76" height="2.89" fill="#4cf04c"/>
<rect x="318.13" y="2493.82" width="1.64" height="1.52" fill="#4cf04c"/>
<rect x="348.71" y="2499.72" width="1.84" height="1.62" fill="#45e08a"/>
</g>
<rect x="408.2" y="2404" width="13.2" height="143.8" fill="url(#cbar)" stroke="#1a1a1a" stroke-width="1.2"/>
<text x="426.3" y="2410.7" font-size="24" textLength="41.5" lengthAdjust="spacingAndGlyphs">255</text>
<text x="426.3" y="2463.2" font-size="24" textLength="41.5" lengthAdjust="spacingAndGlyphs">170</text>
<text x="426.3" y="2511.4" font-size="24" textLength="28" lengthAdjust="spacingAndGlyphs">85</text>
<text x="426.3" y="2563.5" font-size="24" textLength="14" lengthAdjust="spacingAndGlyphs">0</text>
</g>
</svg>
</body></html>
